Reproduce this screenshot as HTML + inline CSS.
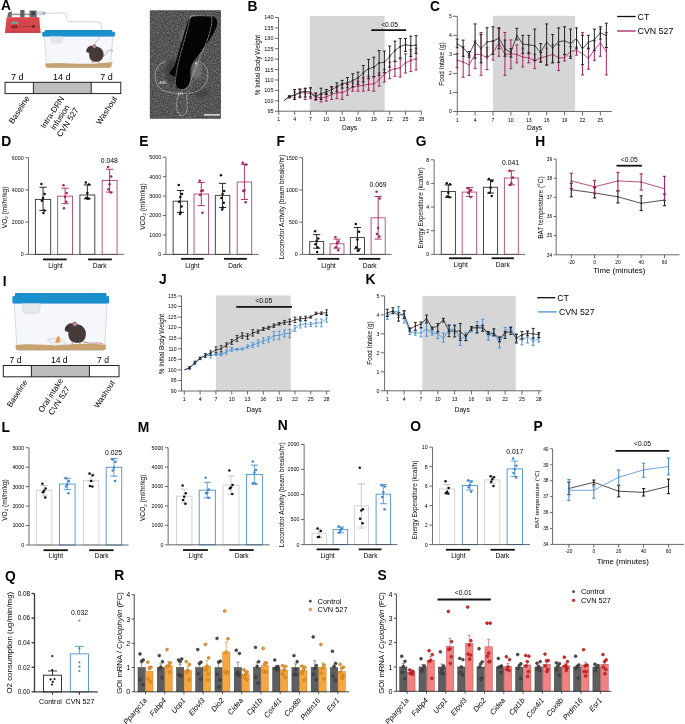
<!DOCTYPE html>
<html><head><meta charset="utf-8"><style>html,body{margin:0;padding:0;background:#fff;width:685px;height:724px;overflow:hidden}svg{display:block;will-change:transform}text{font-family:"Liberation Sans",sans-serif}</style></head><body>
<svg width="685" height="724" viewBox="0 0 685 724" font-family='"Liberation Sans", sans-serif'>
<rect x="0" y="0" width="685" height="724" fill="#fff"/>
<path d="M7.2 17.3 L8 12.8 L11.8 11 L11.8 17.3 Z" fill="#6b6b6b"/>
<rect x="11.5" y="13.6" width="25" height="1.6" fill="#9a9a9a"/>
<rect x="20.2" y="10.0" width="4.4" height="7.4" rx="0.8" fill="#626262"/>
<rect x="29.5" y="10.4" width="7.2" height="7.0" rx="0.5" fill="#6a6a6a"/>
<rect x="31.5" y="11.8" width="3.4" height="3.2" fill="#3c3c3c"/>
<rect x="36.5" y="11.8" width="7.2" height="3.0" rx="0.4" fill="#d9dde2" stroke="#8f959c" stroke-width="0.35"/>
<rect x="42.6" y="12.0" width="2.6" height="2.6" rx="0.5" fill="#8ea3c6"/>
<path d="M6.6 17.2 L39.2 17.2 L40.6 32.8 L5.0 32.8 Z" fill="#d8464b"/>
<path d="M5 31.6 L40.6 31.6 L40.6 32.8 L5.0 32.8 Z" fill="#b93a3f"/>
<rect x="11.3" y="21.8" width="6.9" height="2.0" fill="#50b6a0"/>
<rect x="11.3" y="25.4" width="6.2" height="2.8" fill="#7e2a30"/>
<rect x="19.4" y="25.9" width="2.1" height="1.2" fill="#8a2e33"/>
<rect x="22.7" y="25.9" width="2.1" height="1.2" fill="#8a2e33"/>
<rect x="26" y="25.9" width="2.1" height="1.2" fill="#8a2e33"/>
<rect x="29.3" y="25.9" width="2.1" height="1.2" fill="#8a2e33"/>
<rect x="32.6" y="25.9" width="2.1" height="1.2" fill="#8a2e33"/>
<rect x="32.2" y="25.1" width="2.5" height="2.5" fill="#5a2226"/>
<rect x="21" y="21.5" width="0.6" height="2.2" fill="#b03a40"/><rect x="25" y="21.5" width="0.6" height="2.2" fill="#b03a40"/>
<path d="M45 13.2 C55 13.5 64 12 66 14 C68 17 64 21 70 21.5 C80 22.5 95 21 100 22.5 C102 24 101.5 30 100.5 36.5" fill="none" stroke="#c8cdd3" stroke-width="0.9"/>
<path d="M44.2 36.5 L46.6 64.7 Q46.6 67.7 48.2 67.7 L108.9 67.7 Q110.5 67.7 110.5 64.7 L112.9 36.5 Z" fill="#f6f7fb" stroke="#b9c6d6" stroke-width="0.6"/>
<path d="M45.4 63.5 Q57.2 62.4 72.2 63.4 T102.2 62.9 T111.7 63.4 L111.7 65.2 Q111.7 67.7 108.9 67.7 L48.2 67.7 Q45.4 67.7 45.4 65.2 Z" fill="#c9a36f"/>
<rect x="44.8" y="30" width="67.5" height="2.82" rx="0.8" fill="#1a8dcb"/>
<rect x="42.2" y="31.82" width="72.7" height="4.68" rx="1.2" fill="#1b90ce"/>
<path d="M50.1 36.5 L51.3 41.5 Q51.6 43 53.6 43 L59.4 43 Q61.4 43 61.7 41.5 L62.9 36.5 Z" fill="#e4e8ed" stroke="#c3cad3" stroke-width="0.4"/>
<line x1="100.5" y1="36.5" x2="92.8" y2="46" stroke="#8b8f94" stroke-width="0.5"/>
<g transform="translate(95 53.8) scale(0.92)"><path d="M7 3 Q11 3 12 0 Q13 -3 16 -4 Q18 -5 19 -3" fill="none" stroke="#c98a8a" stroke-width="0.8"/><path d="M18 -5 L19.5 -3 L17.5 -2.5" fill="none" stroke="#c98a8a" stroke-width="0.6"/><path d="M-5 -5 C-3 -9 5 -9 8 -4 C10.5 0 9.5 6 5 8 C1 9.5 -4 8.5 -5.5 5 C-7 2 -6.5 -2 -5 -5 Z" fill="#463939"/><path d="M-9.6 -3.4 C-9 -7 -6 -9.2 -3 -8.8 C-0.5 -8.4 0.5 -6 -0.5 -3.5 C-1.5 -1.2 -5 -0.4 -7.5 -1.2 C-8.8 -1.6 -9.8 -2.4 -9.6 -3.4 Z" fill="#463939"/><ellipse cx="-0.6" cy="-8.2" rx="2.0" ry="2.3" fill="#8f6565"/><ellipse cx="-0.6" cy="-8.0" rx="1.2" ry="1.5" fill="#c79797"/><circle cx="-6.2" cy="-5" r="0.5" fill="#111"/><path d="M-3.2 7.5 L-3.8 10 L-1.6 10 Z M3.5 7.8 L3.2 10.3 L5.3 10.3 Z" fill="#c98a8a"/></g>
<rect x="33.4" y="82.3" width="57.8" height="11.3" fill="#bdbdbd"/>
<rect x="5.1" y="82.3" width="115.7" height="11.3" fill="none" stroke="#222" stroke-width="1"/>
<line x1="33.4" y1="82.3" x2="33.4" y2="93.6" stroke="#222" stroke-width="1"/>
<line x1="91.2" y1="82.3" x2="91.2" y2="93.6" stroke="#222" stroke-width="1"/>
<text x="17.3" y="79.6" font-size="9" text-anchor="middle">7 d</text>
<text x="61.7" y="79.6" font-size="9" text-anchor="middle">14 d</text>
<text x="106.4" y="79.6" font-size="9" text-anchor="middle">7 d</text>
<text transform="translate(30 98.2) rotate(-57)" font-size="8.1" text-anchor="end">Baseline</text>
<text transform="translate(54.6 113.8) rotate(-57)" font-size="8.1" text-anchor="middle">Intra-DRN</text>
<text transform="translate(62.32 118.81) rotate(-57)" font-size="8.1" text-anchor="middle">infusion</text>
<text transform="translate(70.03 123.82) rotate(-57)" font-size="8.1" text-anchor="middle">CVN 527</text>
<text transform="translate(117.6 98.6) rotate(-57)" font-size="8.1" text-anchor="end">Washout</text>
<defs><filter id="nz" color-interpolation-filters="sRGB" x="0" y="0" width="100%" height="100%"><feTurbulence type="fractalNoise" baseFrequency="0.65" numOctaves="2" seed="7"/><feColorMatrix type="matrix" values="0.4 0 0 0 0.135  0.4 0 0 0 0.135  0.4 0 0 0 0.135  0 0 0 0 1"/><feGaussianBlur stdDeviation="0.35"/></filter><filter id="bl"><feGaussianBlur stdDeviation="1.2"/></filter><clipPath id="mc"><rect x="149.9" y="10.4" width="70.9" height="108.2"/></clipPath></defs>
<rect x="149.9" y="10.4" width="70.9" height="108.2" fill="#5a5a5a"/>
<g clip-path="url(#mc)">
<rect x="149.9" y="10.4" width="70.9" height="108.2" filter="url(#nz)"/>
<g filter="url(#bl)"><ellipse cx="172" cy="72" rx="7" ry="12" fill="#303030" opacity="0.6"/><ellipse cx="197" cy="70" rx="5" ry="9" fill="#8a8a8a" opacity="0.5"/><ellipse cx="183" cy="36" rx="3" ry="6" fill="#8a8a8a" opacity="0.45"/><ellipse cx="201" cy="93" rx="8" ry="5" fill="#3a3a3a" opacity="0.5"/></g>
<path d="M189 19 C192 15 205 15 212 16 C218 17 218 24 216 28 C213 35 209 41 205 46 C200 53 196 58 192 64 C190 68 190 74 190.5 79 C190 85 187 89 182 90 C177 90 175 88 175 84 L175 76 C173 76 170 75 169.5 72.5 C171 70 173 68 174.5 66 C177 58 179 50 182 41 C184 33 186 26 189 19 Z" fill="#050505"/>
<circle cx="196" cy="63.5" r="1.1" fill="#e8e8e8" opacity="0.8"/>
</g>
<path d="M190.5 16.2 C197 15.5 205 15.6 211.6 16.2 C213 25 208 40 203 50 C198 62 193 74 190.5 82 C188 88 185 89.5 181.5 89.5 C177.5 89.5 175.5 87 175.3 83 C176 70 180 55 183 45 C186 35 188.5 25 190.5 16.2 Z" fill="none" stroke="#e2e2e2" stroke-width="0.75" stroke-dasharray="0.05 1.35" stroke-linecap="round"/>
<path d="M165.5 61.6 C160 63 155.5 68 155.3 74 C155 81 157 86 161 89 C165 92 172 93.3 180 93.5 C187 93.6 194 93 199 90.5 C205 87 207.8 81 207.7 74 C207.5 68 205 64.5 200.5 62.4" fill="none" stroke="#e2e2e2" stroke-width="0.75" stroke-dasharray="0.05 1.35" stroke-linecap="round"/>
<path d="M178.3 94.3 C177 99 176.4 104 176.6 108 C177 112 179 115.6 181.9 115.6 C185 115.6 187.2 112 187.2 107.5 C187.2 102 186.7 98 186.5 95" fill="none" stroke="#e2e2e2" stroke-width="0.75" stroke-dasharray="0.05 1.35" stroke-linecap="round"/>
<text x="158.2" y="83.9" font-size="3" fill="#e4e4e4">vlPAG</text>
<text x="178" y="95.3" font-size="3.3" fill="#e4e4e4">DR</text>
<line x1="204" y1="114.9" x2="219.9" y2="114.9" stroke="#f4f4f4" stroke-width="1.3"/>
<rect x="309.9" y="16" width="74.8" height="95.2" fill="#d6d6d6"/>
<path d="M284.08 100.76 C284.96 100.12 287.6 97.94 289.36 96.95 C291.12 95.96 292.88 95.49 294.64 94.8 C296.4 94.11 298.16 93.14 299.92 92.81 C301.68 92.48 303.44 92.67 305.2 92.81 C306.96 92.95 308.72 92.95 310.48 93.64 C312.24 94.33 314 96.26 315.76 96.95 C317.52 97.64 319.28 97.78 321.04 97.78 C322.8 97.78 324.56 97.5 326.32 96.95 C328.08 96.4 329.84 95.16 331.6 94.47 C333.36 93.77 335.12 93.14 336.88 92.81 C338.64 92.48 340.4 92.89 342.16 92.48 C343.92 92.06 345.68 91.24 347.44 90.32 C349.2 89.41 350.96 87.7 352.72 87.01 C354.48 86.32 356.24 86.46 358 86.18 C359.76 85.91 361.52 85.69 363.28 85.36 C365.04 85.02 366.8 84.47 368.56 84.2 C370.32 83.92 372.08 84.47 373.84 83.7 C375.6 82.93 377.36 81.08 379.12 79.56 C380.88 78.04 382.64 76.11 384.4 74.59 C386.16 73.07 387.92 71.42 389.68 70.45 C391.44 69.48 393.2 69.26 394.96 68.79 C396.72 68.33 398.48 68.6 400.24 67.63 C402 66.67 403.76 64.18 405.52 63 C407.28 61.81 409.04 61.2 410.8 60.51 C412.56 59.82 415.2 59.13 416.08 58.86" fill="none" stroke="#a3225f" stroke-width="0.8"/>
<line x1="289.36" y1="96.12" x2="289.36" y2="97.78" stroke="#a3225f" stroke-width="1"/>
<line x1="287.86" y1="96.12" x2="290.86" y2="96.12" stroke="#a3225f" stroke-width="1"/>
<line x1="287.86" y1="97.78" x2="290.86" y2="97.78" stroke="#a3225f" stroke-width="1"/>
<circle cx="289.36" cy="96.95" r="0.9" fill="#a3225f"/>
<line x1="294.64" y1="91.98" x2="294.64" y2="97.78" stroke="#a3225f" stroke-width="1"/>
<line x1="293.14" y1="91.98" x2="296.14" y2="91.98" stroke="#a3225f" stroke-width="1"/>
<line x1="293.14" y1="97.78" x2="296.14" y2="97.78" stroke="#a3225f" stroke-width="1"/>
<circle cx="294.64" cy="94.8" r="0.9" fill="#a3225f"/>
<line x1="299.92" y1="89.17" x2="299.92" y2="97.78" stroke="#a3225f" stroke-width="1"/>
<line x1="298.42" y1="89.17" x2="301.42" y2="89.17" stroke="#a3225f" stroke-width="1"/>
<line x1="298.42" y1="97.78" x2="301.42" y2="97.78" stroke="#a3225f" stroke-width="1"/>
<circle cx="299.92" cy="92.81" r="0.9" fill="#a3225f"/>
<line x1="305.2" y1="88.67" x2="305.2" y2="99.43" stroke="#a3225f" stroke-width="1"/>
<line x1="303.7" y1="88.67" x2="306.7" y2="88.67" stroke="#a3225f" stroke-width="1"/>
<line x1="303.7" y1="99.43" x2="306.7" y2="99.43" stroke="#a3225f" stroke-width="1"/>
<circle cx="305.2" cy="92.81" r="0.9" fill="#a3225f"/>
<line x1="310.48" y1="87.84" x2="310.48" y2="98.61" stroke="#a3225f" stroke-width="1"/>
<line x1="308.98" y1="87.84" x2="311.98" y2="87.84" stroke="#a3225f" stroke-width="1"/>
<line x1="308.98" y1="98.61" x2="311.98" y2="98.61" stroke="#a3225f" stroke-width="1"/>
<circle cx="310.48" cy="93.64" r="0.9" fill="#a3225f"/>
<line x1="315.76" y1="92.81" x2="315.76" y2="100.26" stroke="#a3225f" stroke-width="1"/>
<line x1="314.26" y1="92.81" x2="317.26" y2="92.81" stroke="#a3225f" stroke-width="1"/>
<line x1="314.26" y1="100.26" x2="317.26" y2="100.26" stroke="#a3225f" stroke-width="1"/>
<circle cx="315.76" cy="96.95" r="0.9" fill="#a3225f"/>
<line x1="321.04" y1="94.47" x2="321.04" y2="101.92" stroke="#a3225f" stroke-width="1"/>
<line x1="319.54" y1="94.47" x2="322.54" y2="94.47" stroke="#a3225f" stroke-width="1"/>
<line x1="319.54" y1="101.92" x2="322.54" y2="101.92" stroke="#a3225f" stroke-width="1"/>
<circle cx="321.04" cy="97.78" r="0.9" fill="#a3225f"/>
<line x1="326.32" y1="93.64" x2="326.32" y2="101.09" stroke="#a3225f" stroke-width="1"/>
<line x1="324.82" y1="93.64" x2="327.82" y2="93.64" stroke="#a3225f" stroke-width="1"/>
<line x1="324.82" y1="101.09" x2="327.82" y2="101.09" stroke="#a3225f" stroke-width="1"/>
<circle cx="326.32" cy="96.95" r="0.9" fill="#a3225f"/>
<line x1="331.6" y1="87.01" x2="331.6" y2="99.43" stroke="#a3225f" stroke-width="1"/>
<line x1="330.1" y1="87.01" x2="333.1" y2="87.01" stroke="#a3225f" stroke-width="1"/>
<line x1="330.1" y1="99.43" x2="333.1" y2="99.43" stroke="#a3225f" stroke-width="1"/>
<circle cx="331.6" cy="94.47" r="0.9" fill="#a3225f"/>
<line x1="336.88" y1="86.18" x2="336.88" y2="98.61" stroke="#a3225f" stroke-width="1"/>
<line x1="335.38" y1="86.18" x2="338.38" y2="86.18" stroke="#a3225f" stroke-width="1"/>
<line x1="335.38" y1="98.61" x2="338.38" y2="98.61" stroke="#a3225f" stroke-width="1"/>
<circle cx="336.88" cy="92.81" r="0.9" fill="#a3225f"/>
<line x1="342.16" y1="84.53" x2="342.16" y2="99.43" stroke="#a3225f" stroke-width="1"/>
<line x1="340.66" y1="84.53" x2="343.66" y2="84.53" stroke="#a3225f" stroke-width="1"/>
<line x1="340.66" y1="99.43" x2="343.66" y2="99.43" stroke="#a3225f" stroke-width="1"/>
<circle cx="342.16" cy="92.48" r="0.9" fill="#a3225f"/>
<line x1="347.44" y1="84.53" x2="347.44" y2="95.29" stroke="#a3225f" stroke-width="1"/>
<line x1="345.94" y1="84.53" x2="348.94" y2="84.53" stroke="#a3225f" stroke-width="1"/>
<line x1="345.94" y1="95.29" x2="348.94" y2="95.29" stroke="#a3225f" stroke-width="1"/>
<circle cx="347.44" cy="90.32" r="0.9" fill="#a3225f"/>
<line x1="352.72" y1="82.87" x2="352.72" y2="91.15" stroke="#a3225f" stroke-width="1"/>
<line x1="351.22" y1="82.87" x2="354.22" y2="82.87" stroke="#a3225f" stroke-width="1"/>
<line x1="351.22" y1="91.15" x2="354.22" y2="91.15" stroke="#a3225f" stroke-width="1"/>
<circle cx="352.72" cy="87.01" r="0.9" fill="#a3225f"/>
<line x1="358" y1="81.22" x2="358" y2="91.15" stroke="#a3225f" stroke-width="1"/>
<line x1="356.5" y1="81.22" x2="359.5" y2="81.22" stroke="#a3225f" stroke-width="1"/>
<line x1="356.5" y1="91.15" x2="359.5" y2="91.15" stroke="#a3225f" stroke-width="1"/>
<circle cx="358" cy="86.18" r="0.9" fill="#a3225f"/>
<line x1="363.28" y1="77.9" x2="363.28" y2="91.15" stroke="#a3225f" stroke-width="1"/>
<line x1="361.78" y1="77.9" x2="364.78" y2="77.9" stroke="#a3225f" stroke-width="1"/>
<line x1="361.78" y1="91.15" x2="364.78" y2="91.15" stroke="#a3225f" stroke-width="1"/>
<circle cx="363.28" cy="85.36" r="0.9" fill="#a3225f"/>
<line x1="368.56" y1="76.25" x2="368.56" y2="90.32" stroke="#a3225f" stroke-width="1"/>
<line x1="367.06" y1="76.25" x2="370.06" y2="76.25" stroke="#a3225f" stroke-width="1"/>
<line x1="367.06" y1="90.32" x2="370.06" y2="90.32" stroke="#a3225f" stroke-width="1"/>
<circle cx="368.56" cy="84.2" r="0.9" fill="#a3225f"/>
<line x1="373.84" y1="77.08" x2="373.84" y2="91.15" stroke="#a3225f" stroke-width="1"/>
<line x1="372.34" y1="77.08" x2="375.34" y2="77.08" stroke="#a3225f" stroke-width="1"/>
<line x1="372.34" y1="91.15" x2="375.34" y2="91.15" stroke="#a3225f" stroke-width="1"/>
<circle cx="373.84" cy="83.7" r="0.9" fill="#a3225f"/>
<line x1="379.12" y1="72.93" x2="379.12" y2="86.18" stroke="#a3225f" stroke-width="1"/>
<line x1="377.62" y1="72.93" x2="380.62" y2="72.93" stroke="#a3225f" stroke-width="1"/>
<line x1="377.62" y1="86.18" x2="380.62" y2="86.18" stroke="#a3225f" stroke-width="1"/>
<circle cx="379.12" cy="79.56" r="0.9" fill="#a3225f"/>
<line x1="384.4" y1="69.62" x2="384.4" y2="82.04" stroke="#a3225f" stroke-width="1"/>
<line x1="382.9" y1="69.62" x2="385.9" y2="69.62" stroke="#a3225f" stroke-width="1"/>
<line x1="382.9" y1="82.04" x2="385.9" y2="82.04" stroke="#a3225f" stroke-width="1"/>
<circle cx="384.4" cy="74.59" r="0.9" fill="#a3225f"/>
<line x1="389.68" y1="62.17" x2="389.68" y2="78.73" stroke="#a3225f" stroke-width="1"/>
<line x1="388.18" y1="62.17" x2="391.18" y2="62.17" stroke="#a3225f" stroke-width="1"/>
<line x1="388.18" y1="78.73" x2="391.18" y2="78.73" stroke="#a3225f" stroke-width="1"/>
<circle cx="389.68" cy="70.45" r="0.9" fill="#a3225f"/>
<line x1="394.96" y1="61.34" x2="394.96" y2="76.25" stroke="#a3225f" stroke-width="1"/>
<line x1="393.46" y1="61.34" x2="396.46" y2="61.34" stroke="#a3225f" stroke-width="1"/>
<line x1="393.46" y1="76.25" x2="396.46" y2="76.25" stroke="#a3225f" stroke-width="1"/>
<circle cx="394.96" cy="68.79" r="0.9" fill="#a3225f"/>
<line x1="400.24" y1="58.86" x2="400.24" y2="77.08" stroke="#a3225f" stroke-width="1"/>
<line x1="398.74" y1="58.86" x2="401.74" y2="58.86" stroke="#a3225f" stroke-width="1"/>
<line x1="398.74" y1="77.08" x2="401.74" y2="77.08" stroke="#a3225f" stroke-width="1"/>
<circle cx="400.24" cy="67.63" r="0.9" fill="#a3225f"/>
<line x1="405.52" y1="53.89" x2="405.52" y2="72.93" stroke="#a3225f" stroke-width="1"/>
<line x1="404.02" y1="53.89" x2="407.02" y2="53.89" stroke="#a3225f" stroke-width="1"/>
<line x1="404.02" y1="72.93" x2="407.02" y2="72.93" stroke="#a3225f" stroke-width="1"/>
<circle cx="405.52" cy="63" r="0.9" fill="#a3225f"/>
<line x1="410.8" y1="49.75" x2="410.8" y2="71.61" stroke="#a3225f" stroke-width="1"/>
<line x1="409.3" y1="49.75" x2="412.3" y2="49.75" stroke="#a3225f" stroke-width="1"/>
<line x1="409.3" y1="71.61" x2="412.3" y2="71.61" stroke="#a3225f" stroke-width="1"/>
<circle cx="410.8" cy="60.51" r="0.9" fill="#a3225f"/>
<line x1="416.08" y1="48.09" x2="416.08" y2="69.95" stroke="#a3225f" stroke-width="1"/>
<line x1="414.58" y1="48.09" x2="417.58" y2="48.09" stroke="#a3225f" stroke-width="1"/>
<line x1="414.58" y1="69.95" x2="417.58" y2="69.95" stroke="#a3225f" stroke-width="1"/>
<circle cx="416.08" cy="58.86" r="0.9" fill="#a3225f"/>
<path d="M284.08 100.76 C284.96 100.07 287.6 97.53 289.36 96.62 C291.12 95.71 292.88 96.01 294.64 95.29 C296.4 94.58 298.16 92.95 299.92 92.31 C301.68 91.68 303.44 91.48 305.2 91.48 C306.96 91.48 308.72 91.54 310.48 92.31 C312.24 93.08 314 95.9 315.76 96.12 C317.52 96.34 319.28 94.33 321.04 93.64 C322.8 92.95 324.56 92.67 326.32 91.98 C328.08 91.29 329.84 90.32 331.6 89.5 C333.36 88.67 335.12 87.98 336.88 87.01 C338.64 86.05 340.4 84.39 342.16 83.7 C343.92 83.01 345.68 83.42 347.44 82.87 C349.2 82.32 350.96 81.22 352.72 80.39 C354.48 79.56 356.24 79.15 358 77.9 C359.76 76.66 361.52 74.45 363.28 72.93 C365.04 71.42 366.8 69.76 368.56 68.79 C370.32 67.83 372.08 68.1 373.84 67.14 C375.6 66.17 377.36 63.83 379.12 63 C380.88 62.17 382.64 63.27 384.4 62.17 C386.16 61.07 387.92 58.31 389.68 56.37 C391.44 54.44 393.2 52.18 394.96 50.58 C396.72 48.98 398.48 47.73 400.24 46.77 C402 45.8 403.76 44.97 405.52 44.78 C407.28 44.59 409.04 45.55 410.8 45.61 C412.56 45.66 415.2 45.19 416.08 45.11" fill="none" stroke="#222" stroke-width="0.8"/>
<line x1="289.36" y1="95.79" x2="289.36" y2="97.78" stroke="#222" stroke-width="1"/>
<line x1="287.86" y1="95.79" x2="290.86" y2="95.79" stroke="#222" stroke-width="1"/>
<line x1="287.86" y1="97.78" x2="290.86" y2="97.78" stroke="#222" stroke-width="1"/>
<circle cx="289.36" cy="96.62" r="0.9" fill="#222"/>
<line x1="294.64" y1="89.5" x2="294.64" y2="99.43" stroke="#222" stroke-width="1"/>
<line x1="293.14" y1="89.5" x2="296.14" y2="89.5" stroke="#222" stroke-width="1"/>
<line x1="293.14" y1="99.43" x2="296.14" y2="99.43" stroke="#222" stroke-width="1"/>
<circle cx="294.64" cy="95.29" r="0.9" fill="#222"/>
<line x1="299.92" y1="89.17" x2="299.92" y2="96.95" stroke="#222" stroke-width="1"/>
<line x1="298.42" y1="89.17" x2="301.42" y2="89.17" stroke="#222" stroke-width="1"/>
<line x1="298.42" y1="96.95" x2="301.42" y2="96.95" stroke="#222" stroke-width="1"/>
<circle cx="299.92" cy="92.31" r="0.9" fill="#222"/>
<line x1="305.2" y1="88.17" x2="305.2" y2="96.95" stroke="#222" stroke-width="1"/>
<line x1="303.7" y1="88.17" x2="306.7" y2="88.17" stroke="#222" stroke-width="1"/>
<line x1="303.7" y1="96.95" x2="306.7" y2="96.95" stroke="#222" stroke-width="1"/>
<circle cx="305.2" cy="91.48" r="0.9" fill="#222"/>
<line x1="310.48" y1="87.84" x2="310.48" y2="96.95" stroke="#222" stroke-width="1"/>
<line x1="308.98" y1="87.84" x2="311.98" y2="87.84" stroke="#222" stroke-width="1"/>
<line x1="308.98" y1="96.95" x2="311.98" y2="96.95" stroke="#222" stroke-width="1"/>
<circle cx="310.48" cy="92.31" r="0.9" fill="#222"/>
<line x1="315.76" y1="93.64" x2="315.76" y2="99.43" stroke="#222" stroke-width="1"/>
<line x1="314.26" y1="93.64" x2="317.26" y2="93.64" stroke="#222" stroke-width="1"/>
<line x1="314.26" y1="99.43" x2="317.26" y2="99.43" stroke="#222" stroke-width="1"/>
<circle cx="315.76" cy="96.12" r="0.9" fill="#222"/>
<line x1="321.04" y1="88.17" x2="321.04" y2="99.43" stroke="#222" stroke-width="1"/>
<line x1="319.54" y1="88.17" x2="322.54" y2="88.17" stroke="#222" stroke-width="1"/>
<line x1="319.54" y1="99.43" x2="322.54" y2="99.43" stroke="#222" stroke-width="1"/>
<circle cx="321.04" cy="93.64" r="0.9" fill="#222"/>
<line x1="326.32" y1="89.5" x2="326.32" y2="94.47" stroke="#222" stroke-width="1"/>
<line x1="324.82" y1="89.5" x2="327.82" y2="89.5" stroke="#222" stroke-width="1"/>
<line x1="324.82" y1="94.47" x2="327.82" y2="94.47" stroke="#222" stroke-width="1"/>
<circle cx="326.32" cy="91.98" r="0.9" fill="#222"/>
<line x1="331.6" y1="86.52" x2="331.6" y2="92.81" stroke="#222" stroke-width="1"/>
<line x1="330.1" y1="86.52" x2="333.1" y2="86.52" stroke="#222" stroke-width="1"/>
<line x1="330.1" y1="92.81" x2="333.1" y2="92.81" stroke="#222" stroke-width="1"/>
<circle cx="331.6" cy="89.5" r="0.9" fill="#222"/>
<line x1="336.88" y1="82.87" x2="336.88" y2="91.15" stroke="#222" stroke-width="1"/>
<line x1="335.38" y1="82.87" x2="338.38" y2="82.87" stroke="#222" stroke-width="1"/>
<line x1="335.38" y1="91.15" x2="338.38" y2="91.15" stroke="#222" stroke-width="1"/>
<circle cx="336.88" cy="87.01" r="0.9" fill="#222"/>
<line x1="342.16" y1="80.39" x2="342.16" y2="88.17" stroke="#222" stroke-width="1"/>
<line x1="340.66" y1="80.39" x2="343.66" y2="80.39" stroke="#222" stroke-width="1"/>
<line x1="340.66" y1="88.17" x2="343.66" y2="88.17" stroke="#222" stroke-width="1"/>
<circle cx="342.16" cy="83.7" r="0.9" fill="#222"/>
<line x1="347.44" y1="77.57" x2="347.44" y2="87.84" stroke="#222" stroke-width="1"/>
<line x1="345.94" y1="77.57" x2="348.94" y2="77.57" stroke="#222" stroke-width="1"/>
<line x1="345.94" y1="87.84" x2="348.94" y2="87.84" stroke="#222" stroke-width="1"/>
<circle cx="347.44" cy="82.87" r="0.9" fill="#222"/>
<line x1="352.72" y1="73.76" x2="352.72" y2="87.01" stroke="#222" stroke-width="1"/>
<line x1="351.22" y1="73.76" x2="354.22" y2="73.76" stroke="#222" stroke-width="1"/>
<line x1="351.22" y1="87.01" x2="354.22" y2="87.01" stroke="#222" stroke-width="1"/>
<circle cx="352.72" cy="80.39" r="0.9" fill="#222"/>
<line x1="358" y1="72.11" x2="358" y2="84.2" stroke="#222" stroke-width="1"/>
<line x1="356.5" y1="72.11" x2="359.5" y2="72.11" stroke="#222" stroke-width="1"/>
<line x1="356.5" y1="84.2" x2="359.5" y2="84.2" stroke="#222" stroke-width="1"/>
<circle cx="358" cy="77.9" r="0.9" fill="#222"/>
<line x1="363.28" y1="65.48" x2="363.28" y2="82.04" stroke="#222" stroke-width="1"/>
<line x1="361.78" y1="65.48" x2="364.78" y2="65.48" stroke="#222" stroke-width="1"/>
<line x1="361.78" y1="82.04" x2="364.78" y2="82.04" stroke="#222" stroke-width="1"/>
<circle cx="363.28" cy="72.93" r="0.9" fill="#222"/>
<line x1="368.56" y1="59.35" x2="368.56" y2="78.73" stroke="#222" stroke-width="1"/>
<line x1="367.06" y1="59.35" x2="370.06" y2="59.35" stroke="#222" stroke-width="1"/>
<line x1="367.06" y1="78.73" x2="370.06" y2="78.73" stroke="#222" stroke-width="1"/>
<circle cx="368.56" cy="68.79" r="0.9" fill="#222"/>
<line x1="373.84" y1="57.2" x2="373.84" y2="76.58" stroke="#222" stroke-width="1"/>
<line x1="372.34" y1="57.2" x2="375.34" y2="57.2" stroke="#222" stroke-width="1"/>
<line x1="372.34" y1="76.58" x2="375.34" y2="76.58" stroke="#222" stroke-width="1"/>
<circle cx="373.84" cy="67.14" r="0.9" fill="#222"/>
<line x1="379.12" y1="50.58" x2="379.12" y2="75.42" stroke="#222" stroke-width="1"/>
<line x1="377.62" y1="50.58" x2="380.62" y2="50.58" stroke="#222" stroke-width="1"/>
<line x1="377.62" y1="75.42" x2="380.62" y2="75.42" stroke="#222" stroke-width="1"/>
<circle cx="379.12" cy="63" r="0.9" fill="#222"/>
<line x1="384.4" y1="51.07" x2="384.4" y2="72.6" stroke="#222" stroke-width="1"/>
<line x1="382.9" y1="51.07" x2="385.9" y2="51.07" stroke="#222" stroke-width="1"/>
<line x1="382.9" y1="72.6" x2="385.9" y2="72.6" stroke="#222" stroke-width="1"/>
<circle cx="384.4" cy="62.17" r="0.9" fill="#222"/>
<line x1="389.68" y1="46.1" x2="389.68" y2="67.14" stroke="#222" stroke-width="1"/>
<line x1="388.18" y1="46.1" x2="391.18" y2="46.1" stroke="#222" stroke-width="1"/>
<line x1="388.18" y1="67.14" x2="391.18" y2="67.14" stroke="#222" stroke-width="1"/>
<circle cx="389.68" cy="56.37" r="0.9" fill="#222"/>
<line x1="394.96" y1="41.14" x2="394.96" y2="61.34" stroke="#222" stroke-width="1"/>
<line x1="393.46" y1="41.14" x2="396.46" y2="41.14" stroke="#222" stroke-width="1"/>
<line x1="393.46" y1="61.34" x2="396.46" y2="61.34" stroke="#222" stroke-width="1"/>
<circle cx="394.96" cy="50.58" r="0.9" fill="#222"/>
<line x1="400.24" y1="38.49" x2="400.24" y2="58.03" stroke="#222" stroke-width="1"/>
<line x1="398.74" y1="38.49" x2="401.74" y2="38.49" stroke="#222" stroke-width="1"/>
<line x1="398.74" y1="58.03" x2="401.74" y2="58.03" stroke="#222" stroke-width="1"/>
<circle cx="400.24" cy="46.77" r="0.9" fill="#222"/>
<line x1="405.52" y1="38.49" x2="405.52" y2="51.4" stroke="#222" stroke-width="1"/>
<line x1="404.02" y1="38.49" x2="407.02" y2="38.49" stroke="#222" stroke-width="1"/>
<line x1="404.02" y1="51.4" x2="407.02" y2="51.4" stroke="#222" stroke-width="1"/>
<circle cx="405.52" cy="44.78" r="0.9" fill="#222"/>
<line x1="410.8" y1="36.17" x2="410.8" y2="56.37" stroke="#222" stroke-width="1"/>
<line x1="409.3" y1="36.17" x2="412.3" y2="36.17" stroke="#222" stroke-width="1"/>
<line x1="409.3" y1="56.37" x2="412.3" y2="56.37" stroke="#222" stroke-width="1"/>
<circle cx="410.8" cy="45.61" r="0.9" fill="#222"/>
<line x1="416.08" y1="35.67" x2="416.08" y2="53.39" stroke="#222" stroke-width="1"/>
<line x1="414.58" y1="35.67" x2="417.58" y2="35.67" stroke="#222" stroke-width="1"/>
<line x1="414.58" y1="53.39" x2="417.58" y2="53.39" stroke="#222" stroke-width="1"/>
<circle cx="416.08" cy="45.11" r="0.9" fill="#222"/>
<line x1="278.5" y1="17.5" x2="278.5" y2="111.2" stroke="#444" stroke-width="0.8"/>
<line x1="275" y1="111.2" x2="278.5" y2="111.2" stroke="#444" stroke-width="0.8"/>
<text x="273.5" y="113.18" font-size="5.5" text-anchor="end">95</text>
<line x1="275" y1="100.79" x2="278.5" y2="100.79" stroke="#444" stroke-width="0.8"/>
<text x="273.5" y="102.77" font-size="5.5" text-anchor="end">100</text>
<line x1="275" y1="90.38" x2="278.5" y2="90.38" stroke="#444" stroke-width="0.8"/>
<text x="273.5" y="92.36" font-size="5.5" text-anchor="end">105</text>
<line x1="275" y1="79.97" x2="278.5" y2="79.97" stroke="#444" stroke-width="0.8"/>
<text x="273.5" y="81.95" font-size="5.5" text-anchor="end">110</text>
<line x1="275" y1="69.56" x2="278.5" y2="69.56" stroke="#444" stroke-width="0.8"/>
<text x="273.5" y="71.54" font-size="5.5" text-anchor="end">115</text>
<line x1="275" y1="59.15" x2="278.5" y2="59.15" stroke="#444" stroke-width="0.8"/>
<text x="273.5" y="61.13" font-size="5.5" text-anchor="end">120</text>
<line x1="275" y1="48.73" x2="278.5" y2="48.73" stroke="#444" stroke-width="0.8"/>
<text x="273.5" y="50.71" font-size="5.5" text-anchor="end">125</text>
<line x1="275" y1="38.32" x2="278.5" y2="38.32" stroke="#444" stroke-width="0.8"/>
<text x="273.5" y="40.3" font-size="5.5" text-anchor="end">130</text>
<line x1="275" y1="27.91" x2="278.5" y2="27.91" stroke="#444" stroke-width="0.8"/>
<text x="273.5" y="29.89" font-size="5.5" text-anchor="end">135</text>
<line x1="275" y1="17.5" x2="278.5" y2="17.5" stroke="#444" stroke-width="0.8"/>
<text x="273.5" y="19.48" font-size="5.5" text-anchor="end">140</text>
<line x1="278.5" y1="111.2" x2="421.5" y2="111.2" stroke="#444" stroke-width="0.8"/>
<line x1="278.8" y1="111.2" x2="278.8" y2="114.8" stroke="#444" stroke-width="0.8"/>
<text x="278.8" y="121.12" font-size="5.3" text-anchor="middle">1</text>
<line x1="294.64" y1="111.2" x2="294.64" y2="114.8" stroke="#444" stroke-width="0.8"/>
<text x="294.64" y="121.12" font-size="5.3" text-anchor="middle">4</text>
<line x1="310.48" y1="111.2" x2="310.48" y2="114.8" stroke="#444" stroke-width="0.8"/>
<text x="310.48" y="121.12" font-size="5.3" text-anchor="middle">7</text>
<line x1="326.32" y1="111.2" x2="326.32" y2="114.8" stroke="#444" stroke-width="0.8"/>
<text x="326.32" y="121.12" font-size="5.3" text-anchor="middle">10</text>
<line x1="342.16" y1="111.2" x2="342.16" y2="114.8" stroke="#444" stroke-width="0.8"/>
<text x="342.16" y="121.12" font-size="5.3" text-anchor="middle">13</text>
<line x1="358" y1="111.2" x2="358" y2="114.8" stroke="#444" stroke-width="0.8"/>
<text x="358" y="121.12" font-size="5.3" text-anchor="middle">16</text>
<line x1="373.84" y1="111.2" x2="373.84" y2="114.8" stroke="#444" stroke-width="0.8"/>
<text x="373.84" y="121.12" font-size="5.3" text-anchor="middle">19</text>
<line x1="389.68" y1="111.2" x2="389.68" y2="114.8" stroke="#444" stroke-width="0.8"/>
<text x="389.68" y="121.12" font-size="5.3" text-anchor="middle">22</text>
<line x1="405.52" y1="111.2" x2="405.52" y2="114.8" stroke="#444" stroke-width="0.8"/>
<text x="405.52" y="121.12" font-size="5.3" text-anchor="middle">25</text>
<line x1="421.36" y1="111.2" x2="421.36" y2="114.8" stroke="#444" stroke-width="0.8"/>
<text x="421.36" y="121.12" font-size="5.3" text-anchor="middle">28</text>
<text x="349.5" y="129.6" font-size="6.6" text-anchor="middle">Days</text>
<text transform="translate(259.8 65) rotate(-90)" font-size="6.4" text-anchor="middle">% Initial Body Weight</text>
<line x1="371.3" y1="30.2" x2="406.1" y2="30.2" stroke="#111" stroke-width="1.8"/>
<text x="389.6" y="26.6" font-size="6.7" text-anchor="middle">&lt;0.05</text>
<rect x="492.9" y="15.8" width="82.2" height="95.7" fill="#d6d6d6"/>
<polyline points="457.2,60.09 463.16,62 469.13,64.85 475.09,54.38 481.06,54.38 487.02,58.19 492.99,52.48 498.95,42.96 504.92,54.38 510.88,53.81 516.85,54.38 522.81,57.05 528.78,57.81 534.75,60.66 540.71,57.81 546.67,56.28 552.64,54.38 558.61,57.81 564.57,57.81 570.53,51.33 576.5,50.76 582.47,53.43 588.43,58.38 594.39,49.81 600.36,42.96 606.33,51.33" fill="none" stroke="#a3225f" stroke-width="0.8"/>
<line x1="457.2" y1="53.43" x2="457.2" y2="67.71" stroke="#a3225f" stroke-width="1"/>
<line x1="455.7" y1="53.43" x2="458.7" y2="53.43" stroke="#a3225f" stroke-width="1"/>
<line x1="455.7" y1="67.71" x2="458.7" y2="67.71" stroke="#a3225f" stroke-width="1"/>
<circle cx="457.2" cy="60.09" r="0.7" fill="#a3225f"/>
<line x1="463.16" y1="46.76" x2="463.16" y2="77.23" stroke="#a3225f" stroke-width="1"/>
<line x1="461.66" y1="46.76" x2="464.66" y2="46.76" stroke="#a3225f" stroke-width="1"/>
<line x1="461.66" y1="77.23" x2="464.66" y2="77.23" stroke="#a3225f" stroke-width="1"/>
<circle cx="463.16" cy="62" r="0.7" fill="#a3225f"/>
<line x1="469.13" y1="55.33" x2="469.13" y2="75.32" stroke="#a3225f" stroke-width="1"/>
<line x1="467.63" y1="55.33" x2="470.63" y2="55.33" stroke="#a3225f" stroke-width="1"/>
<line x1="467.63" y1="75.32" x2="470.63" y2="75.32" stroke="#a3225f" stroke-width="1"/>
<circle cx="469.13" cy="64.85" r="0.7" fill="#a3225f"/>
<line x1="475.09" y1="41.05" x2="475.09" y2="68.66" stroke="#a3225f" stroke-width="1"/>
<line x1="473.59" y1="41.05" x2="476.59" y2="41.05" stroke="#a3225f" stroke-width="1"/>
<line x1="473.59" y1="68.66" x2="476.59" y2="68.66" stroke="#a3225f" stroke-width="1"/>
<circle cx="475.09" cy="54.38" r="0.7" fill="#a3225f"/>
<line x1="481.06" y1="32.48" x2="481.06" y2="75.32" stroke="#a3225f" stroke-width="1"/>
<line x1="479.56" y1="32.48" x2="482.56" y2="32.48" stroke="#a3225f" stroke-width="1"/>
<line x1="479.56" y1="75.32" x2="482.56" y2="75.32" stroke="#a3225f" stroke-width="1"/>
<circle cx="481.06" cy="54.38" r="0.7" fill="#a3225f"/>
<line x1="487.02" y1="47.72" x2="487.02" y2="69.61" stroke="#a3225f" stroke-width="1"/>
<line x1="485.52" y1="47.72" x2="488.52" y2="47.72" stroke="#a3225f" stroke-width="1"/>
<line x1="485.52" y1="69.61" x2="488.52" y2="69.61" stroke="#a3225f" stroke-width="1"/>
<circle cx="487.02" cy="58.19" r="0.7" fill="#a3225f"/>
<line x1="492.99" y1="41.05" x2="492.99" y2="60.09" stroke="#a3225f" stroke-width="1"/>
<line x1="491.49" y1="41.05" x2="494.49" y2="41.05" stroke="#a3225f" stroke-width="1"/>
<line x1="491.49" y1="60.09" x2="494.49" y2="60.09" stroke="#a3225f" stroke-width="1"/>
<circle cx="492.99" cy="52.48" r="0.7" fill="#a3225f"/>
<line x1="498.95" y1="28.68" x2="498.95" y2="56.28" stroke="#a3225f" stroke-width="1"/>
<line x1="497.45" y1="28.68" x2="500.45" y2="28.68" stroke="#a3225f" stroke-width="1"/>
<line x1="497.45" y1="56.28" x2="500.45" y2="56.28" stroke="#a3225f" stroke-width="1"/>
<circle cx="498.95" cy="42.96" r="0.7" fill="#a3225f"/>
<line x1="504.92" y1="32.48" x2="504.92" y2="75.32" stroke="#a3225f" stroke-width="1"/>
<line x1="503.42" y1="32.48" x2="506.42" y2="32.48" stroke="#a3225f" stroke-width="1"/>
<line x1="503.42" y1="75.32" x2="506.42" y2="75.32" stroke="#a3225f" stroke-width="1"/>
<circle cx="504.92" cy="54.38" r="0.7" fill="#a3225f"/>
<line x1="510.88" y1="39.91" x2="510.88" y2="68.66" stroke="#a3225f" stroke-width="1"/>
<line x1="509.38" y1="39.91" x2="512.38" y2="39.91" stroke="#a3225f" stroke-width="1"/>
<line x1="509.38" y1="68.66" x2="512.38" y2="68.66" stroke="#a3225f" stroke-width="1"/>
<circle cx="510.88" cy="53.81" r="0.7" fill="#a3225f"/>
<line x1="516.85" y1="44.86" x2="516.85" y2="62.76" stroke="#a3225f" stroke-width="1"/>
<line x1="515.35" y1="44.86" x2="518.35" y2="44.86" stroke="#a3225f" stroke-width="1"/>
<line x1="515.35" y1="62.76" x2="518.35" y2="62.76" stroke="#a3225f" stroke-width="1"/>
<circle cx="516.85" cy="54.38" r="0.7" fill="#a3225f"/>
<line x1="522.81" y1="48.1" x2="522.81" y2="66.95" stroke="#a3225f" stroke-width="1"/>
<line x1="521.31" y1="48.1" x2="524.31" y2="48.1" stroke="#a3225f" stroke-width="1"/>
<line x1="521.31" y1="66.95" x2="524.31" y2="66.95" stroke="#a3225f" stroke-width="1"/>
<circle cx="522.81" cy="57.05" r="0.7" fill="#a3225f"/>
<line x1="528.78" y1="52.48" x2="528.78" y2="62.76" stroke="#a3225f" stroke-width="1"/>
<line x1="527.28" y1="52.48" x2="530.28" y2="52.48" stroke="#a3225f" stroke-width="1"/>
<line x1="527.28" y1="62.76" x2="530.28" y2="62.76" stroke="#a3225f" stroke-width="1"/>
<circle cx="528.78" cy="57.81" r="0.7" fill="#a3225f"/>
<line x1="534.75" y1="54.38" x2="534.75" y2="68.66" stroke="#a3225f" stroke-width="1"/>
<line x1="533.25" y1="54.38" x2="536.25" y2="54.38" stroke="#a3225f" stroke-width="1"/>
<line x1="533.25" y1="68.66" x2="536.25" y2="68.66" stroke="#a3225f" stroke-width="1"/>
<circle cx="534.75" cy="60.66" r="0.7" fill="#a3225f"/>
<line x1="540.71" y1="52.48" x2="540.71" y2="62" stroke="#a3225f" stroke-width="1"/>
<line x1="539.21" y1="52.48" x2="542.21" y2="52.48" stroke="#a3225f" stroke-width="1"/>
<line x1="539.21" y1="62" x2="542.21" y2="62" stroke="#a3225f" stroke-width="1"/>
<circle cx="540.71" cy="57.81" r="0.7" fill="#a3225f"/>
<line x1="546.67" y1="48.1" x2="546.67" y2="65.04" stroke="#a3225f" stroke-width="1"/>
<line x1="545.17" y1="48.1" x2="548.17" y2="48.1" stroke="#a3225f" stroke-width="1"/>
<line x1="545.17" y1="65.04" x2="548.17" y2="65.04" stroke="#a3225f" stroke-width="1"/>
<circle cx="546.67" cy="56.28" r="0.7" fill="#a3225f"/>
<line x1="552.64" y1="44.86" x2="552.64" y2="62.76" stroke="#a3225f" stroke-width="1"/>
<line x1="551.14" y1="44.86" x2="554.14" y2="44.86" stroke="#a3225f" stroke-width="1"/>
<line x1="551.14" y1="62.76" x2="554.14" y2="62.76" stroke="#a3225f" stroke-width="1"/>
<circle cx="552.64" cy="54.38" r="0.7" fill="#a3225f"/>
<line x1="558.61" y1="44.86" x2="558.61" y2="70.56" stroke="#a3225f" stroke-width="1"/>
<line x1="557.11" y1="44.86" x2="560.11" y2="44.86" stroke="#a3225f" stroke-width="1"/>
<line x1="557.11" y1="70.56" x2="560.11" y2="70.56" stroke="#a3225f" stroke-width="1"/>
<circle cx="558.61" cy="57.81" r="0.7" fill="#a3225f"/>
<line x1="564.57" y1="54.38" x2="564.57" y2="61.04" stroke="#a3225f" stroke-width="1"/>
<line x1="563.07" y1="54.38" x2="566.07" y2="54.38" stroke="#a3225f" stroke-width="1"/>
<line x1="563.07" y1="61.04" x2="566.07" y2="61.04" stroke="#a3225f" stroke-width="1"/>
<circle cx="564.57" cy="57.81" r="0.7" fill="#a3225f"/>
<line x1="570.53" y1="46.76" x2="570.53" y2="56.28" stroke="#a3225f" stroke-width="1"/>
<line x1="569.03" y1="46.76" x2="572.03" y2="46.76" stroke="#a3225f" stroke-width="1"/>
<line x1="569.03" y1="56.28" x2="572.03" y2="56.28" stroke="#a3225f" stroke-width="1"/>
<circle cx="570.53" cy="51.33" r="0.7" fill="#a3225f"/>
<line x1="576.5" y1="47.14" x2="576.5" y2="55.14" stroke="#a3225f" stroke-width="1"/>
<line x1="575" y1="47.14" x2="578" y2="47.14" stroke="#a3225f" stroke-width="1"/>
<line x1="575" y1="55.14" x2="578" y2="55.14" stroke="#a3225f" stroke-width="1"/>
<circle cx="576.5" cy="50.76" r="0.7" fill="#a3225f"/>
<line x1="582.47" y1="32.67" x2="582.47" y2="74.94" stroke="#a3225f" stroke-width="1"/>
<line x1="580.97" y1="32.67" x2="583.97" y2="32.67" stroke="#a3225f" stroke-width="1"/>
<line x1="580.97" y1="74.94" x2="583.97" y2="74.94" stroke="#a3225f" stroke-width="1"/>
<circle cx="582.47" cy="53.43" r="0.7" fill="#a3225f"/>
<line x1="588.43" y1="48.1" x2="588.43" y2="69.23" stroke="#a3225f" stroke-width="1"/>
<line x1="586.93" y1="48.1" x2="589.93" y2="48.1" stroke="#a3225f" stroke-width="1"/>
<line x1="586.93" y1="69.23" x2="589.93" y2="69.23" stroke="#a3225f" stroke-width="1"/>
<circle cx="588.43" cy="58.38" r="0.7" fill="#a3225f"/>
<line x1="594.39" y1="40.86" x2="594.39" y2="60.28" stroke="#a3225f" stroke-width="1"/>
<line x1="592.89" y1="40.86" x2="595.89" y2="40.86" stroke="#a3225f" stroke-width="1"/>
<line x1="592.89" y1="60.28" x2="595.89" y2="60.28" stroke="#a3225f" stroke-width="1"/>
<circle cx="594.39" cy="49.81" r="0.7" fill="#a3225f"/>
<line x1="600.36" y1="29.06" x2="600.36" y2="56.28" stroke="#a3225f" stroke-width="1"/>
<line x1="598.86" y1="29.06" x2="601.86" y2="29.06" stroke="#a3225f" stroke-width="1"/>
<line x1="598.86" y1="56.28" x2="601.86" y2="56.28" stroke="#a3225f" stroke-width="1"/>
<circle cx="600.36" cy="42.96" r="0.7" fill="#a3225f"/>
<line x1="606.33" y1="32.67" x2="606.33" y2="74.94" stroke="#a3225f" stroke-width="1"/>
<line x1="604.83" y1="32.67" x2="607.83" y2="32.67" stroke="#a3225f" stroke-width="1"/>
<line x1="604.83" y1="74.94" x2="607.83" y2="74.94" stroke="#a3225f" stroke-width="1"/>
<circle cx="606.33" cy="51.33" r="0.7" fill="#a3225f"/>
<polyline points="457.2,43.91 463.16,47.72 469.13,54.38 475.09,42 481.06,48.67 487.02,42 492.99,41.05 498.95,38.2 504.92,48.67 510.88,52.48 516.85,35.34 522.81,44.1 528.78,44.86 534.75,45.81 540.71,52.48 546.67,42.19 552.64,48.1 558.61,41.62 564.57,40.86 570.53,43.53 576.5,38.58 582.47,48.86 588.43,42.19 594.39,39.91 600.36,32.67 606.33,35.72" fill="none" stroke="#222" stroke-width="0.8"/>
<line x1="457.2" y1="39.15" x2="457.2" y2="47.72" stroke="#222" stroke-width="1"/>
<line x1="455.7" y1="39.15" x2="458.7" y2="39.15" stroke="#222" stroke-width="1"/>
<line x1="455.7" y1="47.72" x2="458.7" y2="47.72" stroke="#222" stroke-width="1"/>
<circle cx="457.2" cy="43.91" r="0.7" fill="#222"/>
<line x1="463.16" y1="40.1" x2="463.16" y2="56.28" stroke="#222" stroke-width="1"/>
<line x1="461.66" y1="40.1" x2="464.66" y2="40.1" stroke="#222" stroke-width="1"/>
<line x1="461.66" y1="56.28" x2="464.66" y2="56.28" stroke="#222" stroke-width="1"/>
<circle cx="463.16" cy="47.72" r="0.7" fill="#222"/>
<line x1="469.13" y1="51.52" x2="469.13" y2="57.24" stroke="#222" stroke-width="1"/>
<line x1="467.63" y1="51.52" x2="470.63" y2="51.52" stroke="#222" stroke-width="1"/>
<line x1="467.63" y1="57.24" x2="470.63" y2="57.24" stroke="#222" stroke-width="1"/>
<circle cx="469.13" cy="54.38" r="0.7" fill="#222"/>
<line x1="475.09" y1="23.92" x2="475.09" y2="58.19" stroke="#222" stroke-width="1"/>
<line x1="473.59" y1="23.92" x2="476.59" y2="23.92" stroke="#222" stroke-width="1"/>
<line x1="473.59" y1="58.19" x2="476.59" y2="58.19" stroke="#222" stroke-width="1"/>
<circle cx="475.09" cy="42" r="0.7" fill="#222"/>
<line x1="481.06" y1="34.39" x2="481.06" y2="62.95" stroke="#222" stroke-width="1"/>
<line x1="479.56" y1="34.39" x2="482.56" y2="34.39" stroke="#222" stroke-width="1"/>
<line x1="479.56" y1="62.95" x2="482.56" y2="62.95" stroke="#222" stroke-width="1"/>
<circle cx="481.06" cy="48.67" r="0.7" fill="#222"/>
<line x1="487.02" y1="27.72" x2="487.02" y2="56.28" stroke="#222" stroke-width="1"/>
<line x1="485.52" y1="27.72" x2="488.52" y2="27.72" stroke="#222" stroke-width="1"/>
<line x1="485.52" y1="56.28" x2="488.52" y2="56.28" stroke="#222" stroke-width="1"/>
<circle cx="487.02" cy="42" r="0.7" fill="#222"/>
<line x1="492.99" y1="26.77" x2="492.99" y2="54.38" stroke="#222" stroke-width="1"/>
<line x1="491.49" y1="26.77" x2="494.49" y2="26.77" stroke="#222" stroke-width="1"/>
<line x1="491.49" y1="54.38" x2="494.49" y2="54.38" stroke="#222" stroke-width="1"/>
<circle cx="492.99" cy="41.05" r="0.7" fill="#222"/>
<line x1="498.95" y1="27.72" x2="498.95" y2="48.67" stroke="#222" stroke-width="1"/>
<line x1="497.45" y1="27.72" x2="500.45" y2="27.72" stroke="#222" stroke-width="1"/>
<line x1="497.45" y1="48.67" x2="500.45" y2="48.67" stroke="#222" stroke-width="1"/>
<circle cx="498.95" cy="38.2" r="0.7" fill="#222"/>
<line x1="504.92" y1="40.1" x2="504.92" y2="56.28" stroke="#222" stroke-width="1"/>
<line x1="503.42" y1="40.1" x2="506.42" y2="40.1" stroke="#222" stroke-width="1"/>
<line x1="503.42" y1="56.28" x2="506.42" y2="56.28" stroke="#222" stroke-width="1"/>
<circle cx="504.92" cy="48.67" r="0.7" fill="#222"/>
<line x1="510.88" y1="48.67" x2="510.88" y2="57.05" stroke="#222" stroke-width="1"/>
<line x1="509.38" y1="48.67" x2="512.38" y2="48.67" stroke="#222" stroke-width="1"/>
<line x1="509.38" y1="57.05" x2="512.38" y2="57.05" stroke="#222" stroke-width="1"/>
<circle cx="510.88" cy="52.48" r="0.7" fill="#222"/>
<line x1="516.85" y1="28.3" x2="516.85" y2="39.91" stroke="#222" stroke-width="1"/>
<line x1="515.35" y1="28.3" x2="518.35" y2="28.3" stroke="#222" stroke-width="1"/>
<line x1="515.35" y1="39.91" x2="518.35" y2="39.91" stroke="#222" stroke-width="1"/>
<circle cx="516.85" cy="35.34" r="0.7" fill="#222"/>
<line x1="522.81" y1="35.34" x2="522.81" y2="53.43" stroke="#222" stroke-width="1"/>
<line x1="521.31" y1="35.34" x2="524.31" y2="35.34" stroke="#222" stroke-width="1"/>
<line x1="521.31" y1="53.43" x2="524.31" y2="53.43" stroke="#222" stroke-width="1"/>
<circle cx="522.81" cy="44.1" r="0.7" fill="#222"/>
<line x1="528.78" y1="35.34" x2="528.78" y2="53.81" stroke="#222" stroke-width="1"/>
<line x1="527.28" y1="35.34" x2="530.28" y2="35.34" stroke="#222" stroke-width="1"/>
<line x1="527.28" y1="53.81" x2="530.28" y2="53.81" stroke="#222" stroke-width="1"/>
<circle cx="528.78" cy="44.86" r="0.7" fill="#222"/>
<line x1="534.75" y1="29.06" x2="534.75" y2="60.66" stroke="#222" stroke-width="1"/>
<line x1="533.25" y1="29.06" x2="536.25" y2="29.06" stroke="#222" stroke-width="1"/>
<line x1="533.25" y1="60.66" x2="536.25" y2="60.66" stroke="#222" stroke-width="1"/>
<circle cx="534.75" cy="45.81" r="0.7" fill="#222"/>
<line x1="540.71" y1="43.53" x2="540.71" y2="62" stroke="#222" stroke-width="1"/>
<line x1="539.21" y1="43.53" x2="542.21" y2="43.53" stroke="#222" stroke-width="1"/>
<line x1="539.21" y1="62" x2="542.21" y2="62" stroke="#222" stroke-width="1"/>
<circle cx="540.71" cy="52.48" r="0.7" fill="#222"/>
<line x1="546.67" y1="23.92" x2="546.67" y2="65.04" stroke="#222" stroke-width="1"/>
<line x1="545.17" y1="23.92" x2="548.17" y2="23.92" stroke="#222" stroke-width="1"/>
<line x1="545.17" y1="65.04" x2="548.17" y2="65.04" stroke="#222" stroke-width="1"/>
<circle cx="546.67" cy="42.19" r="0.7" fill="#222"/>
<line x1="552.64" y1="34.58" x2="552.64" y2="62.76" stroke="#222" stroke-width="1"/>
<line x1="551.14" y1="34.58" x2="554.14" y2="34.58" stroke="#222" stroke-width="1"/>
<line x1="551.14" y1="62.76" x2="554.14" y2="62.76" stroke="#222" stroke-width="1"/>
<circle cx="552.64" cy="48.1" r="0.7" fill="#222"/>
<line x1="558.61" y1="27.91" x2="558.61" y2="62.38" stroke="#222" stroke-width="1"/>
<line x1="557.11" y1="27.91" x2="560.11" y2="27.91" stroke="#222" stroke-width="1"/>
<line x1="557.11" y1="62.38" x2="560.11" y2="62.38" stroke="#222" stroke-width="1"/>
<circle cx="558.61" cy="41.62" r="0.7" fill="#222"/>
<line x1="564.57" y1="26.77" x2="564.57" y2="54.76" stroke="#222" stroke-width="1"/>
<line x1="563.07" y1="26.77" x2="566.07" y2="26.77" stroke="#222" stroke-width="1"/>
<line x1="563.07" y1="54.76" x2="566.07" y2="54.76" stroke="#222" stroke-width="1"/>
<circle cx="564.57" cy="40.86" r="0.7" fill="#222"/>
<line x1="570.53" y1="29.06" x2="570.53" y2="58.38" stroke="#222" stroke-width="1"/>
<line x1="569.03" y1="29.06" x2="572.03" y2="29.06" stroke="#222" stroke-width="1"/>
<line x1="569.03" y1="58.38" x2="572.03" y2="58.38" stroke="#222" stroke-width="1"/>
<circle cx="570.53" cy="43.53" r="0.7" fill="#222"/>
<line x1="576.5" y1="27.91" x2="576.5" y2="48.86" stroke="#222" stroke-width="1"/>
<line x1="575" y1="27.91" x2="578" y2="27.91" stroke="#222" stroke-width="1"/>
<line x1="575" y1="48.86" x2="578" y2="48.86" stroke="#222" stroke-width="1"/>
<circle cx="576.5" cy="38.58" r="0.7" fill="#222"/>
<line x1="582.47" y1="35.34" x2="582.47" y2="64.66" stroke="#222" stroke-width="1"/>
<line x1="580.97" y1="35.34" x2="583.97" y2="35.34" stroke="#222" stroke-width="1"/>
<line x1="580.97" y1="64.66" x2="583.97" y2="64.66" stroke="#222" stroke-width="1"/>
<circle cx="582.47" cy="48.86" r="0.7" fill="#222"/>
<line x1="588.43" y1="35.34" x2="588.43" y2="48.86" stroke="#222" stroke-width="1"/>
<line x1="586.93" y1="35.34" x2="589.93" y2="35.34" stroke="#222" stroke-width="1"/>
<line x1="586.93" y1="48.86" x2="589.93" y2="48.86" stroke="#222" stroke-width="1"/>
<circle cx="588.43" cy="42.19" r="0.7" fill="#222"/>
<line x1="594.39" y1="29.06" x2="594.39" y2="50.57" stroke="#222" stroke-width="1"/>
<line x1="592.89" y1="29.06" x2="595.89" y2="29.06" stroke="#222" stroke-width="1"/>
<line x1="592.89" y1="50.57" x2="595.89" y2="50.57" stroke="#222" stroke-width="1"/>
<circle cx="594.39" cy="39.91" r="0.7" fill="#222"/>
<line x1="600.36" y1="26.77" x2="600.36" y2="39.15" stroke="#222" stroke-width="1"/>
<line x1="598.86" y1="26.77" x2="601.86" y2="26.77" stroke="#222" stroke-width="1"/>
<line x1="598.86" y1="39.15" x2="601.86" y2="39.15" stroke="#222" stroke-width="1"/>
<circle cx="600.36" cy="32.67" r="0.7" fill="#222"/>
<line x1="606.33" y1="23.15" x2="606.33" y2="47.53" stroke="#222" stroke-width="1"/>
<line x1="604.83" y1="23.15" x2="607.83" y2="23.15" stroke="#222" stroke-width="1"/>
<line x1="604.83" y1="47.53" x2="607.83" y2="47.53" stroke="#222" stroke-width="1"/>
<circle cx="606.33" cy="35.72" r="0.7" fill="#222"/>
<line x1="457.3" y1="16.3" x2="457.3" y2="111.5" stroke="#444" stroke-width="0.8"/>
<line x1="453.1" y1="16.3" x2="457.3" y2="16.3" stroke="#444" stroke-width="0.8"/>
<text x="451.8" y="18.14" font-size="5.1" text-anchor="end">5</text>
<line x1="453.1" y1="35.34" x2="457.3" y2="35.34" stroke="#444" stroke-width="0.8"/>
<text x="451.8" y="37.18" font-size="5.1" text-anchor="end">4</text>
<line x1="453.1" y1="54.38" x2="457.3" y2="54.38" stroke="#444" stroke-width="0.8"/>
<text x="451.8" y="56.22" font-size="5.1" text-anchor="end">3</text>
<line x1="453.1" y1="73.42" x2="457.3" y2="73.42" stroke="#444" stroke-width="0.8"/>
<text x="451.8" y="75.26" font-size="5.1" text-anchor="end">2</text>
<line x1="453.1" y1="92.46" x2="457.3" y2="92.46" stroke="#444" stroke-width="0.8"/>
<text x="451.8" y="94.3" font-size="5.1" text-anchor="end">1</text>
<line x1="453.1" y1="111.5" x2="457.3" y2="111.5" stroke="#444" stroke-width="0.8"/>
<text x="451.8" y="113.34" font-size="5.1" text-anchor="end">0</text>
<line x1="457.3" y1="111.5" x2="611.8" y2="111.5" stroke="#444" stroke-width="0.8"/>
<line x1="457.2" y1="111.5" x2="457.2" y2="115.5" stroke="#444" stroke-width="0.8"/>
<text x="457.2" y="121.67" font-size="5.1" text-anchor="middle">1</text>
<line x1="475.09" y1="111.5" x2="475.09" y2="115.5" stroke="#444" stroke-width="0.8"/>
<text x="475.09" y="121.67" font-size="5.1" text-anchor="middle">4</text>
<line x1="492.99" y1="111.5" x2="492.99" y2="115.5" stroke="#444" stroke-width="0.8"/>
<text x="492.99" y="121.67" font-size="5.1" text-anchor="middle">7</text>
<line x1="510.88" y1="111.5" x2="510.88" y2="115.5" stroke="#444" stroke-width="0.8"/>
<text x="510.88" y="121.67" font-size="5.1" text-anchor="middle">10</text>
<line x1="528.78" y1="111.5" x2="528.78" y2="115.5" stroke="#444" stroke-width="0.8"/>
<text x="528.78" y="121.67" font-size="5.1" text-anchor="middle">13</text>
<line x1="546.67" y1="111.5" x2="546.67" y2="115.5" stroke="#444" stroke-width="0.8"/>
<text x="546.67" y="121.67" font-size="5.1" text-anchor="middle">16</text>
<line x1="564.57" y1="111.5" x2="564.57" y2="115.5" stroke="#444" stroke-width="0.8"/>
<text x="564.57" y="121.67" font-size="5.1" text-anchor="middle">19</text>
<line x1="582.47" y1="111.5" x2="582.47" y2="115.5" stroke="#444" stroke-width="0.8"/>
<text x="582.47" y="121.67" font-size="5.1" text-anchor="middle">22</text>
<line x1="600.36" y1="111.5" x2="600.36" y2="115.5" stroke="#444" stroke-width="0.8"/>
<text x="600.36" y="121.67" font-size="5.1" text-anchor="middle">25</text>
<text x="534.6" y="130" font-size="6.6" text-anchor="middle">Days</text>
<text transform="translate(444.3 64) rotate(-90)" font-size="6.4" text-anchor="middle">Food Intake (g)</text>
<line x1="617.1" y1="16.5" x2="635.7" y2="16.5" stroke="#111" stroke-width="1.3"/>
<text x="637.6" y="19.8" font-size="8.8">CT</text>
<line x1="617.1" y1="31" x2="635.7" y2="31" stroke="#a3225f" stroke-width="1.3"/>
<text x="637.6" y="33.7" font-size="8.8">CVN 527</text>
<rect x="35.41" y="199.43" width="15.29" height="54.95" fill="#fff" stroke="#333" stroke-width="0.9"/>
<rect x="57.66" y="196.15" width="14.9" height="58.24" fill="#fff" stroke="#b0457a" stroke-width="0.9"/>
<rect x="79.91" y="194.98" width="14.9" height="59.4" fill="#fff" stroke="#333" stroke-width="0.9"/>
<rect x="102.17" y="180.47" width="14.9" height="73.92" fill="#fff" stroke="#b0457a" stroke-width="0.9"/>
<line x1="43.05" y1="187.24" x2="43.05" y2="210.46" stroke="#111" stroke-width="0.9"/>
<line x1="39.45" y1="187.24" x2="46.65" y2="187.24" stroke="#111" stroke-width="0.9"/>
<line x1="39.45" y1="210.46" x2="46.65" y2="210.46" stroke="#111" stroke-width="0.9"/>
<circle cx="41.45" cy="183.96" r="1.25" fill="#111"/>
<circle cx="44.65" cy="194.02" r="1.25" fill="#111"/>
<circle cx="43.05" cy="197.89" r="1.25" fill="#111"/>
<circle cx="41.85" cy="200.79" r="1.25" fill="#111"/>
<circle cx="44.25" cy="210.46" r="1.25" fill="#111"/>
<circle cx="43.45" cy="212.98" r="1.25" fill="#111"/>
<line x1="65.11" y1="188.21" x2="65.11" y2="203.69" stroke="#a3225f" stroke-width="0.9"/>
<line x1="61.51" y1="188.21" x2="68.71" y2="188.21" stroke="#a3225f" stroke-width="0.9"/>
<line x1="61.51" y1="203.69" x2="68.71" y2="203.69" stroke="#a3225f" stroke-width="0.9"/>
<circle cx="63.51" cy="185.31" r="1.25" fill="#a3225f"/>
<circle cx="66.71" cy="193.05" r="1.25" fill="#a3225f"/>
<circle cx="65.11" cy="196.92" r="1.25" fill="#a3225f"/>
<circle cx="63.91" cy="208.14" r="1.25" fill="#a3225f"/>
<circle cx="66.31" cy="201.76" r="1.25" fill="#a3225f"/>
<line x1="87.36" y1="184.92" x2="87.36" y2="198.85" stroke="#111" stroke-width="0.9"/>
<line x1="83.76" y1="184.92" x2="90.96" y2="184.92" stroke="#111" stroke-width="0.9"/>
<line x1="83.76" y1="198.85" x2="90.96" y2="198.85" stroke="#111" stroke-width="0.9"/>
<circle cx="85.76" cy="182.6" r="1.25" fill="#111"/>
<circle cx="88.96" cy="184.54" r="1.25" fill="#111"/>
<circle cx="87.36" cy="193.05" r="1.25" fill="#111"/>
<circle cx="86.16" cy="197.89" r="1.25" fill="#111"/>
<circle cx="88.56" cy="198.47" r="1.25" fill="#111"/>
<circle cx="87.76" cy="198.85" r="1.25" fill="#111"/>
<line x1="109.62" y1="169.25" x2="109.62" y2="192.08" stroke="#a3225f" stroke-width="0.9"/>
<line x1="106.02" y1="169.25" x2="113.22" y2="169.25" stroke="#a3225f" stroke-width="0.9"/>
<line x1="106.02" y1="192.08" x2="113.22" y2="192.08" stroke="#a3225f" stroke-width="0.9"/>
<circle cx="108.02" cy="166.93" r="1.25" fill="#a3225f"/>
<circle cx="111.22" cy="176.6" r="1.25" fill="#a3225f"/>
<circle cx="109.62" cy="184.34" r="1.25" fill="#a3225f"/>
<circle cx="108.42" cy="189.18" r="1.25" fill="#a3225f"/>
<circle cx="110.82" cy="192.47" r="1.25" fill="#a3225f"/>
<line x1="28.44" y1="157.64" x2="28.44" y2="254.39" stroke="#444" stroke-width="0.8"/>
<line x1="25.24" y1="157.64" x2="28.44" y2="157.64" stroke="#444" stroke-width="0.8"/>
<text x="23.64" y="159.55" font-size="5.3" text-anchor="end">6000</text>
<line x1="25.24" y1="189.89" x2="28.44" y2="189.89" stroke="#444" stroke-width="0.8"/>
<text x="23.64" y="191.8" font-size="5.3" text-anchor="end">4000</text>
<line x1="25.24" y1="222.14" x2="28.44" y2="222.14" stroke="#444" stroke-width="0.8"/>
<text x="23.64" y="224.05" font-size="5.3" text-anchor="end">2000</text>
<line x1="25.24" y1="254.39" x2="28.44" y2="254.39" stroke="#444" stroke-width="0.8"/>
<text x="23.64" y="256.3" font-size="5.3" text-anchor="end">0</text>
<line x1="28.44" y1="254.39" x2="123.84" y2="254.39" stroke="#444" stroke-width="0.8"/>
<line x1="42.96" y1="259.42" x2="66.76" y2="259.42" stroke="#111" stroke-width="1.8"/>
<line x1="88.04" y1="259.42" x2="111.84" y2="259.42" stroke="#111" stroke-width="1.8"/>
<text x="55.53" y="267.74" font-size="6.6" text-anchor="middle">Light</text>
<text x="99.65" y="267.74" font-size="6.6" text-anchor="middle">Dark</text>
<text x="109.33" y="163.06" font-size="6.8" text-anchor="middle">0.048</text>
<text transform="translate(6.63 207.37) rotate(-90)" font-size="6.6" text-anchor="middle">VO<tspan font-size="4.4" dy="1.4">2</tspan><tspan dy="-1.4"> (ml/hr/kg)</tspan></text>
<rect x="173.12" y="201.18" width="14.51" height="53.21" fill="#fff" stroke="#333" stroke-width="0.9"/>
<rect x="194.02" y="194.02" width="14.51" height="60.37" fill="#fff" stroke="#b0457a" stroke-width="0.9"/>
<rect x="215.3" y="195.37" width="14.51" height="59.02" fill="#fff" stroke="#333" stroke-width="0.9"/>
<rect x="237.17" y="182.02" width="14.51" height="72.37" fill="#fff" stroke="#b0457a" stroke-width="0.9"/>
<line x1="180.38" y1="190.53" x2="180.38" y2="212.4" stroke="#111" stroke-width="0.9"/>
<line x1="176.78" y1="190.53" x2="183.98" y2="190.53" stroke="#111" stroke-width="0.9"/>
<line x1="176.78" y1="212.4" x2="183.98" y2="212.4" stroke="#111" stroke-width="0.9"/>
<circle cx="178.78" cy="184.92" r="1.25" fill="#111"/>
<circle cx="181.98" cy="194.02" r="1.25" fill="#111"/>
<circle cx="180.38" cy="196.92" r="1.25" fill="#111"/>
<circle cx="179.18" cy="201.76" r="1.25" fill="#111"/>
<circle cx="181.58" cy="206.59" r="1.25" fill="#111"/>
<circle cx="180.78" cy="212.4" r="1.25" fill="#111"/>
<circle cx="179.98" cy="213.95" r="1.25" fill="#111"/>
<line x1="201.27" y1="182.41" x2="201.27" y2="205.63" stroke="#a3225f" stroke-width="0.9"/>
<line x1="197.67" y1="182.41" x2="204.87" y2="182.41" stroke="#a3225f" stroke-width="0.9"/>
<line x1="197.67" y1="205.63" x2="204.87" y2="205.63" stroke="#a3225f" stroke-width="0.9"/>
<circle cx="199.67" cy="180.86" r="1.25" fill="#a3225f"/>
<circle cx="202.87" cy="190.53" r="1.25" fill="#a3225f"/>
<circle cx="201.27" cy="191.11" r="1.25" fill="#a3225f"/>
<circle cx="200.07" cy="194.98" r="1.25" fill="#a3225f"/>
<circle cx="202.47" cy="212.79" r="1.25" fill="#a3225f"/>
<line x1="222.56" y1="183.37" x2="222.56" y2="207.56" stroke="#111" stroke-width="0.9"/>
<line x1="218.96" y1="183.37" x2="226.16" y2="183.37" stroke="#111" stroke-width="0.9"/>
<line x1="218.96" y1="207.56" x2="226.16" y2="207.56" stroke="#111" stroke-width="0.9"/>
<circle cx="220.96" cy="175.25" r="1.25" fill="#111"/>
<circle cx="224.16" cy="191.11" r="1.25" fill="#111"/>
<circle cx="222.56" cy="194.02" r="1.25" fill="#111"/>
<circle cx="221.36" cy="197.89" r="1.25" fill="#111"/>
<circle cx="223.76" cy="202.72" r="1.25" fill="#111"/>
<circle cx="222.96" cy="207.56" r="1.25" fill="#111"/>
<circle cx="222.16" cy="209.5" r="1.25" fill="#111"/>
<line x1="244.42" y1="164.41" x2="244.42" y2="199.43" stroke="#a3225f" stroke-width="0.9"/>
<line x1="240.82" y1="164.41" x2="248.02" y2="164.41" stroke="#a3225f" stroke-width="0.9"/>
<line x1="240.82" y1="199.43" x2="248.02" y2="199.43" stroke="#a3225f" stroke-width="0.9"/>
<circle cx="242.82" cy="162.67" r="1.25" fill="#a3225f"/>
<circle cx="246.02" cy="164.61" r="1.25" fill="#a3225f"/>
<circle cx="244.42" cy="190.15" r="1.25" fill="#a3225f"/>
<circle cx="243.22" cy="191.11" r="1.25" fill="#a3225f"/>
<circle cx="245.62" cy="202.14" r="1.25" fill="#a3225f"/>
<line x1="165.96" y1="157.25" x2="165.96" y2="254.39" stroke="#444" stroke-width="0.8"/>
<line x1="162.76" y1="157.25" x2="165.96" y2="157.25" stroke="#444" stroke-width="0.8"/>
<text x="161.16" y="159.16" font-size="5.3" text-anchor="end">5000</text>
<line x1="162.76" y1="176.68" x2="165.96" y2="176.68" stroke="#444" stroke-width="0.8"/>
<text x="161.16" y="178.59" font-size="5.3" text-anchor="end">4000</text>
<line x1="162.76" y1="196.11" x2="165.96" y2="196.11" stroke="#444" stroke-width="0.8"/>
<text x="161.16" y="198.01" font-size="5.3" text-anchor="end">3000</text>
<line x1="162.76" y1="215.53" x2="165.96" y2="215.53" stroke="#444" stroke-width="0.8"/>
<text x="161.16" y="217.44" font-size="5.3" text-anchor="end">2000</text>
<line x1="162.76" y1="234.96" x2="165.96" y2="234.96" stroke="#444" stroke-width="0.8"/>
<text x="161.16" y="236.87" font-size="5.3" text-anchor="end">1000</text>
<line x1="162.76" y1="254.39" x2="165.96" y2="254.39" stroke="#444" stroke-width="0.8"/>
<text x="161.16" y="256.3" font-size="5.3" text-anchor="end">0</text>
<line x1="165.96" y1="254.39" x2="258.84" y2="254.39" stroke="#444" stroke-width="0.8"/>
<line x1="181.05" y1="258.84" x2="203.69" y2="258.84" stroke="#111" stroke-width="1.8"/>
<line x1="224.01" y1="258.84" x2="246.84" y2="258.84" stroke="#111" stroke-width="1.8"/>
<text x="192.47" y="267.74" font-size="6.6" text-anchor="middle">Light</text>
<text x="235.23" y="267.74" font-size="6.6" text-anchor="middle">Dark</text>
<text transform="translate(144.73 206.59) rotate(-90)" font-size="6.6" text-anchor="middle">VCO<tspan font-size="4.4" dy="1.4">2</tspan><tspan dy="-1.4"> (ml/hr/kg)</tspan></text>
<rect x="309.73" y="241.42" width="13.93" height="12.96" fill="#fff" stroke="#333" stroke-width="0.9"/>
<rect x="330.05" y="243.75" width="13.93" height="10.64" fill="#fff" stroke="#b0457a" stroke-width="0.9"/>
<rect x="350.37" y="237.55" width="14.13" height="16.83" fill="#fff" stroke="#333" stroke-width="0.9"/>
<rect x="371.07" y="217.82" width="14.13" height="36.57" fill="#fff" stroke="#b0457a" stroke-width="0.9"/>
<line x1="316.7" y1="234.65" x2="316.7" y2="248.2" stroke="#111" stroke-width="0.9"/>
<line x1="313.1" y1="234.65" x2="320.3" y2="234.65" stroke="#111" stroke-width="0.9"/>
<line x1="313.1" y1="248.2" x2="320.3" y2="248.2" stroke="#111" stroke-width="0.9"/>
<circle cx="315.1" cy="231.36" r="1.25" fill="#111"/>
<circle cx="318.3" cy="238.52" r="1.25" fill="#111"/>
<circle cx="316.7" cy="241.04" r="1.25" fill="#111"/>
<circle cx="315.5" cy="244.33" r="1.25" fill="#111"/>
<circle cx="317.9" cy="247.62" r="1.25" fill="#111"/>
<circle cx="317.1" cy="252.07" r="1.25" fill="#111"/>
<line x1="337.02" y1="239.1" x2="337.02" y2="248.2" stroke="#a3225f" stroke-width="0.9"/>
<line x1="333.42" y1="239.1" x2="340.62" y2="239.1" stroke="#a3225f" stroke-width="0.9"/>
<line x1="333.42" y1="248.2" x2="340.62" y2="248.2" stroke="#a3225f" stroke-width="0.9"/>
<circle cx="335.42" cy="236.97" r="1.25" fill="#a3225f"/>
<circle cx="338.62" cy="241.42" r="1.25" fill="#a3225f"/>
<circle cx="337.02" cy="243.36" r="1.25" fill="#a3225f"/>
<circle cx="335.82" cy="247.23" r="1.25" fill="#a3225f"/>
<circle cx="338.22" cy="250.13" r="1.25" fill="#a3225f"/>
<line x1="357.43" y1="227.49" x2="357.43" y2="248.78" stroke="#111" stroke-width="0.9"/>
<line x1="353.83" y1="227.49" x2="361.03" y2="227.49" stroke="#111" stroke-width="0.9"/>
<line x1="353.83" y1="248.78" x2="361.03" y2="248.78" stroke="#111" stroke-width="0.9"/>
<circle cx="355.83" cy="224.01" r="1.25" fill="#111"/>
<circle cx="359.03" cy="231.75" r="1.25" fill="#111"/>
<circle cx="357.43" cy="239.49" r="1.25" fill="#111"/>
<circle cx="356.23" cy="247.23" r="1.25" fill="#111"/>
<circle cx="358.63" cy="250.13" r="1.25" fill="#111"/>
<circle cx="357.83" cy="250.71" r="1.25" fill="#111"/>
<line x1="378.13" y1="196.53" x2="378.13" y2="239.1" stroke="#a3225f" stroke-width="0.9"/>
<line x1="374.53" y1="196.53" x2="381.73" y2="196.53" stroke="#a3225f" stroke-width="0.9"/>
<line x1="374.53" y1="239.1" x2="381.73" y2="239.1" stroke="#a3225f" stroke-width="0.9"/>
<circle cx="376.53" cy="191.7" r="1.25" fill="#a3225f"/>
<circle cx="379.73" cy="198.47" r="1.25" fill="#a3225f"/>
<circle cx="378.13" cy="227.88" r="1.25" fill="#a3225f"/>
<circle cx="376.93" cy="234.07" r="1.25" fill="#a3225f"/>
<circle cx="379.33" cy="236.59" r="1.25" fill="#a3225f"/>
<line x1="302.57" y1="157.64" x2="302.57" y2="254.39" stroke="#444" stroke-width="0.8"/>
<line x1="299.37" y1="157.64" x2="302.57" y2="157.64" stroke="#444" stroke-width="0.8"/>
<text x="297.77" y="159.55" font-size="5.3" text-anchor="end">1500</text>
<line x1="299.37" y1="189.89" x2="302.57" y2="189.89" stroke="#444" stroke-width="0.8"/>
<text x="297.77" y="191.8" font-size="5.3" text-anchor="end">1000</text>
<line x1="299.37" y1="222.14" x2="302.57" y2="222.14" stroke="#444" stroke-width="0.8"/>
<text x="297.77" y="224.05" font-size="5.3" text-anchor="end">500</text>
<line x1="299.37" y1="254.39" x2="302.57" y2="254.39" stroke="#444" stroke-width="0.8"/>
<text x="297.77" y="256.3" font-size="5.3" text-anchor="end">0</text>
<line x1="302.57" y1="254.39" x2="391.58" y2="254.39" stroke="#444" stroke-width="0.8"/>
<line x1="317.47" y1="258.84" x2="339.34" y2="258.84" stroke="#111" stroke-width="1.8"/>
<line x1="358.69" y1="258.84" x2="380.36" y2="258.84" stroke="#111" stroke-width="1.8"/>
<text x="328.5" y="267.74" font-size="6.6" text-anchor="middle">Light</text>
<text x="369.72" y="267.74" font-size="6.6" text-anchor="middle">Dark</text>
<text x="378.04" y="186.86" font-size="6.8" text-anchor="middle">0.069</text>
<text transform="translate(283.65 206.98) rotate(-90)" font-size="6.55" text-anchor="middle">Locomotor Activity (beam breaks/hr)</text>
<rect x="441.28" y="191.5" width="14.13" height="62.89" fill="#fff" stroke="#333" stroke-width="0.9"/>
<rect x="462.18" y="192.08" width="14.51" height="62.31" fill="#fff" stroke="#b0457a" stroke-width="0.9"/>
<rect x="483.46" y="187.24" width="14.13" height="67.14" fill="#fff" stroke="#333" stroke-width="0.9"/>
<rect x="504.36" y="177.96" width="13.93" height="76.43" fill="#fff" stroke="#b0457a" stroke-width="0.9"/>
<line x1="448.34" y1="184.92" x2="448.34" y2="197.31" stroke="#111" stroke-width="0.9"/>
<line x1="444.74" y1="184.92" x2="451.94" y2="184.92" stroke="#111" stroke-width="0.9"/>
<line x1="444.74" y1="197.31" x2="451.94" y2="197.31" stroke="#111" stroke-width="0.9"/>
<circle cx="446.74" cy="183.37" r="1.25" fill="#111"/>
<circle cx="449.94" cy="184.34" r="1.25" fill="#111"/>
<circle cx="448.34" cy="192.66" r="1.25" fill="#111"/>
<circle cx="447.14" cy="196.53" r="1.25" fill="#111"/>
<circle cx="449.54" cy="197.31" r="1.25" fill="#111"/>
<line x1="469.44" y1="187.63" x2="469.44" y2="196.53" stroke="#a3225f" stroke-width="0.9"/>
<line x1="465.84" y1="187.63" x2="473.04" y2="187.63" stroke="#a3225f" stroke-width="0.9"/>
<line x1="465.84" y1="196.53" x2="473.04" y2="196.53" stroke="#a3225f" stroke-width="0.9"/>
<circle cx="467.84" cy="188.21" r="1.25" fill="#a3225f"/>
<circle cx="471.04" cy="190.15" r="1.25" fill="#a3225f"/>
<circle cx="469.44" cy="191.11" r="1.25" fill="#a3225f"/>
<circle cx="468.24" cy="193.05" r="1.25" fill="#a3225f"/>
<circle cx="470.64" cy="196.92" r="1.25" fill="#a3225f"/>
<line x1="490.53" y1="179.89" x2="490.53" y2="193.05" stroke="#111" stroke-width="0.9"/>
<line x1="486.93" y1="179.89" x2="494.13" y2="179.89" stroke="#111" stroke-width="0.9"/>
<line x1="486.93" y1="193.05" x2="494.13" y2="193.05" stroke="#111" stroke-width="0.9"/>
<circle cx="488.93" cy="179.12" r="1.25" fill="#111"/>
<circle cx="492.13" cy="181.05" r="1.25" fill="#111"/>
<circle cx="490.53" cy="187.63" r="1.25" fill="#111"/>
<circle cx="489.33" cy="192.66" r="1.25" fill="#111"/>
<circle cx="491.73" cy="195.95" r="1.25" fill="#111"/>
<line x1="511.33" y1="170.8" x2="511.33" y2="184.92" stroke="#a3225f" stroke-width="0.9"/>
<line x1="507.73" y1="170.8" x2="514.93" y2="170.8" stroke="#a3225f" stroke-width="0.9"/>
<line x1="507.73" y1="184.92" x2="514.93" y2="184.92" stroke="#a3225f" stroke-width="0.9"/>
<circle cx="509.73" cy="170.8" r="1.25" fill="#a3225f"/>
<circle cx="512.93" cy="177.57" r="1.25" fill="#a3225f"/>
<circle cx="511.33" cy="183.37" r="1.25" fill="#a3225f"/>
<circle cx="510.13" cy="184.92" r="1.25" fill="#a3225f"/>
<line x1="434.12" y1="159.77" x2="434.12" y2="254.39" stroke="#444" stroke-width="0.8"/>
<line x1="430.92" y1="159.77" x2="434.12" y2="159.77" stroke="#444" stroke-width="0.8"/>
<text x="429.32" y="161.68" font-size="5.3" text-anchor="end">8</text>
<line x1="430.92" y1="183.42" x2="434.12" y2="183.42" stroke="#444" stroke-width="0.8"/>
<text x="429.32" y="185.33" font-size="5.3" text-anchor="end">6</text>
<line x1="430.92" y1="207.08" x2="434.12" y2="207.08" stroke="#444" stroke-width="0.8"/>
<text x="429.32" y="208.99" font-size="5.3" text-anchor="end">4</text>
<line x1="430.92" y1="230.73" x2="434.12" y2="230.73" stroke="#444" stroke-width="0.8"/>
<text x="429.32" y="232.64" font-size="5.3" text-anchor="end">2</text>
<line x1="430.92" y1="254.39" x2="434.12" y2="254.39" stroke="#444" stroke-width="0.8"/>
<text x="429.32" y="256.3" font-size="5.3" text-anchor="end">0</text>
<line x1="434.12" y1="254.39" x2="525.07" y2="254.39" stroke="#444" stroke-width="0.8"/>
<line x1="449.02" y1="258.26" x2="471.47" y2="258.26" stroke="#111" stroke-width="1.8"/>
<line x1="491.59" y1="258.26" x2="513.84" y2="258.26" stroke="#111" stroke-width="1.8"/>
<text x="460.63" y="266.97" font-size="6.6" text-anchor="middle">Light</text>
<text x="502.81" y="266.97" font-size="6.6" text-anchor="middle">Dark</text>
<text x="510.55" y="165.38" font-size="6.8" text-anchor="middle">0.041</text>
<text transform="translate(423.46 207.95) rotate(-90)" font-size="6.4" text-anchor="middle">Energy Expenditure (kcal/hr)</text>
<polyline points="571.3,189.72 594.6,192.98 617.9,196.81 641.2,203.31 664.5,200.06" fill="none" stroke="#222" stroke-width="0.8"/>
<line x1="571.3" y1="183.22" x2="571.3" y2="196.81" stroke="#222" stroke-width="1.1"/>
<line x1="569.7" y1="183.22" x2="572.9" y2="183.22" stroke="#222" stroke-width="1.1"/>
<line x1="569.7" y1="196.81" x2="572.9" y2="196.81" stroke="#222" stroke-width="1.1"/>
<circle cx="571.3" cy="189.72" r="0.8" fill="#222"/>
<line x1="594.6" y1="187.62" x2="594.6" y2="197.95" stroke="#222" stroke-width="1.1"/>
<line x1="593" y1="187.62" x2="596.2" y2="187.62" stroke="#222" stroke-width="1.1"/>
<line x1="593" y1="197.95" x2="596.2" y2="197.95" stroke="#222" stroke-width="1.1"/>
<circle cx="594.6" cy="192.98" r="0.8" fill="#222"/>
<line x1="617.9" y1="190.87" x2="617.9" y2="202.93" stroke="#222" stroke-width="1.1"/>
<line x1="616.3" y1="190.87" x2="619.5" y2="190.87" stroke="#222" stroke-width="1.1"/>
<line x1="616.3" y1="202.93" x2="619.5" y2="202.93" stroke="#222" stroke-width="1.1"/>
<circle cx="617.9" cy="196.81" r="0.8" fill="#222"/>
<line x1="641.2" y1="195.85" x2="641.2" y2="210.59" stroke="#222" stroke-width="1.1"/>
<line x1="639.6" y1="195.85" x2="642.8" y2="195.85" stroke="#222" stroke-width="1.1"/>
<line x1="639.6" y1="210.59" x2="642.8" y2="210.59" stroke="#222" stroke-width="1.1"/>
<circle cx="641.2" cy="203.31" r="0.8" fill="#222"/>
<line x1="664.5" y1="194.13" x2="664.5" y2="205.8" stroke="#222" stroke-width="1.1"/>
<line x1="662.9" y1="194.13" x2="666.1" y2="194.13" stroke="#222" stroke-width="1.1"/>
<line x1="662.9" y1="205.8" x2="666.1" y2="205.8" stroke="#222" stroke-width="1.1"/>
<circle cx="664.5" cy="200.06" r="0.8" fill="#222"/>
<polyline points="571.3,180.92 594.6,186.85 617.9,180.92 641.2,182.07 664.5,188.77" fill="none" stroke="#a3225f" stroke-width="0.8"/>
<line x1="571.3" y1="173.26" x2="571.3" y2="188.58" stroke="#a3225f" stroke-width="1.1"/>
<line x1="569.7" y1="173.26" x2="572.9" y2="173.26" stroke="#a3225f" stroke-width="1.1"/>
<line x1="569.7" y1="188.58" x2="572.9" y2="188.58" stroke="#a3225f" stroke-width="1.1"/>
<circle cx="571.3" cy="180.92" r="0.8" fill="#a3225f"/>
<line x1="594.6" y1="180.35" x2="594.6" y2="193.74" stroke="#a3225f" stroke-width="1.1"/>
<line x1="593" y1="180.35" x2="596.2" y2="180.35" stroke="#a3225f" stroke-width="1.1"/>
<line x1="593" y1="193.74" x2="596.2" y2="193.74" stroke="#a3225f" stroke-width="1.1"/>
<circle cx="594.6" cy="186.85" r="0.8" fill="#a3225f"/>
<line x1="617.9" y1="172.31" x2="617.9" y2="190.87" stroke="#a3225f" stroke-width="1.1"/>
<line x1="616.3" y1="172.31" x2="619.5" y2="172.31" stroke="#a3225f" stroke-width="1.1"/>
<line x1="616.3" y1="190.87" x2="619.5" y2="190.87" stroke="#a3225f" stroke-width="1.1"/>
<circle cx="617.9" cy="180.92" r="0.8" fill="#a3225f"/>
<line x1="641.2" y1="173.84" x2="641.2" y2="190.11" stroke="#a3225f" stroke-width="1.1"/>
<line x1="639.6" y1="173.84" x2="642.8" y2="173.84" stroke="#a3225f" stroke-width="1.1"/>
<line x1="639.6" y1="190.11" x2="642.8" y2="190.11" stroke="#a3225f" stroke-width="1.1"/>
<circle cx="641.2" cy="182.07" r="0.8" fill="#a3225f"/>
<line x1="664.5" y1="176.33" x2="664.5" y2="200.63" stroke="#a3225f" stroke-width="1.1"/>
<line x1="662.9" y1="176.33" x2="666.1" y2="176.33" stroke="#a3225f" stroke-width="1.1"/>
<line x1="662.9" y1="200.63" x2="666.1" y2="200.63" stroke="#a3225f" stroke-width="1.1"/>
<circle cx="664.5" cy="188.77" r="0.8" fill="#a3225f"/>
<line x1="556.2" y1="159.1" x2="556.2" y2="254.8" stroke="#444" stroke-width="0.8"/>
<line x1="553.7" y1="159.1" x2="556.2" y2="159.1" stroke="#444" stroke-width="0.8"/>
<text x="552.1" y="160.83" font-size="4.8" text-anchor="end">39</text>
<line x1="553.7" y1="178.24" x2="556.2" y2="178.24" stroke="#444" stroke-width="0.8"/>
<text x="552.1" y="179.97" font-size="4.8" text-anchor="end">38</text>
<line x1="553.7" y1="197.38" x2="556.2" y2="197.38" stroke="#444" stroke-width="0.8"/>
<text x="552.1" y="199.11" font-size="4.8" text-anchor="end">37</text>
<line x1="553.7" y1="216.52" x2="556.2" y2="216.52" stroke="#444" stroke-width="0.8"/>
<text x="552.1" y="218.25" font-size="4.8" text-anchor="end">36</text>
<line x1="553.7" y1="235.66" x2="556.2" y2="235.66" stroke="#444" stroke-width="0.8"/>
<text x="552.1" y="237.39" font-size="4.8" text-anchor="end">35</text>
<line x1="553.7" y1="254.8" x2="556.2" y2="254.8" stroke="#444" stroke-width="0.8"/>
<text x="552.1" y="256.53" font-size="4.8" text-anchor="end">34</text>
<line x1="556.2" y1="254.8" x2="679.5" y2="254.8" stroke="#444" stroke-width="0.8"/>
<line x1="571.3" y1="254.8" x2="571.3" y2="258.1" stroke="#444" stroke-width="0.8"/>
<text x="571.3" y="263.76" font-size="4.8" text-anchor="middle">-20</text>
<line x1="594.6" y1="254.8" x2="594.6" y2="258.1" stroke="#444" stroke-width="0.8"/>
<text x="594.6" y="263.76" font-size="4.8" text-anchor="middle">0</text>
<line x1="617.9" y1="254.8" x2="617.9" y2="258.1" stroke="#444" stroke-width="0.8"/>
<text x="617.9" y="263.76" font-size="4.8" text-anchor="middle">20</text>
<line x1="641.2" y1="254.8" x2="641.2" y2="258.1" stroke="#444" stroke-width="0.8"/>
<text x="641.2" y="263.76" font-size="4.8" text-anchor="middle">40</text>
<line x1="664.5" y1="254.8" x2="664.5" y2="258.1" stroke="#444" stroke-width="0.8"/>
<text x="664.5" y="263.76" font-size="4.8" text-anchor="middle">60</text>
<line x1="616.5" y1="165.7" x2="641.9" y2="165.7" stroke="#111" stroke-width="1.8"/>
<text x="629.2" y="161.7" font-size="6.7" text-anchor="middle">&lt;0.05</text>
<text x="619.3" y="272.8" font-size="7.9" text-anchor="middle">Time (minutes)</text>
<text transform="translate(543.44 207.6) rotate(-90)" font-size="6.5" text-anchor="middle">BAT temperature (°C)</text>
<path d="M14.4 303.4 L16.8 347.3 Q16.8 350.3 18.4 350.3 L103.1 350.3 Q104.7 350.3 104.7 347.3 L107.1 303.4 Z" fill="#f6f7fb" stroke="#b9c6d6" stroke-width="0.6"/>
<path d="M15.6 344.9 Q27.4 343.8 42.4 344.8 T72.4 344.3 T105.9 344.8 L105.9 347.8 Q105.9 350.3 103.1 350.3 L18.4 350.3 Q15.6 350.3 15.6 347.8 Z" fill="#c9a36f"/>
<rect x="15" y="293.1" width="91.5" height="3.88" rx="0.8" fill="#1a8dcb"/>
<rect x="12.4" y="295.98" width="96.7" height="7.42" rx="1.2" fill="#1b90ce"/>
<path d="M22.3 303.4 L23.5 311.9 Q23.8 313.4 25.8 313.4 L37 313.4 Q39 313.4 39.3 311.9 L40.5 303.4 Z" fill="#e4e8ed" stroke="#c3cad3" stroke-width="0.4"/>
<path d="M47.4 339.2 L60.5 338.0 L66.8 344.2 L53.5 345.8 Z" fill="#eef0f2" stroke="#b7bcc2" stroke-width="0.5"/>
<path d="M55.5 342.5 Q57.2 335.5 58.8 336.2 Q60.5 338 59.8 342.3 Z" fill="#f39a42" stroke="#d77a22" stroke-width="0.3"/>
<g transform="translate(75.5 333.2) scale(1.12)"><path d="M6 7.5 Q12 9.5 18 8.8 Q22 8.5 24.5 9.6" fill="none" stroke="#b88080" stroke-width="0.8"/><path d="M-5 -5 C-3 -9 5 -9 8 -4 C10.5 0 9.5 6 5 8 C1 9.5 -4 8.5 -5.5 5 C-7 2 -6.5 -2 -5 -5 Z" fill="#463939"/><path d="M-9.6 -3.4 C-9 -7 -6 -9.2 -3 -8.8 C-0.5 -8.4 0.5 -6 -0.5 -3.5 C-1.5 -1.2 -5 -0.4 -7.5 -1.2 C-8.8 -1.6 -9.8 -2.4 -9.6 -3.4 Z" fill="#463939"/><ellipse cx="-0.6" cy="-8.2" rx="2.0" ry="2.3" fill="#8f6565"/><ellipse cx="-0.6" cy="-8.0" rx="1.2" ry="1.5" fill="#c79797"/><circle cx="-6.2" cy="-5" r="0.5" fill="#111"/><path d="M-3.2 7.5 L-3.8 10 L-1.6 10 Z M3.5 7.8 L3.2 10.3 L5.3 10.3 Z" fill="#c98a8a"/></g>
<rect x="31.4" y="365.5" width="58" height="11.3" fill="#bdbdbd"/>
<rect x="3.3" y="365.5" width="115.7" height="11.3" fill="none" stroke="#222" stroke-width="1"/>
<line x1="31.4" y1="365.5" x2="31.4" y2="376.8" stroke="#222" stroke-width="1"/>
<line x1="89.4" y1="365.5" x2="89.4" y2="376.8" stroke="#222" stroke-width="1"/>
<text x="15.5" y="362.5" font-size="8.6" text-anchor="middle">7 d</text>
<text x="59.3" y="362.5" font-size="8.6" text-anchor="middle">14 d</text>
<text x="103.1" y="362.5" font-size="8.6" text-anchor="middle">7 d</text>
<text transform="translate(27.8 382) rotate(-57)" font-size="8" text-anchor="end">Baseline</text>
<text transform="translate(53 396.8) rotate(-57)" font-size="8" text-anchor="middle">Oral intake</text>
<text transform="translate(61.39 402.25) rotate(-57)" font-size="8" text-anchor="middle">CVN 527</text>
<text transform="translate(115.2 382.6) rotate(-57)" font-size="8" text-anchor="end">Washout</text>
<rect x="215.92" y="295.5" width="74.78" height="95.5" fill="#d6d6d6"/>
<polyline points="184.3,369.87 189.57,368.39 194.84,363.53 200.11,358.67 205.38,355.5 210.65,355.5 215.92,354.23 221.19,354.45 226.46,351.91 231.73,349.37 237,349.37 242.27,348.95 247.54,346.63 252.81,345.15 258.08,343.03 263.35,340.71 268.62,339.44 273.89,335.64 279.16,335.43 284.43,333.53 289.7,333.53 294.97,328.46 300.24,324.65 305.51,323.81 310.78,324.44 316.05,322.96 321.32,322.96 326.59,318.31" fill="none" stroke="#4a90d4" stroke-width="0.8"/>
<line x1="189.57" y1="367.33" x2="189.57" y2="369.45" stroke="#4a90d4" stroke-width="0.9"/>
<line x1="188.17" y1="367.33" x2="190.97" y2="367.33" stroke="#4a90d4" stroke-width="0.9"/>
<line x1="188.17" y1="369.45" x2="190.97" y2="369.45" stroke="#4a90d4" stroke-width="0.9"/>
<circle cx="189.57" cy="368.39" r="0.8" fill="#4a90d4"/>
<line x1="194.84" y1="362.26" x2="194.84" y2="364.8" stroke="#4a90d4" stroke-width="0.9"/>
<line x1="193.44" y1="362.26" x2="196.24" y2="362.26" stroke="#4a90d4" stroke-width="0.9"/>
<line x1="193.44" y1="364.8" x2="196.24" y2="364.8" stroke="#4a90d4" stroke-width="0.9"/>
<circle cx="194.84" cy="363.53" r="0.8" fill="#4a90d4"/>
<line x1="200.11" y1="357.61" x2="200.11" y2="359.73" stroke="#4a90d4" stroke-width="0.9"/>
<line x1="198.71" y1="357.61" x2="201.51" y2="357.61" stroke="#4a90d4" stroke-width="0.9"/>
<line x1="198.71" y1="359.73" x2="201.51" y2="359.73" stroke="#4a90d4" stroke-width="0.9"/>
<circle cx="200.11" cy="358.67" r="0.8" fill="#4a90d4"/>
<line x1="205.38" y1="353.6" x2="205.38" y2="357.4" stroke="#4a90d4" stroke-width="0.9"/>
<line x1="203.98" y1="353.6" x2="206.78" y2="353.6" stroke="#4a90d4" stroke-width="0.9"/>
<line x1="203.98" y1="357.4" x2="206.78" y2="357.4" stroke="#4a90d4" stroke-width="0.9"/>
<circle cx="205.38" cy="355.5" r="0.8" fill="#4a90d4"/>
<line x1="210.65" y1="353.18" x2="210.65" y2="357.83" stroke="#4a90d4" stroke-width="0.9"/>
<line x1="209.25" y1="353.18" x2="212.05" y2="353.18" stroke="#4a90d4" stroke-width="0.9"/>
<line x1="209.25" y1="357.83" x2="212.05" y2="357.83" stroke="#4a90d4" stroke-width="0.9"/>
<circle cx="210.65" cy="355.5" r="0.8" fill="#4a90d4"/>
<line x1="215.92" y1="352.97" x2="215.92" y2="355.5" stroke="#4a90d4" stroke-width="0.9"/>
<line x1="214.52" y1="352.97" x2="217.32" y2="352.97" stroke="#4a90d4" stroke-width="0.9"/>
<line x1="214.52" y1="355.5" x2="217.32" y2="355.5" stroke="#4a90d4" stroke-width="0.9"/>
<circle cx="215.92" cy="354.23" r="0.8" fill="#4a90d4"/>
<line x1="221.19" y1="353.39" x2="221.19" y2="355.5" stroke="#4a90d4" stroke-width="0.9"/>
<line x1="219.79" y1="353.39" x2="222.59" y2="353.39" stroke="#4a90d4" stroke-width="0.9"/>
<line x1="219.79" y1="355.5" x2="222.59" y2="355.5" stroke="#4a90d4" stroke-width="0.9"/>
<circle cx="221.19" cy="354.45" r="0.8" fill="#4a90d4"/>
<line x1="226.46" y1="349.8" x2="226.46" y2="354.02" stroke="#4a90d4" stroke-width="0.9"/>
<line x1="225.06" y1="349.8" x2="227.86" y2="349.8" stroke="#4a90d4" stroke-width="0.9"/>
<line x1="225.06" y1="354.02" x2="227.86" y2="354.02" stroke="#4a90d4" stroke-width="0.9"/>
<circle cx="226.46" cy="351.91" r="0.8" fill="#4a90d4"/>
<line x1="231.73" y1="347.47" x2="231.73" y2="351.28" stroke="#4a90d4" stroke-width="0.9"/>
<line x1="230.33" y1="347.47" x2="233.13" y2="347.47" stroke="#4a90d4" stroke-width="0.9"/>
<line x1="230.33" y1="351.28" x2="233.13" y2="351.28" stroke="#4a90d4" stroke-width="0.9"/>
<circle cx="231.73" cy="349.37" r="0.8" fill="#4a90d4"/>
<line x1="237" y1="348.53" x2="237" y2="350.22" stroke="#4a90d4" stroke-width="0.9"/>
<line x1="235.6" y1="348.53" x2="238.4" y2="348.53" stroke="#4a90d4" stroke-width="0.9"/>
<line x1="235.6" y1="350.22" x2="238.4" y2="350.22" stroke="#4a90d4" stroke-width="0.9"/>
<circle cx="237" cy="349.37" r="0.8" fill="#4a90d4"/>
<line x1="242.27" y1="348.11" x2="242.27" y2="349.8" stroke="#4a90d4" stroke-width="0.9"/>
<line x1="240.87" y1="348.11" x2="243.67" y2="348.11" stroke="#4a90d4" stroke-width="0.9"/>
<line x1="240.87" y1="349.8" x2="243.67" y2="349.8" stroke="#4a90d4" stroke-width="0.9"/>
<circle cx="242.27" cy="348.95" r="0.8" fill="#4a90d4"/>
<line x1="247.54" y1="345.15" x2="247.54" y2="348.11" stroke="#4a90d4" stroke-width="0.9"/>
<line x1="246.14" y1="345.15" x2="248.94" y2="345.15" stroke="#4a90d4" stroke-width="0.9"/>
<line x1="246.14" y1="348.11" x2="248.94" y2="348.11" stroke="#4a90d4" stroke-width="0.9"/>
<circle cx="247.54" cy="346.63" r="0.8" fill="#4a90d4"/>
<line x1="252.81" y1="342.61" x2="252.81" y2="347.68" stroke="#4a90d4" stroke-width="0.9"/>
<line x1="251.41" y1="342.61" x2="254.21" y2="342.61" stroke="#4a90d4" stroke-width="0.9"/>
<line x1="251.41" y1="347.68" x2="254.21" y2="347.68" stroke="#4a90d4" stroke-width="0.9"/>
<circle cx="252.81" cy="345.15" r="0.8" fill="#4a90d4"/>
<line x1="258.08" y1="339.87" x2="258.08" y2="346.2" stroke="#4a90d4" stroke-width="0.9"/>
<line x1="256.68" y1="339.87" x2="259.48" y2="339.87" stroke="#4a90d4" stroke-width="0.9"/>
<line x1="256.68" y1="346.2" x2="259.48" y2="346.2" stroke="#4a90d4" stroke-width="0.9"/>
<circle cx="258.08" cy="343.03" r="0.8" fill="#4a90d4"/>
<line x1="263.35" y1="337.75" x2="263.35" y2="343.67" stroke="#4a90d4" stroke-width="0.9"/>
<line x1="261.95" y1="337.75" x2="264.75" y2="337.75" stroke="#4a90d4" stroke-width="0.9"/>
<line x1="261.95" y1="343.67" x2="264.75" y2="343.67" stroke="#4a90d4" stroke-width="0.9"/>
<circle cx="263.35" cy="340.71" r="0.8" fill="#4a90d4"/>
<line x1="268.62" y1="336.7" x2="268.62" y2="342.19" stroke="#4a90d4" stroke-width="0.9"/>
<line x1="267.22" y1="336.7" x2="270.02" y2="336.7" stroke="#4a90d4" stroke-width="0.9"/>
<line x1="267.22" y1="342.19" x2="270.02" y2="342.19" stroke="#4a90d4" stroke-width="0.9"/>
<circle cx="268.62" cy="339.44" r="0.8" fill="#4a90d4"/>
<line x1="273.89" y1="331.41" x2="273.89" y2="339.87" stroke="#4a90d4" stroke-width="0.9"/>
<line x1="272.49" y1="331.41" x2="275.29" y2="331.41" stroke="#4a90d4" stroke-width="0.9"/>
<line x1="272.49" y1="339.87" x2="275.29" y2="339.87" stroke="#4a90d4" stroke-width="0.9"/>
<circle cx="273.89" cy="335.64" r="0.8" fill="#4a90d4"/>
<line x1="279.16" y1="331.2" x2="279.16" y2="339.65" stroke="#4a90d4" stroke-width="0.9"/>
<line x1="277.76" y1="331.2" x2="280.56" y2="331.2" stroke="#4a90d4" stroke-width="0.9"/>
<line x1="277.76" y1="339.65" x2="280.56" y2="339.65" stroke="#4a90d4" stroke-width="0.9"/>
<circle cx="279.16" cy="335.43" r="0.8" fill="#4a90d4"/>
<line x1="284.43" y1="330.15" x2="284.43" y2="336.91" stroke="#4a90d4" stroke-width="0.9"/>
<line x1="283.03" y1="330.15" x2="285.83" y2="330.15" stroke="#4a90d4" stroke-width="0.9"/>
<line x1="283.03" y1="336.91" x2="285.83" y2="336.91" stroke="#4a90d4" stroke-width="0.9"/>
<circle cx="284.43" cy="333.53" r="0.8" fill="#4a90d4"/>
<line x1="289.7" y1="329.3" x2="289.7" y2="337.75" stroke="#4a90d4" stroke-width="0.9"/>
<line x1="288.3" y1="329.3" x2="291.1" y2="329.3" stroke="#4a90d4" stroke-width="0.9"/>
<line x1="288.3" y1="337.75" x2="291.1" y2="337.75" stroke="#4a90d4" stroke-width="0.9"/>
<circle cx="289.7" cy="333.53" r="0.8" fill="#4a90d4"/>
<line x1="294.97" y1="325.5" x2="294.97" y2="331.41" stroke="#4a90d4" stroke-width="0.9"/>
<line x1="293.57" y1="325.5" x2="296.37" y2="325.5" stroke="#4a90d4" stroke-width="0.9"/>
<line x1="293.57" y1="331.41" x2="296.37" y2="331.41" stroke="#4a90d4" stroke-width="0.9"/>
<circle cx="294.97" cy="328.46" r="0.8" fill="#4a90d4"/>
<line x1="300.24" y1="321.27" x2="300.24" y2="328.03" stroke="#4a90d4" stroke-width="0.9"/>
<line x1="298.84" y1="321.27" x2="301.64" y2="321.27" stroke="#4a90d4" stroke-width="0.9"/>
<line x1="298.84" y1="328.03" x2="301.64" y2="328.03" stroke="#4a90d4" stroke-width="0.9"/>
<circle cx="300.24" cy="324.65" r="0.8" fill="#4a90d4"/>
<line x1="305.51" y1="320.64" x2="305.51" y2="326.98" stroke="#4a90d4" stroke-width="0.9"/>
<line x1="304.11" y1="320.64" x2="306.91" y2="320.64" stroke="#4a90d4" stroke-width="0.9"/>
<line x1="304.11" y1="326.98" x2="306.91" y2="326.98" stroke="#4a90d4" stroke-width="0.9"/>
<circle cx="305.51" cy="323.81" r="0.8" fill="#4a90d4"/>
<line x1="310.78" y1="322.33" x2="310.78" y2="326.55" stroke="#4a90d4" stroke-width="0.9"/>
<line x1="309.38" y1="322.33" x2="312.18" y2="322.33" stroke="#4a90d4" stroke-width="0.9"/>
<line x1="309.38" y1="326.55" x2="312.18" y2="326.55" stroke="#4a90d4" stroke-width="0.9"/>
<circle cx="310.78" cy="324.44" r="0.8" fill="#4a90d4"/>
<line x1="316.05" y1="319.16" x2="316.05" y2="326.76" stroke="#4a90d4" stroke-width="0.9"/>
<line x1="314.65" y1="319.16" x2="317.45" y2="319.16" stroke="#4a90d4" stroke-width="0.9"/>
<line x1="314.65" y1="326.76" x2="317.45" y2="326.76" stroke="#4a90d4" stroke-width="0.9"/>
<circle cx="316.05" cy="322.96" r="0.8" fill="#4a90d4"/>
<line x1="321.32" y1="319.16" x2="321.32" y2="326.76" stroke="#4a90d4" stroke-width="0.9"/>
<line x1="319.92" y1="319.16" x2="322.72" y2="319.16" stroke="#4a90d4" stroke-width="0.9"/>
<line x1="319.92" y1="326.76" x2="322.72" y2="326.76" stroke="#4a90d4" stroke-width="0.9"/>
<circle cx="321.32" cy="322.96" r="0.8" fill="#4a90d4"/>
<line x1="326.59" y1="314.51" x2="326.59" y2="322.12" stroke="#4a90d4" stroke-width="0.9"/>
<line x1="325.19" y1="314.51" x2="327.99" y2="314.51" stroke="#4a90d4" stroke-width="0.9"/>
<line x1="325.19" y1="322.12" x2="327.99" y2="322.12" stroke="#4a90d4" stroke-width="0.9"/>
<circle cx="326.59" cy="318.31" r="0.8" fill="#4a90d4"/>
<polyline points="184.3,369.87 189.57,367.76 194.84,362.47 200.11,358.25 205.38,355.5 210.65,352.97 215.92,349.8 221.19,348.74 226.46,344.94 231.73,341.98 237,338.39 242.27,335.64 247.54,336.48 252.81,332.89 258.08,331.62 263.35,328.88 268.62,327.82 273.89,325.71 279.16,323.81 284.43,322.33 289.7,321.9 294.97,319.79 300.24,318.74 305.51,318.31 310.78,317.05 316.05,313.45 321.32,313.24 326.59,312.61" fill="none" stroke="#222" stroke-width="0.8"/>
<line x1="189.57" y1="366.7" x2="189.57" y2="368.81" stroke="#222" stroke-width="0.9"/>
<line x1="188.17" y1="366.7" x2="190.97" y2="366.7" stroke="#222" stroke-width="0.9"/>
<line x1="188.17" y1="368.81" x2="190.97" y2="368.81" stroke="#222" stroke-width="0.9"/>
<circle cx="189.57" cy="367.76" r="0.8" fill="#222"/>
<line x1="194.84" y1="361.21" x2="194.84" y2="363.74" stroke="#222" stroke-width="0.9"/>
<line x1="193.44" y1="361.21" x2="196.24" y2="361.21" stroke="#222" stroke-width="0.9"/>
<line x1="193.44" y1="363.74" x2="196.24" y2="363.74" stroke="#222" stroke-width="0.9"/>
<circle cx="194.84" cy="362.47" r="0.8" fill="#222"/>
<line x1="200.11" y1="357.19" x2="200.11" y2="359.31" stroke="#222" stroke-width="0.9"/>
<line x1="198.71" y1="357.19" x2="201.51" y2="357.19" stroke="#222" stroke-width="0.9"/>
<line x1="198.71" y1="359.31" x2="201.51" y2="359.31" stroke="#222" stroke-width="0.9"/>
<circle cx="200.11" cy="358.25" r="0.8" fill="#222"/>
<line x1="205.38" y1="353.81" x2="205.38" y2="357.19" stroke="#222" stroke-width="0.9"/>
<line x1="203.98" y1="353.81" x2="206.78" y2="353.81" stroke="#222" stroke-width="0.9"/>
<line x1="203.98" y1="357.19" x2="206.78" y2="357.19" stroke="#222" stroke-width="0.9"/>
<circle cx="205.38" cy="355.5" r="0.8" fill="#222"/>
<line x1="210.65" y1="350.85" x2="210.65" y2="355.08" stroke="#222" stroke-width="0.9"/>
<line x1="209.25" y1="350.85" x2="212.05" y2="350.85" stroke="#222" stroke-width="0.9"/>
<line x1="209.25" y1="355.08" x2="212.05" y2="355.08" stroke="#222" stroke-width="0.9"/>
<circle cx="210.65" cy="352.97" r="0.8" fill="#222"/>
<line x1="215.92" y1="346.84" x2="215.92" y2="352.75" stroke="#222" stroke-width="0.9"/>
<line x1="214.52" y1="346.84" x2="217.32" y2="346.84" stroke="#222" stroke-width="0.9"/>
<line x1="214.52" y1="352.75" x2="217.32" y2="352.75" stroke="#222" stroke-width="0.9"/>
<circle cx="215.92" cy="349.8" r="0.8" fill="#222"/>
<line x1="221.19" y1="345.57" x2="221.19" y2="351.91" stroke="#222" stroke-width="0.9"/>
<line x1="219.79" y1="345.57" x2="222.59" y2="345.57" stroke="#222" stroke-width="0.9"/>
<line x1="219.79" y1="351.91" x2="222.59" y2="351.91" stroke="#222" stroke-width="0.9"/>
<circle cx="221.19" cy="348.74" r="0.8" fill="#222"/>
<line x1="226.46" y1="342.82" x2="226.46" y2="347.05" stroke="#222" stroke-width="0.9"/>
<line x1="225.06" y1="342.82" x2="227.86" y2="342.82" stroke="#222" stroke-width="0.9"/>
<line x1="225.06" y1="347.05" x2="227.86" y2="347.05" stroke="#222" stroke-width="0.9"/>
<circle cx="226.46" cy="344.94" r="0.8" fill="#222"/>
<line x1="231.73" y1="339.65" x2="231.73" y2="344.3" stroke="#222" stroke-width="0.9"/>
<line x1="230.33" y1="339.65" x2="233.13" y2="339.65" stroke="#222" stroke-width="0.9"/>
<line x1="230.33" y1="344.3" x2="233.13" y2="344.3" stroke="#222" stroke-width="0.9"/>
<circle cx="231.73" cy="341.98" r="0.8" fill="#222"/>
<line x1="237" y1="335.43" x2="237" y2="341.34" stroke="#222" stroke-width="0.9"/>
<line x1="235.6" y1="335.43" x2="238.4" y2="335.43" stroke="#222" stroke-width="0.9"/>
<line x1="235.6" y1="341.34" x2="238.4" y2="341.34" stroke="#222" stroke-width="0.9"/>
<circle cx="237" cy="338.39" r="0.8" fill="#222"/>
<line x1="242.27" y1="332.89" x2="242.27" y2="338.39" stroke="#222" stroke-width="0.9"/>
<line x1="240.87" y1="332.89" x2="243.67" y2="332.89" stroke="#222" stroke-width="0.9"/>
<line x1="240.87" y1="338.39" x2="243.67" y2="338.39" stroke="#222" stroke-width="0.9"/>
<circle cx="242.27" cy="335.64" r="0.8" fill="#222"/>
<line x1="247.54" y1="333.74" x2="247.54" y2="339.23" stroke="#222" stroke-width="0.9"/>
<line x1="246.14" y1="333.74" x2="248.94" y2="333.74" stroke="#222" stroke-width="0.9"/>
<line x1="246.14" y1="339.23" x2="248.94" y2="339.23" stroke="#222" stroke-width="0.9"/>
<circle cx="247.54" cy="336.48" r="0.8" fill="#222"/>
<line x1="252.81" y1="329.72" x2="252.81" y2="336.06" stroke="#222" stroke-width="0.9"/>
<line x1="251.41" y1="329.72" x2="254.21" y2="329.72" stroke="#222" stroke-width="0.9"/>
<line x1="251.41" y1="336.06" x2="254.21" y2="336.06" stroke="#222" stroke-width="0.9"/>
<circle cx="252.81" cy="332.89" r="0.8" fill="#222"/>
<line x1="258.08" y1="329.93" x2="258.08" y2="333.32" stroke="#222" stroke-width="0.9"/>
<line x1="256.68" y1="329.93" x2="259.48" y2="329.93" stroke="#222" stroke-width="0.9"/>
<line x1="256.68" y1="333.32" x2="259.48" y2="333.32" stroke="#222" stroke-width="0.9"/>
<circle cx="258.08" cy="331.62" r="0.8" fill="#222"/>
<line x1="263.35" y1="327.4" x2="263.35" y2="330.36" stroke="#222" stroke-width="0.9"/>
<line x1="261.95" y1="327.4" x2="264.75" y2="327.4" stroke="#222" stroke-width="0.9"/>
<line x1="261.95" y1="330.36" x2="264.75" y2="330.36" stroke="#222" stroke-width="0.9"/>
<circle cx="263.35" cy="328.88" r="0.8" fill="#222"/>
<line x1="268.62" y1="326.34" x2="268.62" y2="329.3" stroke="#222" stroke-width="0.9"/>
<line x1="267.22" y1="326.34" x2="270.02" y2="326.34" stroke="#222" stroke-width="0.9"/>
<line x1="267.22" y1="329.3" x2="270.02" y2="329.3" stroke="#222" stroke-width="0.9"/>
<circle cx="268.62" cy="327.82" r="0.8" fill="#222"/>
<line x1="273.89" y1="324.02" x2="273.89" y2="327.4" stroke="#222" stroke-width="0.9"/>
<line x1="272.49" y1="324.02" x2="275.29" y2="324.02" stroke="#222" stroke-width="0.9"/>
<line x1="272.49" y1="327.4" x2="275.29" y2="327.4" stroke="#222" stroke-width="0.9"/>
<circle cx="273.89" cy="325.71" r="0.8" fill="#222"/>
<line x1="279.16" y1="322.54" x2="279.16" y2="325.07" stroke="#222" stroke-width="0.9"/>
<line x1="277.76" y1="322.54" x2="280.56" y2="322.54" stroke="#222" stroke-width="0.9"/>
<line x1="277.76" y1="325.07" x2="280.56" y2="325.07" stroke="#222" stroke-width="0.9"/>
<circle cx="279.16" cy="323.81" r="0.8" fill="#222"/>
<line x1="284.43" y1="320.43" x2="284.43" y2="324.23" stroke="#222" stroke-width="0.9"/>
<line x1="283.03" y1="320.43" x2="285.83" y2="320.43" stroke="#222" stroke-width="0.9"/>
<line x1="283.03" y1="324.23" x2="285.83" y2="324.23" stroke="#222" stroke-width="0.9"/>
<circle cx="284.43" cy="322.33" r="0.8" fill="#222"/>
<line x1="289.7" y1="319.16" x2="289.7" y2="324.65" stroke="#222" stroke-width="0.9"/>
<line x1="288.3" y1="319.16" x2="291.1" y2="319.16" stroke="#222" stroke-width="0.9"/>
<line x1="288.3" y1="324.65" x2="291.1" y2="324.65" stroke="#222" stroke-width="0.9"/>
<circle cx="289.7" cy="321.9" r="0.8" fill="#222"/>
<line x1="294.97" y1="317.05" x2="294.97" y2="322.54" stroke="#222" stroke-width="0.9"/>
<line x1="293.57" y1="317.05" x2="296.37" y2="317.05" stroke="#222" stroke-width="0.9"/>
<line x1="293.57" y1="322.54" x2="296.37" y2="322.54" stroke="#222" stroke-width="0.9"/>
<circle cx="294.97" cy="319.79" r="0.8" fill="#222"/>
<line x1="300.24" y1="316.83" x2="300.24" y2="320.64" stroke="#222" stroke-width="0.9"/>
<line x1="298.84" y1="316.83" x2="301.64" y2="316.83" stroke="#222" stroke-width="0.9"/>
<line x1="298.84" y1="320.64" x2="301.64" y2="320.64" stroke="#222" stroke-width="0.9"/>
<circle cx="300.24" cy="318.74" r="0.8" fill="#222"/>
<line x1="305.51" y1="316.2" x2="305.51" y2="320.43" stroke="#222" stroke-width="0.9"/>
<line x1="304.11" y1="316.2" x2="306.91" y2="316.2" stroke="#222" stroke-width="0.9"/>
<line x1="304.11" y1="320.43" x2="306.91" y2="320.43" stroke="#222" stroke-width="0.9"/>
<circle cx="305.51" cy="318.31" r="0.8" fill="#222"/>
<line x1="310.78" y1="315.99" x2="310.78" y2="318.1" stroke="#222" stroke-width="0.9"/>
<line x1="309.38" y1="315.99" x2="312.18" y2="315.99" stroke="#222" stroke-width="0.9"/>
<line x1="309.38" y1="318.1" x2="312.18" y2="318.1" stroke="#222" stroke-width="0.9"/>
<circle cx="310.78" cy="317.05" r="0.8" fill="#222"/>
<line x1="316.05" y1="312.19" x2="316.05" y2="314.72" stroke="#222" stroke-width="0.9"/>
<line x1="314.65" y1="312.19" x2="317.45" y2="312.19" stroke="#222" stroke-width="0.9"/>
<line x1="314.65" y1="314.72" x2="317.45" y2="314.72" stroke="#222" stroke-width="0.9"/>
<circle cx="316.05" cy="313.45" r="0.8" fill="#222"/>
<line x1="321.32" y1="311.97" x2="321.32" y2="314.51" stroke="#222" stroke-width="0.9"/>
<line x1="319.92" y1="311.97" x2="322.72" y2="311.97" stroke="#222" stroke-width="0.9"/>
<line x1="319.92" y1="314.51" x2="322.72" y2="314.51" stroke="#222" stroke-width="0.9"/>
<circle cx="321.32" cy="313.24" r="0.8" fill="#222"/>
<line x1="326.59" y1="309.86" x2="326.59" y2="315.35" stroke="#222" stroke-width="0.9"/>
<line x1="325.19" y1="309.86" x2="327.99" y2="309.86" stroke="#222" stroke-width="0.9"/>
<line x1="325.19" y1="315.35" x2="327.99" y2="315.35" stroke="#222" stroke-width="0.9"/>
<circle cx="326.59" cy="312.61" r="0.8" fill="#222"/>
<line x1="181.5" y1="295.92" x2="181.5" y2="391" stroke="#444" stroke-width="0.8"/>
<line x1="178" y1="295.92" x2="181.5" y2="295.92" stroke="#444" stroke-width="0.8"/>
<text x="176.5" y="297.75" font-size="5.1" text-anchor="end">135</text>
<line x1="178" y1="306.48" x2="181.5" y2="306.48" stroke="#444" stroke-width="0.8"/>
<text x="176.5" y="308.32" font-size="5.1" text-anchor="end">130</text>
<line x1="178" y1="317.05" x2="181.5" y2="317.05" stroke="#444" stroke-width="0.8"/>
<text x="176.5" y="318.88" font-size="5.1" text-anchor="end">125</text>
<line x1="178" y1="327.61" x2="181.5" y2="327.61" stroke="#444" stroke-width="0.8"/>
<text x="176.5" y="329.45" font-size="5.1" text-anchor="end">120</text>
<line x1="178" y1="338.18" x2="181.5" y2="338.18" stroke="#444" stroke-width="0.8"/>
<text x="176.5" y="340.01" font-size="5.1" text-anchor="end">115</text>
<line x1="178" y1="348.74" x2="181.5" y2="348.74" stroke="#444" stroke-width="0.8"/>
<text x="176.5" y="350.58" font-size="5.1" text-anchor="end">110</text>
<line x1="178" y1="359.31" x2="181.5" y2="359.31" stroke="#444" stroke-width="0.8"/>
<text x="176.5" y="361.14" font-size="5.1" text-anchor="end">105</text>
<line x1="178" y1="369.87" x2="181.5" y2="369.87" stroke="#444" stroke-width="0.8"/>
<text x="176.5" y="371.71" font-size="5.1" text-anchor="end">100</text>
<line x1="178" y1="380.44" x2="181.5" y2="380.44" stroke="#444" stroke-width="0.8"/>
<text x="176.5" y="382.27" font-size="5.1" text-anchor="end">95</text>
<line x1="178" y1="391" x2="181.5" y2="391" stroke="#444" stroke-width="0.8"/>
<text x="176.5" y="392.84" font-size="5.1" text-anchor="end">90</text>
<line x1="181.5" y1="391" x2="330" y2="391" stroke="#444" stroke-width="0.8"/>
<line x1="184.3" y1="391" x2="184.3" y2="394.6" stroke="#444" stroke-width="0.8"/>
<text x="184.3" y="400.92" font-size="5.3" text-anchor="middle">1</text>
<line x1="200.11" y1="391" x2="200.11" y2="394.6" stroke="#444" stroke-width="0.8"/>
<text x="200.11" y="400.92" font-size="5.3" text-anchor="middle">4</text>
<line x1="215.92" y1="391" x2="215.92" y2="394.6" stroke="#444" stroke-width="0.8"/>
<text x="215.92" y="400.92" font-size="5.3" text-anchor="middle">7</text>
<line x1="231.73" y1="391" x2="231.73" y2="394.6" stroke="#444" stroke-width="0.8"/>
<text x="231.73" y="400.92" font-size="5.3" text-anchor="middle">10</text>
<line x1="247.54" y1="391" x2="247.54" y2="394.6" stroke="#444" stroke-width="0.8"/>
<text x="247.54" y="400.92" font-size="5.3" text-anchor="middle">13</text>
<line x1="263.35" y1="391" x2="263.35" y2="394.6" stroke="#444" stroke-width="0.8"/>
<text x="263.35" y="400.92" font-size="5.3" text-anchor="middle">16</text>
<line x1="279.16" y1="391" x2="279.16" y2="394.6" stroke="#444" stroke-width="0.8"/>
<text x="279.16" y="400.92" font-size="5.3" text-anchor="middle">19</text>
<line x1="294.97" y1="391" x2="294.97" y2="394.6" stroke="#444" stroke-width="0.8"/>
<text x="294.97" y="400.92" font-size="5.3" text-anchor="middle">22</text>
<line x1="310.78" y1="391" x2="310.78" y2="394.6" stroke="#444" stroke-width="0.8"/>
<text x="310.78" y="400.92" font-size="5.3" text-anchor="middle">25</text>
<line x1="326.59" y1="391" x2="326.59" y2="394.6" stroke="#444" stroke-width="0.8"/>
<text x="326.59" y="400.92" font-size="5.3" text-anchor="middle">28</text>
<text x="254" y="412.3" font-size="6.6" text-anchor="middle">Days</text>
<text transform="translate(164.3 344) rotate(-90)" font-size="6.4" text-anchor="middle">% Initial Body Weight</text>
<line x1="236.3" y1="306.8" x2="292" y2="306.8" stroke="#111" stroke-width="1.8"/>
<text x="263.8" y="303.4" font-size="6.7" text-anchor="middle">&lt;0.05</text>
<rect x="422.4" y="295.9" width="93.4" height="94.9" fill="#d6d6d6"/>
<polyline points="387.3,316.52 392.91,311.96 398.52,311.05 404.13,317.44 409.74,332.04 415.35,332.95 420.96,332.95 426.57,329.3 432.18,332.95 437.79,333.86 443.4,338.42 449.01,329.3 454.62,329.3 460.23,338.79 465.84,336.23 471.45,328.93 477.06,326.56 482.67,325.65 488.28,336.23 493.89,333.31 499.5,342.99 505.11,331.12 510.72,328.38 516.33,338.06 521.94,339.88 527.55,336.6 533.16,341.71 538.77,338.42" fill="none" stroke="#4a90d4" stroke-width="0.8"/>
<line x1="387.3" y1="313.79" x2="387.3" y2="319.26" stroke="#4a90d4" stroke-width="1"/>
<line x1="385.8" y1="313.79" x2="388.8" y2="313.79" stroke="#4a90d4" stroke-width="1"/>
<line x1="385.8" y1="319.26" x2="388.8" y2="319.26" stroke="#4a90d4" stroke-width="1"/>
<circle cx="387.3" cy="316.52" r="0.8" fill="#4a90d4"/>
<line x1="392.91" y1="311.05" x2="392.91" y2="313.24" stroke="#4a90d4" stroke-width="1"/>
<line x1="391.41" y1="311.05" x2="394.41" y2="311.05" stroke="#4a90d4" stroke-width="1"/>
<line x1="391.41" y1="313.24" x2="394.41" y2="313.24" stroke="#4a90d4" stroke-width="1"/>
<circle cx="392.91" cy="311.96" r="0.8" fill="#4a90d4"/>
<line x1="398.52" y1="306.49" x2="398.52" y2="317.44" stroke="#4a90d4" stroke-width="1"/>
<line x1="397.02" y1="306.49" x2="400.02" y2="306.49" stroke="#4a90d4" stroke-width="1"/>
<line x1="397.02" y1="317.44" x2="400.02" y2="317.44" stroke="#4a90d4" stroke-width="1"/>
<circle cx="398.52" cy="311.05" r="0.8" fill="#4a90d4"/>
<line x1="404.13" y1="311.05" x2="404.13" y2="322.91" stroke="#4a90d4" stroke-width="1"/>
<line x1="402.63" y1="311.05" x2="405.63" y2="311.05" stroke="#4a90d4" stroke-width="1"/>
<line x1="402.63" y1="322.91" x2="405.63" y2="322.91" stroke="#4a90d4" stroke-width="1"/>
<circle cx="404.13" cy="317.44" r="0.8" fill="#4a90d4"/>
<line x1="409.74" y1="328.38" x2="409.74" y2="334.41" stroke="#4a90d4" stroke-width="1"/>
<line x1="408.24" y1="328.38" x2="411.24" y2="328.38" stroke="#4a90d4" stroke-width="1"/>
<line x1="408.24" y1="334.41" x2="411.24" y2="334.41" stroke="#4a90d4" stroke-width="1"/>
<circle cx="409.74" cy="332.04" r="0.8" fill="#4a90d4"/>
<line x1="415.35" y1="331.12" x2="415.35" y2="335.14" stroke="#4a90d4" stroke-width="1"/>
<line x1="413.85" y1="331.12" x2="416.85" y2="331.12" stroke="#4a90d4" stroke-width="1"/>
<line x1="413.85" y1="335.14" x2="416.85" y2="335.14" stroke="#4a90d4" stroke-width="1"/>
<circle cx="415.35" cy="332.95" r="0.8" fill="#4a90d4"/>
<line x1="420.96" y1="327.84" x2="420.96" y2="336.96" stroke="#4a90d4" stroke-width="1"/>
<line x1="419.46" y1="327.84" x2="422.46" y2="327.84" stroke="#4a90d4" stroke-width="1"/>
<line x1="419.46" y1="336.96" x2="422.46" y2="336.96" stroke="#4a90d4" stroke-width="1"/>
<circle cx="420.96" cy="332.95" r="0.8" fill="#4a90d4"/>
<line x1="426.57" y1="321.09" x2="426.57" y2="336.23" stroke="#4a90d4" stroke-width="1"/>
<line x1="425.07" y1="321.09" x2="428.07" y2="321.09" stroke="#4a90d4" stroke-width="1"/>
<line x1="425.07" y1="336.23" x2="428.07" y2="336.23" stroke="#4a90d4" stroke-width="1"/>
<circle cx="426.57" cy="329.3" r="0.8" fill="#4a90d4"/>
<line x1="432.18" y1="331.12" x2="432.18" y2="335.14" stroke="#4a90d4" stroke-width="1"/>
<line x1="430.68" y1="331.12" x2="433.68" y2="331.12" stroke="#4a90d4" stroke-width="1"/>
<line x1="430.68" y1="335.14" x2="433.68" y2="335.14" stroke="#4a90d4" stroke-width="1"/>
<circle cx="432.18" cy="332.95" r="0.8" fill="#4a90d4"/>
<line x1="437.79" y1="331.12" x2="437.79" y2="338.42" stroke="#4a90d4" stroke-width="1"/>
<line x1="436.29" y1="331.12" x2="439.29" y2="331.12" stroke="#4a90d4" stroke-width="1"/>
<line x1="436.29" y1="338.42" x2="439.29" y2="338.42" stroke="#4a90d4" stroke-width="1"/>
<circle cx="437.79" cy="333.86" r="0.8" fill="#4a90d4"/>
<line x1="443.4" y1="332.95" x2="443.4" y2="342.07" stroke="#4a90d4" stroke-width="1"/>
<line x1="441.9" y1="332.95" x2="444.9" y2="332.95" stroke="#4a90d4" stroke-width="1"/>
<line x1="441.9" y1="342.07" x2="444.9" y2="342.07" stroke="#4a90d4" stroke-width="1"/>
<circle cx="443.4" cy="338.42" r="0.8" fill="#4a90d4"/>
<line x1="449.01" y1="324.74" x2="449.01" y2="333.31" stroke="#4a90d4" stroke-width="1"/>
<line x1="447.51" y1="324.74" x2="450.51" y2="324.74" stroke="#4a90d4" stroke-width="1"/>
<line x1="447.51" y1="333.31" x2="450.51" y2="333.31" stroke="#4a90d4" stroke-width="1"/>
<circle cx="449.01" cy="329.3" r="0.8" fill="#4a90d4"/>
<line x1="454.62" y1="324.74" x2="454.62" y2="333.31" stroke="#4a90d4" stroke-width="1"/>
<line x1="453.12" y1="324.74" x2="456.12" y2="324.74" stroke="#4a90d4" stroke-width="1"/>
<line x1="453.12" y1="333.31" x2="456.12" y2="333.31" stroke="#4a90d4" stroke-width="1"/>
<circle cx="454.62" cy="329.3" r="0.8" fill="#4a90d4"/>
<line x1="460.23" y1="333.31" x2="460.23" y2="345.36" stroke="#4a90d4" stroke-width="1"/>
<line x1="458.73" y1="333.31" x2="461.73" y2="333.31" stroke="#4a90d4" stroke-width="1"/>
<line x1="458.73" y1="345.36" x2="461.73" y2="345.36" stroke="#4a90d4" stroke-width="1"/>
<circle cx="460.23" cy="338.79" r="0.8" fill="#4a90d4"/>
<line x1="465.84" y1="332.58" x2="465.84" y2="340.61" stroke="#4a90d4" stroke-width="1"/>
<line x1="464.34" y1="332.58" x2="467.34" y2="332.58" stroke="#4a90d4" stroke-width="1"/>
<line x1="464.34" y1="340.61" x2="467.34" y2="340.61" stroke="#4a90d4" stroke-width="1"/>
<circle cx="465.84" cy="336.23" r="0.8" fill="#4a90d4"/>
<line x1="471.45" y1="326.56" x2="471.45" y2="332.04" stroke="#4a90d4" stroke-width="1"/>
<line x1="469.95" y1="326.56" x2="472.95" y2="326.56" stroke="#4a90d4" stroke-width="1"/>
<line x1="469.95" y1="332.04" x2="472.95" y2="332.04" stroke="#4a90d4" stroke-width="1"/>
<circle cx="471.45" cy="328.93" r="0.8" fill="#4a90d4"/>
<line x1="477.06" y1="321.63" x2="477.06" y2="332.95" stroke="#4a90d4" stroke-width="1"/>
<line x1="475.56" y1="321.63" x2="478.56" y2="321.63" stroke="#4a90d4" stroke-width="1"/>
<line x1="475.56" y1="332.95" x2="478.56" y2="332.95" stroke="#4a90d4" stroke-width="1"/>
<circle cx="477.06" cy="326.56" r="0.8" fill="#4a90d4"/>
<line x1="482.67" y1="319.26" x2="482.67" y2="331.49" stroke="#4a90d4" stroke-width="1"/>
<line x1="481.17" y1="319.26" x2="484.17" y2="319.26" stroke="#4a90d4" stroke-width="1"/>
<line x1="481.17" y1="331.49" x2="484.17" y2="331.49" stroke="#4a90d4" stroke-width="1"/>
<circle cx="482.67" cy="325.65" r="0.8" fill="#4a90d4"/>
<line x1="488.28" y1="332.95" x2="488.28" y2="340.25" stroke="#4a90d4" stroke-width="1"/>
<line x1="486.78" y1="332.95" x2="489.78" y2="332.95" stroke="#4a90d4" stroke-width="1"/>
<line x1="486.78" y1="340.25" x2="489.78" y2="340.25" stroke="#4a90d4" stroke-width="1"/>
<circle cx="488.28" cy="336.23" r="0.8" fill="#4a90d4"/>
<line x1="493.89" y1="328.93" x2="493.89" y2="336.23" stroke="#4a90d4" stroke-width="1"/>
<line x1="492.39" y1="328.93" x2="495.39" y2="328.93" stroke="#4a90d4" stroke-width="1"/>
<line x1="492.39" y1="336.23" x2="495.39" y2="336.23" stroke="#4a90d4" stroke-width="1"/>
<circle cx="493.89" cy="333.31" r="0.8" fill="#4a90d4"/>
<line x1="499.5" y1="339.34" x2="499.5" y2="347.91" stroke="#4a90d4" stroke-width="1"/>
<line x1="498" y1="339.34" x2="501" y2="339.34" stroke="#4a90d4" stroke-width="1"/>
<line x1="498" y1="347.91" x2="501" y2="347.91" stroke="#4a90d4" stroke-width="1"/>
<circle cx="499.5" cy="342.99" r="0.8" fill="#4a90d4"/>
<line x1="505.11" y1="327.47" x2="505.11" y2="335.69" stroke="#4a90d4" stroke-width="1"/>
<line x1="503.61" y1="327.47" x2="506.61" y2="327.47" stroke="#4a90d4" stroke-width="1"/>
<line x1="503.61" y1="335.69" x2="506.61" y2="335.69" stroke="#4a90d4" stroke-width="1"/>
<circle cx="505.11" cy="331.12" r="0.8" fill="#4a90d4"/>
<line x1="510.72" y1="326.56" x2="510.72" y2="332.04" stroke="#4a90d4" stroke-width="1"/>
<line x1="509.22" y1="326.56" x2="512.22" y2="326.56" stroke="#4a90d4" stroke-width="1"/>
<line x1="509.22" y1="332.04" x2="512.22" y2="332.04" stroke="#4a90d4" stroke-width="1"/>
<circle cx="510.72" cy="328.38" r="0.8" fill="#4a90d4"/>
<line x1="516.33" y1="333.86" x2="516.33" y2="341.16" stroke="#4a90d4" stroke-width="1"/>
<line x1="514.83" y1="333.86" x2="517.83" y2="333.86" stroke="#4a90d4" stroke-width="1"/>
<line x1="514.83" y1="341.16" x2="517.83" y2="341.16" stroke="#4a90d4" stroke-width="1"/>
<circle cx="516.33" cy="338.06" r="0.8" fill="#4a90d4"/>
<line x1="521.94" y1="335.69" x2="521.94" y2="344.81" stroke="#4a90d4" stroke-width="1"/>
<line x1="520.44" y1="335.69" x2="523.44" y2="335.69" stroke="#4a90d4" stroke-width="1"/>
<line x1="520.44" y1="344.81" x2="523.44" y2="344.81" stroke="#4a90d4" stroke-width="1"/>
<circle cx="521.94" cy="339.88" r="0.8" fill="#4a90d4"/>
<line x1="527.55" y1="331.12" x2="527.55" y2="342.99" stroke="#4a90d4" stroke-width="1"/>
<line x1="526.05" y1="331.12" x2="529.05" y2="331.12" stroke="#4a90d4" stroke-width="1"/>
<line x1="526.05" y1="342.99" x2="529.05" y2="342.99" stroke="#4a90d4" stroke-width="1"/>
<circle cx="527.55" cy="336.6" r="0.8" fill="#4a90d4"/>
<line x1="533.16" y1="337.51" x2="533.16" y2="345.36" stroke="#4a90d4" stroke-width="1"/>
<line x1="531.66" y1="337.51" x2="534.66" y2="337.51" stroke="#4a90d4" stroke-width="1"/>
<line x1="531.66" y1="345.36" x2="534.66" y2="345.36" stroke="#4a90d4" stroke-width="1"/>
<circle cx="533.16" cy="341.71" r="0.8" fill="#4a90d4"/>
<line x1="538.77" y1="333.86" x2="538.77" y2="342.07" stroke="#4a90d4" stroke-width="1"/>
<line x1="537.27" y1="333.86" x2="540.27" y2="333.86" stroke="#4a90d4" stroke-width="1"/>
<line x1="537.27" y1="342.07" x2="540.27" y2="342.07" stroke="#4a90d4" stroke-width="1"/>
<circle cx="538.77" cy="338.42" r="0.8" fill="#4a90d4"/>
<polyline points="387.3,312.87 392.91,311.05 398.52,315.61 404.13,313.79 409.74,329.3 415.35,326.01 420.96,324.19 426.57,318.35 432.18,328.38 437.79,325.65 443.4,319.81 449.01,331.12 454.62,331.12 460.23,331.12 465.84,336.6 471.45,327.84 477.06,327.84 482.67,327.84 488.28,332.95 493.89,333.31 499.5,338.79 505.11,332.95 510.72,331.49 516.33,338.06 521.94,334.77 527.55,333.31 533.16,333.86 538.77,334.77" fill="none" stroke="#222" stroke-width="0.8"/>
<line x1="387.3" y1="309.22" x2="387.3" y2="316.52" stroke="#222" stroke-width="1"/>
<line x1="385.8" y1="309.22" x2="388.8" y2="309.22" stroke="#222" stroke-width="1"/>
<line x1="385.8" y1="316.52" x2="388.8" y2="316.52" stroke="#222" stroke-width="1"/>
<circle cx="387.3" cy="312.87" r="0.8" fill="#222"/>
<line x1="392.91" y1="307.76" x2="392.91" y2="313.79" stroke="#222" stroke-width="1"/>
<line x1="391.41" y1="307.76" x2="394.41" y2="307.76" stroke="#222" stroke-width="1"/>
<line x1="391.41" y1="313.79" x2="394.41" y2="313.79" stroke="#222" stroke-width="1"/>
<circle cx="392.91" cy="311.05" r="0.8" fill="#222"/>
<line x1="398.52" y1="312.87" x2="398.52" y2="321.09" stroke="#222" stroke-width="1"/>
<line x1="397.02" y1="312.87" x2="400.02" y2="312.87" stroke="#222" stroke-width="1"/>
<line x1="397.02" y1="321.09" x2="400.02" y2="321.09" stroke="#222" stroke-width="1"/>
<circle cx="398.52" cy="315.61" r="0.8" fill="#222"/>
<line x1="404.13" y1="310.68" x2="404.13" y2="318.35" stroke="#222" stroke-width="1"/>
<line x1="402.63" y1="310.68" x2="405.63" y2="310.68" stroke="#222" stroke-width="1"/>
<line x1="402.63" y1="318.35" x2="405.63" y2="318.35" stroke="#222" stroke-width="1"/>
<circle cx="404.13" cy="313.79" r="0.8" fill="#222"/>
<line x1="409.74" y1="327.84" x2="409.74" y2="331.12" stroke="#222" stroke-width="1"/>
<line x1="408.24" y1="327.84" x2="411.24" y2="327.84" stroke="#222" stroke-width="1"/>
<line x1="408.24" y1="331.12" x2="411.24" y2="331.12" stroke="#222" stroke-width="1"/>
<circle cx="409.74" cy="329.3" r="0.8" fill="#222"/>
<line x1="415.35" y1="322.36" x2="415.35" y2="330.21" stroke="#222" stroke-width="1"/>
<line x1="413.85" y1="322.36" x2="416.85" y2="322.36" stroke="#222" stroke-width="1"/>
<line x1="413.85" y1="330.21" x2="416.85" y2="330.21" stroke="#222" stroke-width="1"/>
<circle cx="415.35" cy="326.01" r="0.8" fill="#222"/>
<line x1="420.96" y1="322" x2="420.96" y2="327.84" stroke="#222" stroke-width="1"/>
<line x1="419.46" y1="322" x2="422.46" y2="322" stroke="#222" stroke-width="1"/>
<line x1="419.46" y1="327.84" x2="422.46" y2="327.84" stroke="#222" stroke-width="1"/>
<circle cx="420.96" cy="324.19" r="0.8" fill="#222"/>
<line x1="426.57" y1="315.06" x2="426.57" y2="322.91" stroke="#222" stroke-width="1"/>
<line x1="425.07" y1="315.06" x2="428.07" y2="315.06" stroke="#222" stroke-width="1"/>
<line x1="425.07" y1="322.91" x2="428.07" y2="322.91" stroke="#222" stroke-width="1"/>
<circle cx="426.57" cy="318.35" r="0.8" fill="#222"/>
<line x1="432.18" y1="327.11" x2="432.18" y2="329.66" stroke="#222" stroke-width="1"/>
<line x1="430.68" y1="327.11" x2="433.68" y2="327.11" stroke="#222" stroke-width="1"/>
<line x1="430.68" y1="329.66" x2="433.68" y2="329.66" stroke="#222" stroke-width="1"/>
<circle cx="432.18" cy="328.38" r="0.8" fill="#222"/>
<line x1="437.79" y1="323.46" x2="437.79" y2="332.04" stroke="#222" stroke-width="1"/>
<line x1="436.29" y1="323.46" x2="439.29" y2="323.46" stroke="#222" stroke-width="1"/>
<line x1="436.29" y1="332.04" x2="439.29" y2="332.04" stroke="#222" stroke-width="1"/>
<circle cx="437.79" cy="325.65" r="0.8" fill="#222"/>
<line x1="443.4" y1="318.35" x2="443.4" y2="322" stroke="#222" stroke-width="1"/>
<line x1="441.9" y1="318.35" x2="444.9" y2="318.35" stroke="#222" stroke-width="1"/>
<line x1="441.9" y1="322" x2="444.9" y2="322" stroke="#222" stroke-width="1"/>
<circle cx="443.4" cy="319.81" r="0.8" fill="#222"/>
<line x1="449.01" y1="325.28" x2="449.01" y2="336.6" stroke="#222" stroke-width="1"/>
<line x1="447.51" y1="325.28" x2="450.51" y2="325.28" stroke="#222" stroke-width="1"/>
<line x1="447.51" y1="336.6" x2="450.51" y2="336.6" stroke="#222" stroke-width="1"/>
<circle cx="449.01" cy="331.12" r="0.8" fill="#222"/>
<line x1="454.62" y1="325.65" x2="454.62" y2="336.96" stroke="#222" stroke-width="1"/>
<line x1="453.12" y1="325.65" x2="456.12" y2="325.65" stroke="#222" stroke-width="1"/>
<line x1="453.12" y1="336.96" x2="456.12" y2="336.96" stroke="#222" stroke-width="1"/>
<circle cx="454.62" cy="331.12" r="0.8" fill="#222"/>
<line x1="460.23" y1="323.46" x2="460.23" y2="340.25" stroke="#222" stroke-width="1"/>
<line x1="458.73" y1="323.46" x2="461.73" y2="323.46" stroke="#222" stroke-width="1"/>
<line x1="458.73" y1="340.25" x2="461.73" y2="340.25" stroke="#222" stroke-width="1"/>
<circle cx="460.23" cy="331.12" r="0.8" fill="#222"/>
<line x1="465.84" y1="334.77" x2="465.84" y2="340.61" stroke="#222" stroke-width="1"/>
<line x1="464.34" y1="334.77" x2="467.34" y2="334.77" stroke="#222" stroke-width="1"/>
<line x1="464.34" y1="340.61" x2="467.34" y2="340.61" stroke="#222" stroke-width="1"/>
<circle cx="465.84" cy="336.6" r="0.8" fill="#222"/>
<line x1="471.45" y1="326.56" x2="471.45" y2="330.21" stroke="#222" stroke-width="1"/>
<line x1="469.95" y1="326.56" x2="472.95" y2="326.56" stroke="#222" stroke-width="1"/>
<line x1="469.95" y1="330.21" x2="472.95" y2="330.21" stroke="#222" stroke-width="1"/>
<circle cx="471.45" cy="327.84" r="0.8" fill="#222"/>
<line x1="477.06" y1="325.65" x2="477.06" y2="332.95" stroke="#222" stroke-width="1"/>
<line x1="475.56" y1="325.65" x2="478.56" y2="325.65" stroke="#222" stroke-width="1"/>
<line x1="475.56" y1="332.95" x2="478.56" y2="332.95" stroke="#222" stroke-width="1"/>
<circle cx="477.06" cy="327.84" r="0.8" fill="#222"/>
<line x1="482.67" y1="325.28" x2="482.67" y2="331.12" stroke="#222" stroke-width="1"/>
<line x1="481.17" y1="325.28" x2="484.17" y2="325.28" stroke="#222" stroke-width="1"/>
<line x1="481.17" y1="331.12" x2="484.17" y2="331.12" stroke="#222" stroke-width="1"/>
<circle cx="482.67" cy="327.84" r="0.8" fill="#222"/>
<line x1="488.28" y1="331.49" x2="488.28" y2="334.41" stroke="#222" stroke-width="1"/>
<line x1="486.78" y1="331.49" x2="489.78" y2="331.49" stroke="#222" stroke-width="1"/>
<line x1="486.78" y1="334.41" x2="489.78" y2="334.41" stroke="#222" stroke-width="1"/>
<circle cx="488.28" cy="332.95" r="0.8" fill="#222"/>
<line x1="493.89" y1="328.93" x2="493.89" y2="335.69" stroke="#222" stroke-width="1"/>
<line x1="492.39" y1="328.93" x2="495.39" y2="328.93" stroke="#222" stroke-width="1"/>
<line x1="492.39" y1="335.69" x2="495.39" y2="335.69" stroke="#222" stroke-width="1"/>
<circle cx="493.89" cy="333.31" r="0.8" fill="#222"/>
<line x1="499.5" y1="336.96" x2="499.5" y2="341.71" stroke="#222" stroke-width="1"/>
<line x1="498" y1="336.96" x2="501" y2="336.96" stroke="#222" stroke-width="1"/>
<line x1="498" y1="341.71" x2="501" y2="341.71" stroke="#222" stroke-width="1"/>
<circle cx="499.5" cy="338.79" r="0.8" fill="#222"/>
<line x1="505.11" y1="331.49" x2="505.11" y2="338.42" stroke="#222" stroke-width="1"/>
<line x1="503.61" y1="331.49" x2="506.61" y2="331.49" stroke="#222" stroke-width="1"/>
<line x1="503.61" y1="338.42" x2="506.61" y2="338.42" stroke="#222" stroke-width="1"/>
<circle cx="505.11" cy="332.95" r="0.8" fill="#222"/>
<line x1="510.72" y1="327.47" x2="510.72" y2="334.41" stroke="#222" stroke-width="1"/>
<line x1="509.22" y1="327.47" x2="512.22" y2="327.47" stroke="#222" stroke-width="1"/>
<line x1="509.22" y1="334.41" x2="512.22" y2="334.41" stroke="#222" stroke-width="1"/>
<circle cx="510.72" cy="331.49" r="0.8" fill="#222"/>
<line x1="516.33" y1="334.41" x2="516.33" y2="342.99" stroke="#222" stroke-width="1"/>
<line x1="514.83" y1="334.41" x2="517.83" y2="334.41" stroke="#222" stroke-width="1"/>
<line x1="514.83" y1="342.99" x2="517.83" y2="342.99" stroke="#222" stroke-width="1"/>
<circle cx="516.33" cy="338.06" r="0.8" fill="#222"/>
<line x1="521.94" y1="331.49" x2="521.94" y2="338.79" stroke="#222" stroke-width="1"/>
<line x1="520.44" y1="331.49" x2="523.44" y2="331.49" stroke="#222" stroke-width="1"/>
<line x1="520.44" y1="338.79" x2="523.44" y2="338.79" stroke="#222" stroke-width="1"/>
<circle cx="521.94" cy="334.77" r="0.8" fill="#222"/>
<line x1="527.55" y1="331.12" x2="527.55" y2="335.69" stroke="#222" stroke-width="1"/>
<line x1="526.05" y1="331.12" x2="529.05" y2="331.12" stroke="#222" stroke-width="1"/>
<line x1="526.05" y1="335.69" x2="529.05" y2="335.69" stroke="#222" stroke-width="1"/>
<circle cx="527.55" cy="333.31" r="0.8" fill="#222"/>
<line x1="533.16" y1="328.38" x2="533.16" y2="338.79" stroke="#222" stroke-width="1"/>
<line x1="531.66" y1="328.38" x2="534.66" y2="328.38" stroke="#222" stroke-width="1"/>
<line x1="531.66" y1="338.79" x2="534.66" y2="338.79" stroke="#222" stroke-width="1"/>
<circle cx="533.16" cy="333.86" r="0.8" fill="#222"/>
<line x1="538.77" y1="332.58" x2="538.77" y2="337.51" stroke="#222" stroke-width="1"/>
<line x1="537.27" y1="332.58" x2="540.27" y2="332.58" stroke="#222" stroke-width="1"/>
<line x1="537.27" y1="337.51" x2="540.27" y2="337.51" stroke="#222" stroke-width="1"/>
<circle cx="538.77" cy="334.77" r="0.8" fill="#222"/>
<line x1="384.6" y1="295.9" x2="384.6" y2="390.8" stroke="#444" stroke-width="0.8"/>
<line x1="380.6" y1="295.9" x2="384.6" y2="295.9" stroke="#444" stroke-width="0.8"/>
<text x="379.3" y="297.74" font-size="5.1" text-anchor="end">5</text>
<line x1="380.6" y1="314.88" x2="384.6" y2="314.88" stroke="#444" stroke-width="0.8"/>
<text x="379.3" y="316.72" font-size="5.1" text-anchor="end">4</text>
<line x1="380.6" y1="333.86" x2="384.6" y2="333.86" stroke="#444" stroke-width="0.8"/>
<text x="379.3" y="335.7" font-size="5.1" text-anchor="end">3</text>
<line x1="380.6" y1="352.84" x2="384.6" y2="352.84" stroke="#444" stroke-width="0.8"/>
<text x="379.3" y="354.68" font-size="5.1" text-anchor="end">2</text>
<line x1="380.6" y1="371.82" x2="384.6" y2="371.82" stroke="#444" stroke-width="0.8"/>
<text x="379.3" y="373.66" font-size="5.1" text-anchor="end">1</text>
<line x1="380.6" y1="390.8" x2="384.6" y2="390.8" stroke="#444" stroke-width="0.8"/>
<text x="379.3" y="392.64" font-size="5.1" text-anchor="end">0</text>
<line x1="384.6" y1="390.8" x2="542" y2="390.8" stroke="#444" stroke-width="0.8"/>
<line x1="387.3" y1="390.8" x2="387.3" y2="394.6" stroke="#444" stroke-width="0.8"/>
<text x="387.3" y="400.77" font-size="5.1" text-anchor="middle">1</text>
<line x1="404.13" y1="390.8" x2="404.13" y2="394.6" stroke="#444" stroke-width="0.8"/>
<text x="404.13" y="400.77" font-size="5.1" text-anchor="middle">4</text>
<line x1="420.96" y1="390.8" x2="420.96" y2="394.6" stroke="#444" stroke-width="0.8"/>
<text x="420.96" y="400.77" font-size="5.1" text-anchor="middle">7</text>
<line x1="437.79" y1="390.8" x2="437.79" y2="394.6" stroke="#444" stroke-width="0.8"/>
<text x="437.79" y="400.77" font-size="5.1" text-anchor="middle">10</text>
<line x1="454.62" y1="390.8" x2="454.62" y2="394.6" stroke="#444" stroke-width="0.8"/>
<text x="454.62" y="400.77" font-size="5.1" text-anchor="middle">13</text>
<line x1="471.45" y1="390.8" x2="471.45" y2="394.6" stroke="#444" stroke-width="0.8"/>
<text x="471.45" y="400.77" font-size="5.1" text-anchor="middle">16</text>
<line x1="488.28" y1="390.8" x2="488.28" y2="394.6" stroke="#444" stroke-width="0.8"/>
<text x="488.28" y="400.77" font-size="5.1" text-anchor="middle">19</text>
<line x1="505.11" y1="390.8" x2="505.11" y2="394.6" stroke="#444" stroke-width="0.8"/>
<text x="505.11" y="400.77" font-size="5.1" text-anchor="middle">22</text>
<line x1="521.94" y1="390.8" x2="521.94" y2="394.6" stroke="#444" stroke-width="0.8"/>
<text x="521.94" y="400.77" font-size="5.1" text-anchor="middle">25</text>
<line x1="538.77" y1="390.8" x2="538.77" y2="394.6" stroke="#444" stroke-width="0.8"/>
<text x="538.77" y="400.77" font-size="5.1" text-anchor="middle">28</text>
<text x="462.2" y="412.3" font-size="6.6" text-anchor="middle">Days</text>
<text transform="translate(371.8 343) rotate(-90)" font-size="6.4" text-anchor="middle">Food Intake (g)</text>
<line x1="537.2" y1="297.7" x2="555.4" y2="297.7" stroke="#111" stroke-width="1.3"/>
<text x="557.2" y="301" font-size="8.8">CT</text>
<line x1="537.9" y1="311.9" x2="556.7" y2="311.9" stroke="#4a90d4" stroke-width="1.3"/>
<text x="558.9" y="315" font-size="8.8">CVN 527</text>
<rect x="36.28" y="490.26" width="15.55" height="54.74" fill="#fff" stroke="#cdcdcd" stroke-width="0.9"/>
<rect x="59.51" y="484.04" width="15.55" height="60.96" fill="#fff" stroke="#4a90d4" stroke-width="0.9"/>
<rect x="83.35" y="480.31" width="15.55" height="64.69" fill="#fff" stroke="#cdcdcd" stroke-width="0.9"/>
<rect x="106.16" y="467.25" width="15.55" height="77.75" fill="#fff" stroke="#4a90d4" stroke-width="0.9"/>
<line x1="44.06" y1="485.5" x2="44.06" y2="495.86" stroke="#c2c2c2" stroke-width="0.9"/>
<line x1="40.46" y1="485.5" x2="47.66" y2="485.5" stroke="#c2c2c2" stroke-width="0.9"/>
<line x1="40.46" y1="495.86" x2="47.66" y2="495.86" stroke="#c2c2c2" stroke-width="0.9"/>
<circle cx="42.46" cy="483.84" r="1.25" fill="#111"/>
<circle cx="45.66" cy="488.61" r="1.25" fill="#111"/>
<circle cx="44.06" cy="490.68" r="1.25" fill="#111"/>
<circle cx="42.86" cy="492.13" r="1.25" fill="#111"/>
<circle cx="45.26" cy="497.52" r="1.25" fill="#111"/>
<line x1="67.28" y1="478.24" x2="67.28" y2="489.64" stroke="#4a90d4" stroke-width="0.9"/>
<line x1="63.68" y1="478.24" x2="70.88" y2="478.24" stroke="#4a90d4" stroke-width="0.9"/>
<line x1="63.68" y1="489.64" x2="70.88" y2="489.64" stroke="#4a90d4" stroke-width="0.9"/>
<circle cx="65.68" cy="478.24" r="1.25" fill="#3f87d0"/>
<circle cx="68.88" cy="481.35" r="1.25" fill="#3f87d0"/>
<circle cx="67.28" cy="484.46" r="1.25" fill="#3f87d0"/>
<circle cx="66.08" cy="486.53" r="1.25" fill="#3f87d0"/>
<circle cx="68.48" cy="493.37" r="1.25" fill="#3f87d0"/>
<line x1="91.13" y1="474.09" x2="91.13" y2="481.35" stroke="#c2c2c2" stroke-width="0.9"/>
<line x1="87.53" y1="474.09" x2="94.73" y2="474.09" stroke="#c2c2c2" stroke-width="0.9"/>
<line x1="87.53" y1="481.35" x2="94.73" y2="481.35" stroke="#c2c2c2" stroke-width="0.9"/>
<circle cx="89.53" cy="473.47" r="1.25" fill="#111"/>
<circle cx="92.73" cy="475.13" r="1.25" fill="#111"/>
<circle cx="91.13" cy="480.93" r="1.25" fill="#111"/>
<circle cx="89.93" cy="485.91" r="1.25" fill="#111"/>
<circle cx="92.33" cy="486.53" r="1.25" fill="#111"/>
<line x1="113.93" y1="458.54" x2="113.93" y2="476.17" stroke="#4a90d4" stroke-width="0.9"/>
<line x1="110.33" y1="458.54" x2="117.53" y2="458.54" stroke="#4a90d4" stroke-width="0.9"/>
<line x1="110.33" y1="476.17" x2="117.53" y2="476.17" stroke="#4a90d4" stroke-width="0.9"/>
<circle cx="112.33" cy="459.58" r="1.25" fill="#3f87d0"/>
<circle cx="115.53" cy="461.65" r="1.25" fill="#3f87d0"/>
<circle cx="113.93" cy="467.87" r="1.25" fill="#3f87d0"/>
<circle cx="112.73" cy="470.57" r="1.25" fill="#3f87d0"/>
<circle cx="115.13" cy="480.93" r="1.25" fill="#3f87d0"/>
<line x1="29.03" y1="447.76" x2="29.03" y2="545" stroke="#444" stroke-width="0.8"/>
<line x1="25.83" y1="447.76" x2="29.03" y2="447.76" stroke="#444" stroke-width="0.8"/>
<text x="24.23" y="449.67" font-size="5.3" text-anchor="end">5000</text>
<line x1="25.83" y1="467.21" x2="29.03" y2="467.21" stroke="#444" stroke-width="0.8"/>
<text x="24.23" y="469.12" font-size="5.3" text-anchor="end">4000</text>
<line x1="25.83" y1="486.66" x2="29.03" y2="486.66" stroke="#444" stroke-width="0.8"/>
<text x="24.23" y="488.56" font-size="5.3" text-anchor="end">3000</text>
<line x1="25.83" y1="506.11" x2="29.03" y2="506.11" stroke="#444" stroke-width="0.8"/>
<text x="24.23" y="508.01" font-size="5.3" text-anchor="end">2000</text>
<line x1="25.83" y1="525.55" x2="29.03" y2="525.55" stroke="#444" stroke-width="0.8"/>
<text x="24.23" y="527.46" font-size="5.3" text-anchor="end">1000</text>
<line x1="25.83" y1="545" x2="29.03" y2="545" stroke="#444" stroke-width="0.8"/>
<text x="24.23" y="546.91" font-size="5.3" text-anchor="end">0</text>
<line x1="29.03" y1="545" x2="128.55" y2="545" stroke="#444" stroke-width="0.8"/>
<line x1="43.54" y1="550.19" x2="67.8" y2="550.19" stroke="#111" stroke-width="1.8"/>
<line x1="89.16" y1="550.19" x2="113.62" y2="550.19" stroke="#111" stroke-width="1.8"/>
<text x="55.98" y="558.48" font-size="6.6" text-anchor="middle">Light</text>
<text x="101.6" y="558.48" font-size="6.6" text-anchor="middle">Dark</text>
<text x="113.62" y="455.02" font-size="6.8" text-anchor="middle">0.025</text>
<text transform="translate(6.52 500.01) rotate(-90)" font-size="6.6" text-anchor="middle">VO<tspan font-size="4.4" dy="1.4">2</tspan><tspan dy="-1.4"> (ml/hr/kg)</tspan></text>
<rect x="176.42" y="496.18" width="15.53" height="48.66" fill="#fff" stroke="#cdcdcd" stroke-width="0.9"/>
<rect x="199.2" y="490.17" width="16.15" height="54.67" fill="#fff" stroke="#4a90d4" stroke-width="0.9"/>
<rect x="223.01" y="484.99" width="15.95" height="59.85" fill="#fff" stroke="#cdcdcd" stroke-width="0.9"/>
<rect x="246.41" y="474.43" width="15.95" height="70.41" fill="#fff" stroke="#4a90d4" stroke-width="0.9"/>
<line x1="184.18" y1="489.14" x2="184.18" y2="503.01" stroke="#c2c2c2" stroke-width="0.9"/>
<line x1="180.58" y1="489.14" x2="187.78" y2="489.14" stroke="#c2c2c2" stroke-width="0.9"/>
<line x1="180.58" y1="503.01" x2="187.78" y2="503.01" stroke="#c2c2c2" stroke-width="0.9"/>
<circle cx="182.58" cy="485.41" r="1.25" fill="#111"/>
<circle cx="185.78" cy="493.28" r="1.25" fill="#111"/>
<circle cx="184.18" cy="496.8" r="1.25" fill="#111"/>
<circle cx="182.98" cy="499.9" r="1.25" fill="#111"/>
<circle cx="185.38" cy="503.63" r="1.25" fill="#111"/>
<line x1="207.27" y1="482.3" x2="207.27" y2="497.83" stroke="#4a90d4" stroke-width="0.9"/>
<line x1="203.67" y1="482.3" x2="210.87" y2="482.3" stroke="#4a90d4" stroke-width="0.9"/>
<line x1="203.67" y1="497.83" x2="210.87" y2="497.83" stroke="#4a90d4" stroke-width="0.9"/>
<circle cx="205.67" cy="477.75" r="1.25" fill="#3f87d0"/>
<circle cx="208.87" cy="489.55" r="1.25" fill="#3f87d0"/>
<circle cx="207.27" cy="492.66" r="1.25" fill="#3f87d0"/>
<circle cx="206.07" cy="493.28" r="1.25" fill="#3f87d0"/>
<circle cx="208.47" cy="497.83" r="1.25" fill="#3f87d0"/>
<line x1="230.98" y1="476.09" x2="230.98" y2="494.31" stroke="#c2c2c2" stroke-width="0.9"/>
<line x1="227.38" y1="476.09" x2="234.58" y2="476.09" stroke="#c2c2c2" stroke-width="0.9"/>
<line x1="227.38" y1="494.31" x2="234.58" y2="494.31" stroke="#c2c2c2" stroke-width="0.9"/>
<circle cx="229.38" cy="470.5" r="1.25" fill="#111"/>
<circle cx="232.58" cy="484.99" r="1.25" fill="#111"/>
<circle cx="230.98" cy="487.48" r="1.25" fill="#111"/>
<circle cx="229.78" cy="488.51" r="1.25" fill="#111"/>
<circle cx="232.18" cy="494.11" r="1.25" fill="#111"/>
<line x1="254.38" y1="465.11" x2="254.38" y2="483.96" stroke="#4a90d4" stroke-width="0.9"/>
<line x1="250.78" y1="465.11" x2="257.98" y2="465.11" stroke="#4a90d4" stroke-width="0.9"/>
<line x1="250.78" y1="483.96" x2="257.98" y2="483.96" stroke="#4a90d4" stroke-width="0.9"/>
<circle cx="252.78" cy="461.59" r="1.25" fill="#3f87d0"/>
<circle cx="255.98" cy="469.88" r="1.25" fill="#3f87d0"/>
<circle cx="254.38" cy="472.57" r="1.25" fill="#3f87d0"/>
<circle cx="253.18" cy="483.34" r="1.25" fill="#3f87d0"/>
<circle cx="255.58" cy="483.75" r="1.25" fill="#3f87d0"/>
<line x1="168.13" y1="447.72" x2="168.13" y2="544.84" stroke="#444" stroke-width="0.8"/>
<line x1="164.93" y1="447.72" x2="168.13" y2="447.72" stroke="#444" stroke-width="0.8"/>
<text x="163.33" y="449.63" font-size="5.3" text-anchor="end">5000</text>
<line x1="164.93" y1="467.14" x2="168.13" y2="467.14" stroke="#444" stroke-width="0.8"/>
<text x="163.33" y="469.05" font-size="5.3" text-anchor="end">4000</text>
<line x1="164.93" y1="486.57" x2="168.13" y2="486.57" stroke="#444" stroke-width="0.8"/>
<text x="163.33" y="488.48" font-size="5.3" text-anchor="end">3000</text>
<line x1="164.93" y1="505.99" x2="168.13" y2="505.99" stroke="#444" stroke-width="0.8"/>
<text x="163.33" y="507.9" font-size="5.3" text-anchor="end">2000</text>
<line x1="164.93" y1="525.42" x2="168.13" y2="525.42" stroke="#444" stroke-width="0.8"/>
<text x="163.33" y="527.32" font-size="5.3" text-anchor="end">1000</text>
<line x1="164.93" y1="544.84" x2="168.13" y2="544.84" stroke="#444" stroke-width="0.8"/>
<text x="163.33" y="546.75" font-size="5.3" text-anchor="end">0</text>
<line x1="168.13" y1="544.84" x2="269.6" y2="544.84" stroke="#444" stroke-width="0.8"/>
<line x1="183.04" y1="550.02" x2="207.89" y2="550.02" stroke="#111" stroke-width="1.8"/>
<line x1="229.22" y1="550.02" x2="253.66" y2="550.02" stroke="#111" stroke-width="1.8"/>
<text x="195.68" y="558.3" font-size="6.6" text-anchor="middle">Light</text>
<text x="241.65" y="558.3" font-size="6.6" text-anchor="middle">Dark</text>
<text transform="translate(145.25 497.83) rotate(-90)" font-size="6.6" text-anchor="middle">VCO<tspan font-size="4.4" dy="1.4">2</tspan><tspan dy="-1.4"> (ml/hr/kg)</tspan></text>
<rect x="312.02" y="533.18" width="14.31" height="11.4" fill="#fff" stroke="#cdcdcd" stroke-width="0.9"/>
<rect x="333.17" y="529.66" width="14.51" height="14.93" fill="#fff" stroke="#4a90d4" stroke-width="0.9"/>
<rect x="354.31" y="505.81" width="14.1" height="38.77" fill="#fff" stroke="#cdcdcd" stroke-width="0.9"/>
<rect x="376.08" y="494.2" width="14.51" height="50.38" fill="#fff" stroke="#4a90d4" stroke-width="0.9"/>
<line x1="319.17" y1="529.04" x2="319.17" y2="537.33" stroke="#c2c2c2" stroke-width="0.9"/>
<line x1="315.57" y1="529.04" x2="322.77" y2="529.04" stroke="#c2c2c2" stroke-width="0.9"/>
<line x1="315.57" y1="537.33" x2="322.77" y2="537.33" stroke="#c2c2c2" stroke-width="0.9"/>
<circle cx="317.57" cy="528.62" r="1.25" fill="#111"/>
<circle cx="320.77" cy="531.11" r="1.25" fill="#111"/>
<circle cx="319.17" cy="536.92" r="1.25" fill="#111"/>
<circle cx="317.97" cy="536.92" r="1.25" fill="#111"/>
<line x1="340.42" y1="526.96" x2="340.42" y2="532.77" stroke="#4a90d4" stroke-width="0.9"/>
<line x1="336.82" y1="526.96" x2="344.02" y2="526.96" stroke="#4a90d4" stroke-width="0.9"/>
<line x1="336.82" y1="532.77" x2="344.02" y2="532.77" stroke="#4a90d4" stroke-width="0.9"/>
<circle cx="338.82" cy="526.55" r="1.25" fill="#3f87d0"/>
<circle cx="342.02" cy="528.62" r="1.25" fill="#3f87d0"/>
<circle cx="340.42" cy="530.7" r="1.25" fill="#3f87d0"/>
<circle cx="339.22" cy="532.77" r="1.25" fill="#3f87d0"/>
<line x1="361.36" y1="483.84" x2="361.36" y2="528" stroke="#c2c2c2" stroke-width="0.9"/>
<line x1="357.76" y1="483.84" x2="364.96" y2="483.84" stroke="#c2c2c2" stroke-width="0.9"/>
<line x1="357.76" y1="528" x2="364.96" y2="528" stroke="#c2c2c2" stroke-width="0.9"/>
<circle cx="359.76" cy="467.87" r="1.25" fill="#111"/>
<circle cx="362.96" cy="509.34" r="1.25" fill="#111"/>
<circle cx="361.36" cy="510.38" r="1.25" fill="#111"/>
<circle cx="360.16" cy="518.67" r="1.25" fill="#111"/>
<circle cx="362.56" cy="523.23" r="1.25" fill="#111"/>
<line x1="383.34" y1="484.46" x2="383.34" y2="503.74" stroke="#4a90d4" stroke-width="0.9"/>
<line x1="379.74" y1="484.46" x2="386.94" y2="484.46" stroke="#4a90d4" stroke-width="0.9"/>
<line x1="379.74" y1="503.74" x2="386.94" y2="503.74" stroke="#4a90d4" stroke-width="0.9"/>
<circle cx="381.74" cy="485.5" r="1.25" fill="#3f87d0"/>
<circle cx="384.94" cy="486.53" r="1.25" fill="#3f87d0"/>
<circle cx="383.34" cy="492.13" r="1.25" fill="#3f87d0"/>
<circle cx="382.14" cy="496.9" r="1.25" fill="#3f87d0"/>
<circle cx="384.54" cy="509.34" r="1.25" fill="#3f87d0"/>
<line x1="304.14" y1="444.44" x2="304.14" y2="544.59" stroke="#444" stroke-width="0.8"/>
<line x1="300.94" y1="444.44" x2="304.14" y2="444.44" stroke="#444" stroke-width="0.8"/>
<text x="299.34" y="446.35" font-size="5.3" text-anchor="end">2000</text>
<line x1="300.94" y1="469.48" x2="304.14" y2="469.48" stroke="#444" stroke-width="0.8"/>
<text x="299.34" y="471.39" font-size="5.3" text-anchor="end">1500</text>
<line x1="300.94" y1="494.51" x2="304.14" y2="494.51" stroke="#444" stroke-width="0.8"/>
<text x="299.34" y="496.42" font-size="5.3" text-anchor="end">1000</text>
<line x1="300.94" y1="519.55" x2="304.14" y2="519.55" stroke="#444" stroke-width="0.8"/>
<text x="299.34" y="521.46" font-size="5.3" text-anchor="end">500</text>
<line x1="300.94" y1="544.59" x2="304.14" y2="544.59" stroke="#444" stroke-width="0.8"/>
<text x="299.34" y="546.5" font-size="5.3" text-anchor="end">0</text>
<line x1="304.14" y1="544.59" x2="397.44" y2="544.59" stroke="#444" stroke-width="0.8"/>
<line x1="316.58" y1="549.36" x2="339.39" y2="549.36" stroke="#111" stroke-width="1.8"/>
<line x1="358.67" y1="549.36" x2="381.48" y2="549.36" stroke="#111" stroke-width="1.8"/>
<text x="327.57" y="558.06" font-size="6.6" text-anchor="middle">Light</text>
<text x="370.49" y="558.06" font-size="6.6" text-anchor="middle">Dark</text>
<text transform="translate(283.69 494.83) rotate(-90)" font-size="6.55" text-anchor="middle">Locomotor Activity (beam breaks/hr)</text>
<rect x="439.52" y="489.02" width="15.14" height="55.57" fill="#fff" stroke="#cdcdcd" stroke-width="0.9"/>
<rect x="462.32" y="485.5" width="15.14" height="59.09" fill="#fff" stroke="#4a90d4" stroke-width="0.9"/>
<rect x="484.72" y="479.9" width="15.14" height="64.69" fill="#fff" stroke="#cdcdcd" stroke-width="0.9"/>
<rect x="507.11" y="468.91" width="15.34" height="75.68" fill="#fff" stroke="#4a90d4" stroke-width="0.9"/>
<line x1="447.08" y1="484.46" x2="447.08" y2="492.75" stroke="#c2c2c2" stroke-width="0.9"/>
<line x1="443.48" y1="484.46" x2="450.68" y2="484.46" stroke="#c2c2c2" stroke-width="0.9"/>
<line x1="443.48" y1="492.75" x2="450.68" y2="492.75" stroke="#c2c2c2" stroke-width="0.9"/>
<circle cx="445.48" cy="481.35" r="1.25" fill="#111"/>
<circle cx="448.68" cy="487.98" r="1.25" fill="#111"/>
<circle cx="447.08" cy="491.72" r="1.25" fill="#111"/>
<circle cx="445.88" cy="493.37" r="1.25" fill="#111"/>
<circle cx="448.28" cy="493.79" r="1.25" fill="#111"/>
<line x1="469.89" y1="480.93" x2="469.89" y2="490.06" stroke="#4a90d4" stroke-width="0.9"/>
<line x1="466.29" y1="480.93" x2="473.49" y2="480.93" stroke="#4a90d4" stroke-width="0.9"/>
<line x1="466.29" y1="490.06" x2="473.49" y2="490.06" stroke="#4a90d4" stroke-width="0.9"/>
<circle cx="468.29" cy="480.31" r="1.25" fill="#3f87d0"/>
<circle cx="471.49" cy="481.76" r="1.25" fill="#3f87d0"/>
<circle cx="469.89" cy="485.08" r="1.25" fill="#3f87d0"/>
<circle cx="468.69" cy="487.15" r="1.25" fill="#3f87d0"/>
<circle cx="471.09" cy="491.72" r="1.25" fill="#3f87d0"/>
<line x1="492.28" y1="476.17" x2="492.28" y2="483.42" stroke="#c2c2c2" stroke-width="0.9"/>
<line x1="488.68" y1="476.17" x2="495.88" y2="476.17" stroke="#c2c2c2" stroke-width="0.9"/>
<line x1="488.68" y1="483.42" x2="495.88" y2="483.42" stroke="#c2c2c2" stroke-width="0.9"/>
<circle cx="490.68" cy="476.17" r="1.25" fill="#111"/>
<circle cx="493.88" cy="477.2" r="1.25" fill="#111"/>
<circle cx="492.28" cy="479.28" r="1.25" fill="#111"/>
<circle cx="491.08" cy="481.76" r="1.25" fill="#111"/>
<circle cx="493.48" cy="485.91" r="1.25" fill="#111"/>
<line x1="514.78" y1="461.03" x2="514.78" y2="476.58" stroke="#4a90d4" stroke-width="0.9"/>
<line x1="511.18" y1="461.03" x2="518.38" y2="461.03" stroke="#4a90d4" stroke-width="0.9"/>
<line x1="511.18" y1="476.58" x2="518.38" y2="476.58" stroke="#4a90d4" stroke-width="0.9"/>
<circle cx="513.18" cy="458.54" r="1.25" fill="#3f87d0"/>
<circle cx="516.38" cy="465.8" r="1.25" fill="#3f87d0"/>
<circle cx="514.78" cy="469.32" r="1.25" fill="#3f87d0"/>
<circle cx="513.58" cy="473.06" r="1.25" fill="#3f87d0"/>
<circle cx="515.98" cy="477.62" r="1.25" fill="#3f87d0"/>
<line x1="432.47" y1="447.14" x2="432.47" y2="544.59" stroke="#444" stroke-width="0.8"/>
<line x1="429.27" y1="447.14" x2="432.47" y2="447.14" stroke="#444" stroke-width="0.8"/>
<text x="427.67" y="449.05" font-size="5.3" text-anchor="end">10</text>
<line x1="429.27" y1="466.63" x2="432.47" y2="466.63" stroke="#444" stroke-width="0.8"/>
<text x="427.67" y="468.54" font-size="5.3" text-anchor="end">8</text>
<line x1="429.27" y1="486.12" x2="432.47" y2="486.12" stroke="#444" stroke-width="0.8"/>
<text x="427.67" y="488.03" font-size="5.3" text-anchor="end">6</text>
<line x1="429.27" y1="505.61" x2="432.47" y2="505.61" stroke="#444" stroke-width="0.8"/>
<text x="427.67" y="507.52" font-size="5.3" text-anchor="end">4</text>
<line x1="429.27" y1="525.1" x2="432.47" y2="525.1" stroke="#444" stroke-width="0.8"/>
<text x="427.67" y="527.01" font-size="5.3" text-anchor="end">2</text>
<line x1="429.27" y1="544.59" x2="432.47" y2="544.59" stroke="#444" stroke-width="0.8"/>
<text x="427.67" y="546.5" font-size="5.3" text-anchor="end">0</text>
<line x1="432.47" y1="544.59" x2="529.92" y2="544.59" stroke="#444" stroke-width="0.8"/>
<line x1="445.94" y1="549.77" x2="470.2" y2="549.77" stroke="#111" stroke-width="1.8"/>
<line x1="490.52" y1="549.77" x2="514.78" y2="549.77" stroke="#111" stroke-width="1.8"/>
<text x="458.38" y="558.06" font-size="6.6" text-anchor="middle">Light</text>
<text x="502.34" y="558.06" font-size="6.6" text-anchor="middle">Dark</text>
<text x="514.78" y="453.98" font-size="6.8" text-anchor="middle">0.017</text>
<text transform="translate(416.94 500.01) rotate(-90)" font-size="6.4" text-anchor="middle">Energy Expenditure (kcal/h)</text>
<polyline points="568.9,488.52 593.8,482.31 618.7,491.23 643.6,492.34 668.5,486.29" fill="none" stroke="#222" stroke-width="0.8"/>
<line x1="568.9" y1="482.15" x2="568.9" y2="494.57" stroke="#222" stroke-width="1.1"/>
<line x1="567.3" y1="482.15" x2="570.5" y2="482.15" stroke="#222" stroke-width="1.1"/>
<line x1="567.3" y1="494.57" x2="570.5" y2="494.57" stroke="#222" stroke-width="1.1"/>
<circle cx="568.9" cy="488.52" r="0.8" fill="#222"/>
<line x1="593.8" y1="480.08" x2="593.8" y2="485.02" stroke="#222" stroke-width="1.1"/>
<line x1="592.2" y1="480.08" x2="595.4" y2="480.08" stroke="#222" stroke-width="1.1"/>
<line x1="592.2" y1="485.02" x2="595.4" y2="485.02" stroke="#222" stroke-width="1.1"/>
<circle cx="593.8" cy="482.31" r="0.8" fill="#222"/>
<line x1="618.7" y1="485.5" x2="618.7" y2="496.8" stroke="#222" stroke-width="1.1"/>
<line x1="617.1" y1="485.5" x2="620.3" y2="485.5" stroke="#222" stroke-width="1.1"/>
<line x1="617.1" y1="496.8" x2="620.3" y2="496.8" stroke="#222" stroke-width="1.1"/>
<circle cx="618.7" cy="491.23" r="0.8" fill="#222"/>
<line x1="643.6" y1="488.52" x2="643.6" y2="496" stroke="#222" stroke-width="1.1"/>
<line x1="642" y1="488.52" x2="645.2" y2="488.52" stroke="#222" stroke-width="1.1"/>
<line x1="642" y1="496" x2="645.2" y2="496" stroke="#222" stroke-width="1.1"/>
<circle cx="643.6" cy="492.34" r="0.8" fill="#222"/>
<line x1="668.5" y1="479.13" x2="668.5" y2="493.62" stroke="#222" stroke-width="1.1"/>
<line x1="666.9" y1="479.13" x2="670.1" y2="479.13" stroke="#222" stroke-width="1.1"/>
<line x1="666.9" y1="493.62" x2="670.1" y2="493.62" stroke="#222" stroke-width="1.1"/>
<circle cx="668.5" cy="486.29" r="0.8" fill="#222"/>
<polyline points="568.9,490.27 593.8,490.27 618.7,477.22 643.6,469.89 668.5,466.55" fill="none" stroke="#4a90d4" stroke-width="0.8"/>
<line x1="568.9" y1="479.45" x2="568.9" y2="500.46" stroke="#4a90d4" stroke-width="1.1"/>
<line x1="567.3" y1="479.45" x2="570.5" y2="479.45" stroke="#4a90d4" stroke-width="1.1"/>
<line x1="567.3" y1="500.46" x2="570.5" y2="500.46" stroke="#4a90d4" stroke-width="1.1"/>
<circle cx="568.9" cy="490.27" r="0.8" fill="#4a90d4"/>
<line x1="593.8" y1="486.93" x2="593.8" y2="498.23" stroke="#4a90d4" stroke-width="1.1"/>
<line x1="592.2" y1="486.93" x2="595.4" y2="486.93" stroke="#4a90d4" stroke-width="1.1"/>
<line x1="592.2" y1="498.23" x2="595.4" y2="498.23" stroke="#4a90d4" stroke-width="1.1"/>
<circle cx="593.8" cy="490.27" r="0.8" fill="#4a90d4"/>
<line x1="618.7" y1="469.89" x2="618.7" y2="485.02" stroke="#4a90d4" stroke-width="1.1"/>
<line x1="617.1" y1="469.89" x2="620.3" y2="469.89" stroke="#4a90d4" stroke-width="1.1"/>
<line x1="617.1" y1="485.02" x2="620.3" y2="485.02" stroke="#4a90d4" stroke-width="1.1"/>
<circle cx="618.7" cy="477.22" r="0.8" fill="#4a90d4"/>
<line x1="643.6" y1="463.21" x2="643.6" y2="477.22" stroke="#4a90d4" stroke-width="1.1"/>
<line x1="642" y1="463.21" x2="645.2" y2="463.21" stroke="#4a90d4" stroke-width="1.1"/>
<line x1="642" y1="477.22" x2="645.2" y2="477.22" stroke="#4a90d4" stroke-width="1.1"/>
<circle cx="643.6" cy="469.89" r="0.8" fill="#4a90d4"/>
<line x1="668.5" y1="457.95" x2="668.5" y2="474.83" stroke="#4a90d4" stroke-width="1.1"/>
<line x1="666.9" y1="457.95" x2="670.1" y2="457.95" stroke="#4a90d4" stroke-width="1.1"/>
<line x1="666.9" y1="474.83" x2="670.1" y2="474.83" stroke="#4a90d4" stroke-width="1.1"/>
<circle cx="668.5" cy="466.55" r="0.8" fill="#4a90d4"/>
<line x1="552.6" y1="448.88" x2="552.6" y2="544.4" stroke="#444" stroke-width="0.8"/>
<line x1="550.1" y1="448.88" x2="552.6" y2="448.88" stroke="#444" stroke-width="0.8"/>
<text x="548.5" y="450.61" font-size="4.8" text-anchor="end">40</text>
<line x1="550.1" y1="464.8" x2="552.6" y2="464.8" stroke="#444" stroke-width="0.8"/>
<text x="548.5" y="466.53" font-size="4.8" text-anchor="end">39</text>
<line x1="550.1" y1="480.72" x2="552.6" y2="480.72" stroke="#444" stroke-width="0.8"/>
<text x="548.5" y="482.45" font-size="4.8" text-anchor="end">38</text>
<line x1="550.1" y1="496.64" x2="552.6" y2="496.64" stroke="#444" stroke-width="0.8"/>
<text x="548.5" y="498.37" font-size="4.8" text-anchor="end">37</text>
<line x1="550.1" y1="512.56" x2="552.6" y2="512.56" stroke="#444" stroke-width="0.8"/>
<text x="548.5" y="514.29" font-size="4.8" text-anchor="end">36</text>
<line x1="550.1" y1="528.48" x2="552.6" y2="528.48" stroke="#444" stroke-width="0.8"/>
<text x="548.5" y="530.21" font-size="4.8" text-anchor="end">35</text>
<line x1="550.1" y1="544.4" x2="552.6" y2="544.4" stroke="#444" stroke-width="0.8"/>
<text x="548.5" y="546.13" font-size="4.8" text-anchor="end">34</text>
<line x1="552.6" y1="544.4" x2="683.9" y2="544.4" stroke="#444" stroke-width="0.8"/>
<line x1="568.9" y1="544.4" x2="568.9" y2="547.7" stroke="#444" stroke-width="0.8"/>
<text x="568.9" y="553.36" font-size="4.8" text-anchor="middle">-20</text>
<line x1="593.8" y1="544.4" x2="593.8" y2="547.7" stroke="#444" stroke-width="0.8"/>
<text x="593.8" y="553.36" font-size="4.8" text-anchor="middle">0</text>
<line x1="618.7" y1="544.4" x2="618.7" y2="547.7" stroke="#444" stroke-width="0.8"/>
<text x="618.7" y="553.36" font-size="4.8" text-anchor="middle">20</text>
<line x1="643.6" y1="544.4" x2="643.6" y2="547.7" stroke="#444" stroke-width="0.8"/>
<text x="643.6" y="553.36" font-size="4.8" text-anchor="middle">40</text>
<line x1="668.5" y1="544.4" x2="668.5" y2="547.7" stroke="#444" stroke-width="0.8"/>
<text x="668.5" y="553.36" font-size="4.8" text-anchor="middle">60</text>
<line x1="615.5" y1="450.8" x2="669.2" y2="450.8" stroke="#111" stroke-width="1.8"/>
<text x="642.5" y="446.2" font-size="6.7" text-anchor="middle">&lt;0.05</text>
<text x="622.8" y="564.4" font-size="7.9" text-anchor="middle">Time (minutes)</text>
<text transform="translate(539.16 499.3) rotate(-90)" font-size="6" text-anchor="middle">BAT temperature (°C)</text>
<rect x="43.5" y="675.2" width="18" height="16.7" fill="#fff" stroke="#222" stroke-width="0.9"/>
<rect x="70.3" y="653.9" width="18.2" height="38" fill="#fff" stroke="#4a90d4" stroke-width="0.9"/>
<line x1="52.5" y1="675.2" x2="52.5" y2="671" stroke="#222" stroke-width="0.9"/>
<line x1="48" y1="671" x2="57" y2="671" stroke="#222" stroke-width="0.9"/>
<line x1="79.4" y1="653.9" x2="79.4" y2="646.4" stroke="#4a90d4" stroke-width="0.9"/>
<line x1="74.9" y1="646.4" x2="83.9" y2="646.4" stroke="#4a90d4" stroke-width="0.9"/>
<circle cx="52.3" cy="656.1" r="1.1" fill="#111"/>
<circle cx="52.3" cy="670" r="1.1" fill="#111"/>
<circle cx="50.6" cy="679.4" r="1.1" fill="#111"/>
<circle cx="54.5" cy="679" r="1.1" fill="#111"/>
<circle cx="52.8" cy="681.8" r="1.1" fill="#111"/>
<circle cx="52" cy="684.5" r="1.1" fill="#111"/>
<circle cx="79.4" cy="620.5" r="1.1" fill="#3f87d0"/>
<circle cx="79.4" cy="648.4" r="1.1" fill="#3f87d0"/>
<circle cx="79.4" cy="662.3" r="1.1" fill="#3f87d0"/>
<circle cx="79.4" cy="666.6" r="1.1" fill="#3f87d0"/>
<circle cx="79.4" cy="671" r="1.1" fill="#3f87d0"/>
<line x1="34.5" y1="593.5" x2="34.5" y2="691.9" stroke="#3a3a3a" stroke-width="1.35"/>
<line x1="31.5" y1="593.5" x2="34.5" y2="593.5" stroke="#3a3a3a" stroke-width="1.35"/>
<text x="30.2" y="595.8" font-size="6.4" text-anchor="end">0.08</text>
<line x1="31.5" y1="618.1" x2="34.5" y2="618.1" stroke="#3a3a3a" stroke-width="1.35"/>
<text x="30.2" y="620.4" font-size="6.4" text-anchor="end">0.06</text>
<line x1="31.5" y1="642.7" x2="34.5" y2="642.7" stroke="#3a3a3a" stroke-width="1.35"/>
<text x="30.2" y="645" font-size="6.4" text-anchor="end">0.04</text>
<line x1="31.5" y1="667.3" x2="34.5" y2="667.3" stroke="#3a3a3a" stroke-width="1.35"/>
<text x="30.2" y="669.6" font-size="6.4" text-anchor="end">0.02</text>
<line x1="31.5" y1="691.9" x2="34.5" y2="691.9" stroke="#3a3a3a" stroke-width="1.35"/>
<text x="30.2" y="694.2" font-size="6.4" text-anchor="end">0.00</text>
<line x1="34.5" y1="691.9" x2="97.7" y2="691.9" stroke="#3a3a3a" stroke-width="1.35"/>
<line x1="52.5" y1="691.9" x2="52.5" y2="694.9" stroke="#333" stroke-width="1"/>
<line x1="79.4" y1="691.9" x2="79.4" y2="694.9" stroke="#333" stroke-width="1"/>
<text x="79.5" y="615" font-size="6.8" text-anchor="middle">0.032</text>
<text x="50.5" y="704.4" font-size="7.1" text-anchor="middle">Control</text>
<text x="80" y="704.4" font-size="7.1" text-anchor="middle">CVN 527</text>
<text transform="translate(12.04 642.7) rotate(-90)" font-size="7.9" text-anchor="middle">O2 consumption (ug/min/mg)</text>
<rect x="138" y="667.53" width="7.3" height="24.27" fill="#5e5e5e" stroke="#3a3a3a" stroke-width="0.5"/>
<rect x="145.7" y="671.17" width="7.3" height="20.63" fill="#f7a540" stroke="#c98a2a" stroke-width="0.5"/>
<line x1="141.65" y1="667.53" x2="141.65" y2="662.68" stroke="#555" stroke-width="0.6"/>
<line x1="140.05" y1="662.68" x2="143.25" y2="662.68" stroke="#555" stroke-width="0.6"/>
<line x1="149.35" y1="671.17" x2="149.35" y2="666.56" stroke="#c98a2a" stroke-width="0.6"/>
<line x1="147.75" y1="666.56" x2="150.95" y2="666.56" stroke="#c98a2a" stroke-width="0.6"/>
<circle cx="140.05" cy="653.94" r="1.45" fill="#4d4d4d" stroke="#262626" stroke-width="0.5"/>
<circle cx="143.25" cy="660.01" r="1.45" fill="#4d4d4d" stroke="#262626" stroke-width="0.5"/>
<circle cx="141.65" cy="661.22" r="1.45" fill="#4d4d4d" stroke="#262626" stroke-width="0.5"/>
<circle cx="140.45" cy="679.66" r="1.45" fill="#4d4d4d" stroke="#262626" stroke-width="0.5"/>
<circle cx="142.85" cy="684.76" r="1.45" fill="#4d4d4d" stroke="#262626" stroke-width="0.5"/>
<circle cx="147.75" cy="662.19" r="1.4" fill="#f7a035" stroke="#b86808" stroke-width="0.65"/>
<circle cx="150.95" cy="667.29" r="1.4" fill="#f7a035" stroke="#b86808" stroke-width="0.65"/>
<circle cx="149.35" cy="668.26" r="1.4" fill="#f7a035" stroke="#b86808" stroke-width="0.65"/>
<circle cx="148.15" cy="678.94" r="1.4" fill="#f7a035" stroke="#b86808" stroke-width="0.65"/>
<circle cx="150.55" cy="681.85" r="1.4" fill="#f7a035" stroke="#b86808" stroke-width="0.65"/>
<text transform="translate(147.5 700.5) rotate(-50)" font-size="7.5" text-anchor="end" font-style="italic">Ppargc1a</text>
<rect x="157.24" y="667.53" width="7.3" height="24.27" fill="#5e5e5e" stroke="#3a3a3a" stroke-width="0.5"/>
<rect x="164.94" y="665.59" width="7.3" height="26.21" fill="#f7a540" stroke="#c98a2a" stroke-width="0.5"/>
<line x1="160.89" y1="667.53" x2="160.89" y2="663.89" stroke="#555" stroke-width="0.6"/>
<line x1="159.29" y1="663.89" x2="162.49" y2="663.89" stroke="#555" stroke-width="0.6"/>
<line x1="168.59" y1="665.59" x2="168.59" y2="661.71" stroke="#c98a2a" stroke-width="0.6"/>
<line x1="166.99" y1="661.71" x2="170.19" y2="661.71" stroke="#c98a2a" stroke-width="0.6"/>
<circle cx="159.29" cy="655.64" r="1.45" fill="#4d4d4d" stroke="#262626" stroke-width="0.5"/>
<circle cx="162.49" cy="661.71" r="1.45" fill="#4d4d4d" stroke="#262626" stroke-width="0.5"/>
<circle cx="160.89" cy="667.29" r="1.45" fill="#4d4d4d" stroke="#262626" stroke-width="0.5"/>
<circle cx="159.69" cy="668.74" r="1.45" fill="#4d4d4d" stroke="#262626" stroke-width="0.5"/>
<circle cx="162.09" cy="677.72" r="1.45" fill="#4d4d4d" stroke="#262626" stroke-width="0.5"/>
<circle cx="166.99" cy="649.57" r="1.4" fill="#f7a035" stroke="#b86808" stroke-width="0.65"/>
<circle cx="170.19" cy="662.92" r="1.4" fill="#f7a035" stroke="#b86808" stroke-width="0.65"/>
<circle cx="168.59" cy="665.59" r="1.4" fill="#f7a035" stroke="#b86808" stroke-width="0.65"/>
<circle cx="167.39" cy="666.56" r="1.4" fill="#f7a035" stroke="#b86808" stroke-width="0.65"/>
<circle cx="169.79" cy="672.14" r="1.4" fill="#f7a035" stroke="#b86808" stroke-width="0.65"/>
<text transform="translate(166.74 700.5) rotate(-50)" font-size="7.5" text-anchor="end" font-style="italic">Fabp4</text>
<rect x="176.48" y="667.53" width="7.3" height="24.27" fill="#5e5e5e" stroke="#3a3a3a" stroke-width="0.5"/>
<rect x="184.18" y="670.44" width="7.3" height="21.36" fill="#f7a540" stroke="#c98a2a" stroke-width="0.5"/>
<line x1="180.13" y1="667.53" x2="180.13" y2="664.37" stroke="#555" stroke-width="0.6"/>
<line x1="178.53" y1="664.37" x2="181.73" y2="664.37" stroke="#555" stroke-width="0.6"/>
<line x1="187.83" y1="670.44" x2="187.83" y2="666.56" stroke="#c98a2a" stroke-width="0.6"/>
<line x1="186.23" y1="666.56" x2="189.43" y2="666.56" stroke="#c98a2a" stroke-width="0.6"/>
<circle cx="178.53" cy="660.01" r="1.45" fill="#4d4d4d" stroke="#262626" stroke-width="0.5"/>
<circle cx="181.73" cy="659.04" r="1.45" fill="#4d4d4d" stroke="#262626" stroke-width="0.5"/>
<circle cx="180.13" cy="661.71" r="1.45" fill="#4d4d4d" stroke="#262626" stroke-width="0.5"/>
<circle cx="178.93" cy="674.81" r="1.45" fill="#4d4d4d" stroke="#262626" stroke-width="0.5"/>
<circle cx="181.33" cy="676.02" r="1.45" fill="#4d4d4d" stroke="#262626" stroke-width="0.5"/>
<circle cx="186.23" cy="661.71" r="1.4" fill="#f7a035" stroke="#b86808" stroke-width="0.65"/>
<circle cx="189.43" cy="664.62" r="1.4" fill="#f7a035" stroke="#b86808" stroke-width="0.65"/>
<circle cx="187.83" cy="670.44" r="1.4" fill="#f7a035" stroke="#b86808" stroke-width="0.65"/>
<circle cx="186.63" cy="671.9" r="1.4" fill="#f7a035" stroke="#b86808" stroke-width="0.65"/>
<circle cx="189.03" cy="679.66" r="1.4" fill="#f7a035" stroke="#b86808" stroke-width="0.65"/>
<text transform="translate(185.98 700.5) rotate(-50)" font-size="7.5" text-anchor="end" font-style="italic">Ucp1</text>
<rect x="195.72" y="667.53" width="7.3" height="24.27" fill="#5e5e5e" stroke="#3a3a3a" stroke-width="0.5"/>
<rect x="203.42" y="666.32" width="7.3" height="25.48" fill="#f7a540" stroke="#c98a2a" stroke-width="0.5"/>
<line x1="199.37" y1="667.53" x2="199.37" y2="664.37" stroke="#555" stroke-width="0.6"/>
<line x1="197.77" y1="664.37" x2="200.97" y2="664.37" stroke="#555" stroke-width="0.6"/>
<line x1="207.07" y1="666.32" x2="207.07" y2="660.25" stroke="#c98a2a" stroke-width="0.6"/>
<line x1="205.47" y1="660.25" x2="208.67" y2="660.25" stroke="#c98a2a" stroke-width="0.6"/>
<circle cx="197.77" cy="649.57" r="1.45" fill="#4d4d4d" stroke="#262626" stroke-width="0.5"/>
<circle cx="200.97" cy="662.19" r="1.45" fill="#4d4d4d" stroke="#262626" stroke-width="0.5"/>
<circle cx="199.37" cy="663.4" r="1.45" fill="#4d4d4d" stroke="#262626" stroke-width="0.5"/>
<circle cx="198.17" cy="673.84" r="1.45" fill="#4d4d4d" stroke="#262626" stroke-width="0.5"/>
<circle cx="200.57" cy="679.18" r="1.45" fill="#4d4d4d" stroke="#262626" stroke-width="0.5"/>
<circle cx="205.47" cy="644.47" r="1.4" fill="#f7a035" stroke="#b86808" stroke-width="0.65"/>
<circle cx="208.67" cy="657.82" r="1.4" fill="#f7a035" stroke="#b86808" stroke-width="0.65"/>
<circle cx="207.07" cy="666.07" r="1.4" fill="#f7a035" stroke="#b86808" stroke-width="0.65"/>
<circle cx="205.87" cy="669.96" r="1.4" fill="#f7a035" stroke="#b86808" stroke-width="0.65"/>
<circle cx="208.27" cy="674.08" r="1.4" fill="#f7a035" stroke="#b86808" stroke-width="0.65"/>
<circle cx="207.47" cy="679.91" r="1.4" fill="#f7a035" stroke="#b86808" stroke-width="0.65"/>
<text transform="translate(205.22 700.5) rotate(-50)" font-size="7.5" text-anchor="end" font-style="italic">Elovl3</text>
<rect x="214.96" y="667.53" width="7.3" height="24.27" fill="#5e5e5e" stroke="#3a3a3a" stroke-width="0.5"/>
<rect x="222.66" y="652" width="7.3" height="39.8" fill="#f7a540" stroke="#c98a2a" stroke-width="0.5"/>
<line x1="218.61" y1="667.53" x2="218.61" y2="661.22" stroke="#555" stroke-width="0.6"/>
<line x1="217.01" y1="661.22" x2="220.21" y2="661.22" stroke="#555" stroke-width="0.6"/>
<line x1="226.31" y1="652" x2="226.31" y2="642.29" stroke="#c98a2a" stroke-width="0.6"/>
<line x1="224.71" y1="642.29" x2="227.91" y2="642.29" stroke="#c98a2a" stroke-width="0.6"/>
<circle cx="217.01" cy="638.41" r="1.45" fill="#4d4d4d" stroke="#262626" stroke-width="0.5"/>
<circle cx="220.21" cy="661.22" r="1.45" fill="#4d4d4d" stroke="#262626" stroke-width="0.5"/>
<circle cx="218.61" cy="662.19" r="1.45" fill="#4d4d4d" stroke="#262626" stroke-width="0.5"/>
<circle cx="217.41" cy="674.33" r="1.45" fill="#4d4d4d" stroke="#262626" stroke-width="0.5"/>
<circle cx="219.81" cy="679.91" r="1.45" fill="#4d4d4d" stroke="#262626" stroke-width="0.5"/>
<circle cx="219.01" cy="686.95" r="1.45" fill="#4d4d4d" stroke="#262626" stroke-width="0.5"/>
<circle cx="224.71" cy="610.98" r="1.4" fill="#f7a035" stroke="#b86808" stroke-width="0.65"/>
<circle cx="227.91" cy="638.89" r="1.4" fill="#f7a035" stroke="#b86808" stroke-width="0.65"/>
<circle cx="226.31" cy="652.24" r="1.4" fill="#f7a035" stroke="#b86808" stroke-width="0.65"/>
<circle cx="225.11" cy="671.9" r="1.4" fill="#f7a035" stroke="#b86808" stroke-width="0.65"/>
<circle cx="227.51" cy="672.38" r="1.4" fill="#f7a035" stroke="#b86808" stroke-width="0.65"/>
<circle cx="226.71" cy="673.11" r="1.4" fill="#f7a035" stroke="#b86808" stroke-width="0.65"/>
<text transform="translate(224.46 700.5) rotate(-50)" font-size="7.5" text-anchor="end" font-style="italic">Dio2</text>
<rect x="234.2" y="667.53" width="7.3" height="24.27" fill="#5e5e5e" stroke="#3a3a3a" stroke-width="0.5"/>
<rect x="241.9" y="674.08" width="7.3" height="17.72" fill="#f7a540" stroke="#c98a2a" stroke-width="0.5"/>
<line x1="237.85" y1="667.53" x2="237.85" y2="662.19" stroke="#555" stroke-width="0.6"/>
<line x1="236.25" y1="662.19" x2="239.45" y2="662.19" stroke="#555" stroke-width="0.6"/>
<line x1="245.55" y1="674.08" x2="245.55" y2="671.17" stroke="#c98a2a" stroke-width="0.6"/>
<line x1="243.95" y1="671.17" x2="247.15" y2="671.17" stroke="#c98a2a" stroke-width="0.6"/>
<circle cx="236.25" cy="650.3" r="1.45" fill="#4d4d4d" stroke="#262626" stroke-width="0.5"/>
<circle cx="239.45" cy="653.45" r="1.45" fill="#4d4d4d" stroke="#262626" stroke-width="0.5"/>
<circle cx="237.85" cy="672.63" r="1.45" fill="#4d4d4d" stroke="#262626" stroke-width="0.5"/>
<circle cx="236.65" cy="674.08" r="1.45" fill="#4d4d4d" stroke="#262626" stroke-width="0.5"/>
<circle cx="239.05" cy="675.3" r="1.45" fill="#4d4d4d" stroke="#262626" stroke-width="0.5"/>
<circle cx="243.95" cy="669.96" r="1.4" fill="#f7a035" stroke="#b86808" stroke-width="0.65"/>
<circle cx="247.15" cy="671.9" r="1.4" fill="#f7a035" stroke="#b86808" stroke-width="0.65"/>
<circle cx="245.55" cy="674.08" r="1.4" fill="#f7a035" stroke="#b86808" stroke-width="0.65"/>
<circle cx="244.35" cy="677.24" r="1.4" fill="#f7a035" stroke="#b86808" stroke-width="0.65"/>
<circle cx="246.75" cy="679.66" r="1.4" fill="#f7a035" stroke="#b86808" stroke-width="0.65"/>
<text transform="translate(243.7 700.5) rotate(-50)" font-size="7.5" text-anchor="end" font-style="italic">Cidea</text>
<rect x="253.44" y="667.53" width="7.3" height="24.27" fill="#5e5e5e" stroke="#3a3a3a" stroke-width="0.5"/>
<rect x="261.14" y="665.35" width="7.3" height="26.45" fill="#f7a540" stroke="#c98a2a" stroke-width="0.5"/>
<line x1="257.09" y1="667.53" x2="257.09" y2="662.19" stroke="#555" stroke-width="0.6"/>
<line x1="255.49" y1="662.19" x2="258.69" y2="662.19" stroke="#555" stroke-width="0.6"/>
<line x1="264.79" y1="665.35" x2="264.79" y2="661.71" stroke="#c98a2a" stroke-width="0.6"/>
<line x1="263.19" y1="661.71" x2="266.39" y2="661.71" stroke="#c98a2a" stroke-width="0.6"/>
<circle cx="255.49" cy="647.39" r="1.45" fill="#4d4d4d" stroke="#262626" stroke-width="0.5"/>
<circle cx="258.69" cy="661.71" r="1.45" fill="#4d4d4d" stroke="#262626" stroke-width="0.5"/>
<circle cx="257.09" cy="666.56" r="1.45" fill="#4d4d4d" stroke="#262626" stroke-width="0.5"/>
<circle cx="255.89" cy="677" r="1.45" fill="#4d4d4d" stroke="#262626" stroke-width="0.5"/>
<circle cx="258.29" cy="683.06" r="1.45" fill="#4d4d4d" stroke="#262626" stroke-width="0.5"/>
<circle cx="263.19" cy="648.36" r="1.4" fill="#f7a035" stroke="#b86808" stroke-width="0.65"/>
<circle cx="266.39" cy="662.92" r="1.4" fill="#f7a035" stroke="#b86808" stroke-width="0.65"/>
<circle cx="264.79" cy="663.89" r="1.4" fill="#f7a035" stroke="#b86808" stroke-width="0.65"/>
<circle cx="263.59" cy="671.41" r="1.4" fill="#f7a035" stroke="#b86808" stroke-width="0.65"/>
<circle cx="265.99" cy="671.9" r="1.4" fill="#f7a035" stroke="#b86808" stroke-width="0.65"/>
<text transform="translate(262.94 700.5) rotate(-50)" font-size="7.5" text-anchor="end" font-style="italic">Cpt1b</text>
<rect x="272.68" y="667.53" width="7.3" height="24.27" fill="#5e5e5e" stroke="#3a3a3a" stroke-width="0.5"/>
<rect x="280.38" y="669.96" width="7.3" height="21.84" fill="#f7a540" stroke="#c98a2a" stroke-width="0.5"/>
<line x1="276.33" y1="667.53" x2="276.33" y2="665.59" stroke="#555" stroke-width="0.6"/>
<line x1="274.73" y1="665.59" x2="277.93" y2="665.59" stroke="#555" stroke-width="0.6"/>
<line x1="284.03" y1="669.96" x2="284.03" y2="665.59" stroke="#c98a2a" stroke-width="0.6"/>
<line x1="282.43" y1="665.59" x2="285.63" y2="665.59" stroke="#c98a2a" stroke-width="0.6"/>
<circle cx="274.73" cy="660.01" r="1.45" fill="#4d4d4d" stroke="#262626" stroke-width="0.5"/>
<circle cx="277.93" cy="666.56" r="1.45" fill="#4d4d4d" stroke="#262626" stroke-width="0.5"/>
<circle cx="276.33" cy="667.77" r="1.45" fill="#4d4d4d" stroke="#262626" stroke-width="0.5"/>
<circle cx="275.13" cy="668.74" r="1.45" fill="#4d4d4d" stroke="#262626" stroke-width="0.5"/>
<circle cx="277.53" cy="669.96" r="1.45" fill="#4d4d4d" stroke="#262626" stroke-width="0.5"/>
<circle cx="282.43" cy="665.59" r="1.4" fill="#f7a035" stroke="#b86808" stroke-width="0.65"/>
<circle cx="285.63" cy="666.56" r="1.4" fill="#f7a035" stroke="#b86808" stroke-width="0.65"/>
<circle cx="284.03" cy="669.96" r="1.4" fill="#f7a035" stroke="#b86808" stroke-width="0.65"/>
<circle cx="282.83" cy="674.08" r="1.4" fill="#f7a035" stroke="#b86808" stroke-width="0.65"/>
<circle cx="285.23" cy="677.24" r="1.4" fill="#f7a035" stroke="#b86808" stroke-width="0.65"/>
<text transform="translate(282.18 700.5) rotate(-50)" font-size="7.5" text-anchor="end" font-style="italic">Cox4i1</text>
<rect x="291.92" y="667.53" width="7.3" height="24.27" fill="#5e5e5e" stroke="#3a3a3a" stroke-width="0.5"/>
<rect x="299.62" y="670.44" width="7.3" height="21.36" fill="#f7a540" stroke="#c98a2a" stroke-width="0.5"/>
<line x1="295.57" y1="667.53" x2="295.57" y2="663.89" stroke="#555" stroke-width="0.6"/>
<line x1="293.97" y1="663.89" x2="297.17" y2="663.89" stroke="#555" stroke-width="0.6"/>
<line x1="303.27" y1="670.44" x2="303.27" y2="666.07" stroke="#c98a2a" stroke-width="0.6"/>
<line x1="301.67" y1="666.07" x2="304.87" y2="666.07" stroke="#c98a2a" stroke-width="0.6"/>
<circle cx="293.97" cy="655.64" r="1.45" fill="#4d4d4d" stroke="#262626" stroke-width="0.5"/>
<circle cx="297.17" cy="661.71" r="1.45" fill="#4d4d4d" stroke="#262626" stroke-width="0.5"/>
<circle cx="295.57" cy="669.47" r="1.45" fill="#4d4d4d" stroke="#262626" stroke-width="0.5"/>
<circle cx="294.37" cy="674.33" r="1.45" fill="#4d4d4d" stroke="#262626" stroke-width="0.5"/>
<circle cx="296.77" cy="674.81" r="1.45" fill="#4d4d4d" stroke="#262626" stroke-width="0.5"/>
<circle cx="301.67" cy="666.07" r="1.4" fill="#f7a035" stroke="#b86808" stroke-width="0.65"/>
<circle cx="304.87" cy="667.29" r="1.4" fill="#f7a035" stroke="#b86808" stroke-width="0.65"/>
<circle cx="303.27" cy="669.96" r="1.4" fill="#f7a035" stroke="#b86808" stroke-width="0.65"/>
<circle cx="302.07" cy="673.11" r="1.4" fill="#f7a035" stroke="#b86808" stroke-width="0.65"/>
<circle cx="304.47" cy="679.91" r="1.4" fill="#f7a035" stroke="#b86808" stroke-width="0.65"/>
<text transform="translate(301.42 700.5) rotate(-50)" font-size="7.5" text-anchor="end" font-style="italic">Cox8b</text>
<rect x="311.16" y="667.53" width="7.3" height="24.27" fill="#5e5e5e" stroke="#3a3a3a" stroke-width="0.5"/>
<rect x="318.86" y="667.29" width="7.3" height="24.51" fill="#f7a540" stroke="#c98a2a" stroke-width="0.5"/>
<line x1="314.81" y1="667.53" x2="314.81" y2="660.73" stroke="#555" stroke-width="0.6"/>
<line x1="313.21" y1="660.73" x2="316.41" y2="660.73" stroke="#555" stroke-width="0.6"/>
<line x1="322.51" y1="667.29" x2="322.51" y2="662.92" stroke="#c98a2a" stroke-width="0.6"/>
<line x1="320.91" y1="662.92" x2="324.11" y2="662.92" stroke="#c98a2a" stroke-width="0.6"/>
<circle cx="313.21" cy="636.95" r="1.45" fill="#4d4d4d" stroke="#262626" stroke-width="0.5"/>
<circle cx="316.41" cy="665.59" r="1.45" fill="#4d4d4d" stroke="#262626" stroke-width="0.5"/>
<circle cx="314.81" cy="668.26" r="1.45" fill="#4d4d4d" stroke="#262626" stroke-width="0.5"/>
<circle cx="313.61" cy="674.33" r="1.45" fill="#4d4d4d" stroke="#262626" stroke-width="0.5"/>
<circle cx="316.01" cy="679.66" r="1.45" fill="#4d4d4d" stroke="#262626" stroke-width="0.5"/>
<circle cx="320.91" cy="644.47" r="1.4" fill="#f7a035" stroke="#b86808" stroke-width="0.65"/>
<circle cx="324.11" cy="665.1" r="1.4" fill="#f7a035" stroke="#b86808" stroke-width="0.65"/>
<circle cx="322.51" cy="668.26" r="1.4" fill="#f7a035" stroke="#b86808" stroke-width="0.65"/>
<circle cx="321.31" cy="673.11" r="1.4" fill="#f7a035" stroke="#b86808" stroke-width="0.65"/>
<circle cx="323.71" cy="678.94" r="1.4" fill="#f7a035" stroke="#b86808" stroke-width="0.65"/>
<text transform="translate(320.66 700.5) rotate(-50)" font-size="7.5" text-anchor="end" font-style="italic">Prdm16</text>
<rect x="330.4" y="667.53" width="7.3" height="24.27" fill="#5e5e5e" stroke="#3a3a3a" stroke-width="0.5"/>
<rect x="338.1" y="671.66" width="7.3" height="20.14" fill="#f7a540" stroke="#c98a2a" stroke-width="0.5"/>
<line x1="334.05" y1="667.53" x2="334.05" y2="665.1" stroke="#555" stroke-width="0.6"/>
<line x1="332.45" y1="665.1" x2="335.65" y2="665.1" stroke="#555" stroke-width="0.6"/>
<line x1="341.75" y1="671.66" x2="341.75" y2="667.53" stroke="#c98a2a" stroke-width="0.6"/>
<line x1="340.15" y1="667.53" x2="343.35" y2="667.53" stroke="#c98a2a" stroke-width="0.6"/>
<circle cx="332.45" cy="651.27" r="1.45" fill="#4d4d4d" stroke="#262626" stroke-width="0.5"/>
<circle cx="335.65" cy="663.4" r="1.45" fill="#4d4d4d" stroke="#262626" stroke-width="0.5"/>
<circle cx="334.05" cy="666.56" r="1.45" fill="#4d4d4d" stroke="#262626" stroke-width="0.5"/>
<circle cx="332.85" cy="676.02" r="1.45" fill="#4d4d4d" stroke="#262626" stroke-width="0.5"/>
<circle cx="335.25" cy="680.39" r="1.45" fill="#4d4d4d" stroke="#262626" stroke-width="0.5"/>
<circle cx="340.15" cy="664.37" r="1.4" fill="#f7a035" stroke="#b86808" stroke-width="0.65"/>
<circle cx="343.35" cy="667.29" r="1.4" fill="#f7a035" stroke="#b86808" stroke-width="0.65"/>
<circle cx="341.75" cy="668.26" r="1.4" fill="#f7a035" stroke="#b86808" stroke-width="0.65"/>
<circle cx="340.55" cy="672.14" r="1.4" fill="#f7a035" stroke="#b86808" stroke-width="0.65"/>
<circle cx="342.95" cy="676.02" r="1.4" fill="#f7a035" stroke="#b86808" stroke-width="0.65"/>
<circle cx="342.15" cy="678.45" r="1.4" fill="#f7a035" stroke="#b86808" stroke-width="0.65"/>
<text transform="translate(339.9 700.5) rotate(-50)" font-size="7.5" text-anchor="end" font-style="italic">Esr1</text>
<line x1="134.2" y1="594.72" x2="134.2" y2="691.8" stroke="#333" stroke-width="0.9"/>
<line x1="131.7" y1="594.72" x2="134.2" y2="594.72" stroke="#333" stroke-width="0.9"/>
<text x="130.3" y="597.31" font-size="7.2" text-anchor="end">4</text>
<line x1="131.7" y1="618.99" x2="134.2" y2="618.99" stroke="#333" stroke-width="0.9"/>
<text x="130.3" y="621.58" font-size="7.2" text-anchor="end">3</text>
<line x1="131.7" y1="643.26" x2="134.2" y2="643.26" stroke="#333" stroke-width="0.9"/>
<text x="130.3" y="645.85" font-size="7.2" text-anchor="end">2</text>
<line x1="131.7" y1="667.53" x2="134.2" y2="667.53" stroke="#333" stroke-width="0.9"/>
<text x="130.3" y="670.12" font-size="7.2" text-anchor="end">1</text>
<line x1="131.7" y1="691.8" x2="134.2" y2="691.8" stroke="#333" stroke-width="0.9"/>
<text x="130.3" y="694.39" font-size="7.2" text-anchor="end">0</text>
<line x1="134.2" y1="691.8" x2="349.2" y2="691.8" stroke="#333" stroke-width="0.9"/>
<line x1="145.5" y1="691.8" x2="145.5" y2="694.3" stroke="#333" stroke-width="0.8"/>
<line x1="164.74" y1="691.8" x2="164.74" y2="694.3" stroke="#333" stroke-width="0.8"/>
<line x1="183.98" y1="691.8" x2="183.98" y2="694.3" stroke="#333" stroke-width="0.8"/>
<line x1="203.22" y1="691.8" x2="203.22" y2="694.3" stroke="#333" stroke-width="0.8"/>
<line x1="222.46" y1="691.8" x2="222.46" y2="694.3" stroke="#333" stroke-width="0.8"/>
<line x1="241.7" y1="691.8" x2="241.7" y2="694.3" stroke="#333" stroke-width="0.8"/>
<line x1="260.94" y1="691.8" x2="260.94" y2="694.3" stroke="#333" stroke-width="0.8"/>
<line x1="280.18" y1="691.8" x2="280.18" y2="694.3" stroke="#333" stroke-width="0.8"/>
<line x1="299.42" y1="691.8" x2="299.42" y2="694.3" stroke="#333" stroke-width="0.8"/>
<line x1="318.66" y1="691.8" x2="318.66" y2="694.3" stroke="#333" stroke-width="0.8"/>
<line x1="337.9" y1="691.8" x2="337.9" y2="694.3" stroke="#333" stroke-width="0.8"/>
<circle cx="310.3" cy="601.2" r="1.4" fill="#4a4a4a"/>
<text x="317.6" y="603.5" font-size="7.4">Control</text>
<circle cx="310.3" cy="609.5" r="1.4" fill="#f7a035" stroke="#b86808" stroke-width="0.4"/>
<text x="317.6" y="611.8" font-size="7.4">CVN 527</text>
<text transform="translate(122.07 643) rotate(-90)" font-size="7.7" text-anchor="middle">GOI mRNA / <tspan font-style="italic">Cyclophylin</tspan> (FC)</text>
<rect x="399.7" y="666.97" width="7.3" height="24.33" fill="#5e5e5e" stroke="#3a3a3a" stroke-width="0.5"/>
<rect x="407.7" y="672.57" width="7.3" height="18.73" fill="#f28282" stroke="#c04848" stroke-width="0.5"/>
<line x1="403.35" y1="666.97" x2="403.35" y2="663.56" stroke="#555" stroke-width="0.6"/>
<line x1="401.75" y1="663.56" x2="404.95" y2="663.56" stroke="#555" stroke-width="0.6"/>
<line x1="411.35" y1="672.57" x2="411.35" y2="670.62" stroke="#c04848" stroke-width="0.6"/>
<line x1="409.75" y1="670.62" x2="412.95" y2="670.62" stroke="#c04848" stroke-width="0.6"/>
<circle cx="401.75" cy="656.26" r="1.45" fill="#4d4d4d" stroke="#262626" stroke-width="0.5"/>
<circle cx="404.95" cy="661.37" r="1.45" fill="#4d4d4d" stroke="#262626" stroke-width="0.5"/>
<circle cx="403.35" cy="666.48" r="1.45" fill="#4d4d4d" stroke="#262626" stroke-width="0.5"/>
<circle cx="402.15" cy="672.57" r="1.45" fill="#4d4d4d" stroke="#262626" stroke-width="0.5"/>
<circle cx="404.55" cy="678.65" r="1.45" fill="#4d4d4d" stroke="#262626" stroke-width="0.5"/>
<circle cx="409.75" cy="669.89" r="1.4" fill="#d42a2a" stroke="#a01818" stroke-width="0.65"/>
<circle cx="412.95" cy="671.35" r="1.4" fill="#d42a2a" stroke="#a01818" stroke-width="0.65"/>
<circle cx="411.35" cy="672.57" r="1.4" fill="#d42a2a" stroke="#a01818" stroke-width="0.65"/>
<circle cx="410.15" cy="673.54" r="1.4" fill="#d42a2a" stroke="#a01818" stroke-width="0.65"/>
<circle cx="412.55" cy="674.27" r="1.4" fill="#d42a2a" stroke="#a01818" stroke-width="0.65"/>
<text transform="translate(409.2 700.5) rotate(-50)" font-size="7.5" text-anchor="end" font-style="italic">Ppargc1a</text>
<rect x="419.02" y="666.97" width="7.3" height="24.33" fill="#5e5e5e" stroke="#3a3a3a" stroke-width="0.5"/>
<rect x="427.02" y="660.16" width="7.3" height="31.14" fill="#f28282" stroke="#c04848" stroke-width="0.5"/>
<line x1="422.67" y1="666.97" x2="422.67" y2="664.54" stroke="#555" stroke-width="0.6"/>
<line x1="421.07" y1="664.54" x2="424.27" y2="664.54" stroke="#555" stroke-width="0.6"/>
<line x1="430.67" y1="660.16" x2="430.67" y2="656.51" stroke="#c04848" stroke-width="0.6"/>
<line x1="429.07" y1="656.51" x2="432.27" y2="656.51" stroke="#c04848" stroke-width="0.6"/>
<circle cx="421.07" cy="658.7" r="1.45" fill="#4d4d4d" stroke="#262626" stroke-width="0.5"/>
<circle cx="424.27" cy="666" r="1.45" fill="#4d4d4d" stroke="#262626" stroke-width="0.5"/>
<circle cx="422.67" cy="669.4" r="1.45" fill="#4d4d4d" stroke="#262626" stroke-width="0.5"/>
<circle cx="421.47" cy="671.35" r="1.45" fill="#4d4d4d" stroke="#262626" stroke-width="0.5"/>
<circle cx="429.07" cy="650.67" r="1.4" fill="#d42a2a" stroke="#a01818" stroke-width="0.65"/>
<circle cx="432.27" cy="654.56" r="1.4" fill="#d42a2a" stroke="#a01818" stroke-width="0.65"/>
<circle cx="430.67" cy="660.4" r="1.4" fill="#d42a2a" stroke="#a01818" stroke-width="0.65"/>
<circle cx="429.47" cy="661.37" r="1.4" fill="#d42a2a" stroke="#a01818" stroke-width="0.65"/>
<circle cx="431.87" cy="678.41" r="1.4" fill="#d42a2a" stroke="#a01818" stroke-width="0.65"/>
<text transform="translate(428.52 700.5) rotate(-50)" font-size="7.5" text-anchor="end" font-style="italic">Fabp4</text>
<rect x="438.34" y="666.97" width="7.3" height="24.33" fill="#5e5e5e" stroke="#3a3a3a" stroke-width="0.5"/>
<rect x="446.34" y="646.29" width="7.3" height="45.01" fill="#f28282" stroke="#c04848" stroke-width="0.5"/>
<line x1="441.99" y1="666.97" x2="441.99" y2="664.05" stroke="#555" stroke-width="0.6"/>
<line x1="440.39" y1="664.05" x2="443.59" y2="664.05" stroke="#555" stroke-width="0.6"/>
<line x1="449.99" y1="646.29" x2="449.99" y2="638.26" stroke="#c04848" stroke-width="0.6"/>
<line x1="448.39" y1="638.26" x2="451.59" y2="638.26" stroke="#c04848" stroke-width="0.6"/>
<circle cx="440.39" cy="651.89" r="1.45" fill="#4d4d4d" stroke="#262626" stroke-width="0.5"/>
<circle cx="443.59" cy="666" r="1.45" fill="#4d4d4d" stroke="#262626" stroke-width="0.5"/>
<circle cx="441.99" cy="669.4" r="1.45" fill="#4d4d4d" stroke="#262626" stroke-width="0.5"/>
<circle cx="440.79" cy="672.57" r="1.45" fill="#4d4d4d" stroke="#262626" stroke-width="0.5"/>
<circle cx="443.19" cy="673.78" r="1.45" fill="#4d4d4d" stroke="#262626" stroke-width="0.5"/>
<circle cx="448.39" cy="611.5" r="1.4" fill="#d42a2a" stroke="#a01818" stroke-width="0.65"/>
<circle cx="451.59" cy="641.67" r="1.4" fill="#d42a2a" stroke="#a01818" stroke-width="0.65"/>
<circle cx="449.99" cy="648.97" r="1.4" fill="#d42a2a" stroke="#a01818" stroke-width="0.65"/>
<circle cx="448.79" cy="649.45" r="1.4" fill="#d42a2a" stroke="#a01818" stroke-width="0.65"/>
<circle cx="451.19" cy="656.75" r="1.4" fill="#d42a2a" stroke="#a01818" stroke-width="0.65"/>
<circle cx="450.39" cy="663.32" r="1.4" fill="#d42a2a" stroke="#a01818" stroke-width="0.65"/>
<text transform="translate(447.84 700.5) rotate(-50)" font-size="7.5" text-anchor="end" font-style="italic">Ucp1</text>
<rect x="457.66" y="666.97" width="7.3" height="24.33" fill="#5e5e5e" stroke="#3a3a3a" stroke-width="0.5"/>
<rect x="465.66" y="643.37" width="7.3" height="47.93" fill="#f28282" stroke="#c04848" stroke-width="0.5"/>
<line x1="461.31" y1="666.97" x2="461.31" y2="666.97" stroke="#555" stroke-width="0.6"/>
<line x1="459.71" y1="666.97" x2="462.91" y2="666.97" stroke="#555" stroke-width="0.6"/>
<line x1="469.31" y1="643.37" x2="469.31" y2="635.34" stroke="#c04848" stroke-width="0.6"/>
<line x1="467.71" y1="635.34" x2="470.91" y2="635.34" stroke="#c04848" stroke-width="0.6"/>
<circle cx="459.71" cy="658.45" r="1.45" fill="#4d4d4d" stroke="#262626" stroke-width="0.5"/>
<circle cx="462.91" cy="659.67" r="1.45" fill="#4d4d4d" stroke="#262626" stroke-width="0.5"/>
<circle cx="461.31" cy="666.97" r="1.45" fill="#4d4d4d" stroke="#262626" stroke-width="0.5"/>
<circle cx="460.11" cy="672.57" r="1.45" fill="#4d4d4d" stroke="#262626" stroke-width="0.5"/>
<circle cx="462.51" cy="674.76" r="1.45" fill="#4d4d4d" stroke="#262626" stroke-width="0.5"/>
<circle cx="467.71" cy="607.12" r="1.4" fill="#d42a2a" stroke="#a01818" stroke-width="0.65"/>
<circle cx="470.91" cy="640.69" r="1.4" fill="#d42a2a" stroke="#a01818" stroke-width="0.65"/>
<circle cx="469.31" cy="645.07" r="1.4" fill="#d42a2a" stroke="#a01818" stroke-width="0.65"/>
<circle cx="468.11" cy="654.08" r="1.4" fill="#d42a2a" stroke="#a01818" stroke-width="0.65"/>
<circle cx="470.51" cy="655.05" r="1.4" fill="#d42a2a" stroke="#a01818" stroke-width="0.65"/>
<circle cx="469.71" cy="659.18" r="1.4" fill="#d42a2a" stroke="#a01818" stroke-width="0.65"/>
<text transform="translate(467.16 700.5) rotate(-50)" font-size="7.5" text-anchor="end" font-style="italic">Elovl3</text>
<rect x="476.98" y="666.97" width="7.3" height="24.33" fill="#5e5e5e" stroke="#3a3a3a" stroke-width="0.5"/>
<rect x="484.98" y="646.78" width="7.3" height="44.52" fill="#f28282" stroke="#c04848" stroke-width="0.5"/>
<line x1="480.63" y1="666.97" x2="480.63" y2="664.54" stroke="#555" stroke-width="0.6"/>
<line x1="479.03" y1="664.54" x2="482.23" y2="664.54" stroke="#555" stroke-width="0.6"/>
<line x1="488.63" y1="646.78" x2="488.63" y2="639.23" stroke="#c04848" stroke-width="0.6"/>
<line x1="487.03" y1="639.23" x2="490.23" y2="639.23" stroke="#c04848" stroke-width="0.6"/>
<circle cx="479.03" cy="648.72" r="1.45" fill="#4d4d4d" stroke="#262626" stroke-width="0.5"/>
<circle cx="482.23" cy="661.86" r="1.45" fill="#4d4d4d" stroke="#262626" stroke-width="0.5"/>
<circle cx="480.63" cy="664.05" r="1.45" fill="#4d4d4d" stroke="#262626" stroke-width="0.5"/>
<circle cx="479.43" cy="666.97" r="1.45" fill="#4d4d4d" stroke="#262626" stroke-width="0.5"/>
<circle cx="481.83" cy="678.16" r="1.45" fill="#4d4d4d" stroke="#262626" stroke-width="0.5"/>
<circle cx="481.03" cy="679.62" r="1.45" fill="#4d4d4d" stroke="#262626" stroke-width="0.5"/>
<circle cx="487.03" cy="623.18" r="1.4" fill="#d42a2a" stroke="#a01818" stroke-width="0.65"/>
<circle cx="490.23" cy="623.18" r="1.4" fill="#d42a2a" stroke="#a01818" stroke-width="0.65"/>
<circle cx="488.63" cy="653.1" r="1.4" fill="#d42a2a" stroke="#a01818" stroke-width="0.65"/>
<circle cx="487.43" cy="656.26" r="1.4" fill="#d42a2a" stroke="#a01818" stroke-width="0.65"/>
<circle cx="489.83" cy="661.37" r="1.4" fill="#d42a2a" stroke="#a01818" stroke-width="0.65"/>
<circle cx="489.03" cy="661.86" r="1.4" fill="#d42a2a" stroke="#a01818" stroke-width="0.65"/>
<text transform="translate(486.48 700.5) rotate(-50)" font-size="7.5" text-anchor="end" font-style="italic">Dio2</text>
<rect x="496.3" y="666.97" width="7.3" height="24.33" fill="#5e5e5e" stroke="#3a3a3a" stroke-width="0.5"/>
<rect x="504.3" y="666.48" width="7.3" height="24.82" fill="#f28282" stroke="#c04848" stroke-width="0.5"/>
<line x1="499.95" y1="666.97" x2="499.95" y2="665.75" stroke="#555" stroke-width="0.6"/>
<line x1="498.35" y1="665.75" x2="501.55" y2="665.75" stroke="#555" stroke-width="0.6"/>
<line x1="507.95" y1="666.48" x2="507.95" y2="663.32" stroke="#c04848" stroke-width="0.6"/>
<line x1="506.35" y1="663.32" x2="509.55" y2="663.32" stroke="#c04848" stroke-width="0.6"/>
<circle cx="498.35" cy="658.45" r="1.45" fill="#4d4d4d" stroke="#262626" stroke-width="0.5"/>
<circle cx="501.55" cy="666" r="1.45" fill="#4d4d4d" stroke="#262626" stroke-width="0.5"/>
<circle cx="499.95" cy="666.97" r="1.45" fill="#4d4d4d" stroke="#262626" stroke-width="0.5"/>
<circle cx="498.75" cy="667.46" r="1.45" fill="#4d4d4d" stroke="#262626" stroke-width="0.5"/>
<circle cx="501.15" cy="672.57" r="1.45" fill="#4d4d4d" stroke="#262626" stroke-width="0.5"/>
<circle cx="506.35" cy="656.75" r="1.4" fill="#d42a2a" stroke="#a01818" stroke-width="0.65"/>
<circle cx="509.55" cy="659.67" r="1.4" fill="#d42a2a" stroke="#a01818" stroke-width="0.65"/>
<circle cx="507.95" cy="666.97" r="1.4" fill="#d42a2a" stroke="#a01818" stroke-width="0.65"/>
<circle cx="506.75" cy="669.4" r="1.4" fill="#d42a2a" stroke="#a01818" stroke-width="0.65"/>
<circle cx="509.15" cy="670.62" r="1.4" fill="#d42a2a" stroke="#a01818" stroke-width="0.65"/>
<text transform="translate(505.8 700.5) rotate(-50)" font-size="7.5" text-anchor="end" font-style="italic">Cidea</text>
<rect x="515.62" y="667.21" width="7.3" height="24.09" fill="#5e5e5e" stroke="#3a3a3a" stroke-width="0.5"/>
<rect x="523.62" y="665.02" width="7.3" height="26.28" fill="#f28282" stroke="#c04848" stroke-width="0.5"/>
<line x1="519.27" y1="667.21" x2="519.27" y2="665.75" stroke="#555" stroke-width="0.6"/>
<line x1="517.67" y1="665.75" x2="520.87" y2="665.75" stroke="#555" stroke-width="0.6"/>
<line x1="527.27" y1="665.02" x2="527.27" y2="661.62" stroke="#c04848" stroke-width="0.6"/>
<line x1="525.67" y1="661.62" x2="528.87" y2="661.62" stroke="#c04848" stroke-width="0.6"/>
<circle cx="517.67" cy="654.56" r="1.45" fill="#4d4d4d" stroke="#262626" stroke-width="0.5"/>
<circle cx="520.87" cy="663.81" r="1.45" fill="#4d4d4d" stroke="#262626" stroke-width="0.5"/>
<circle cx="519.27" cy="665.51" r="1.45" fill="#4d4d4d" stroke="#262626" stroke-width="0.5"/>
<circle cx="518.07" cy="668.19" r="1.45" fill="#4d4d4d" stroke="#262626" stroke-width="0.5"/>
<circle cx="520.47" cy="678.65" r="1.45" fill="#4d4d4d" stroke="#262626" stroke-width="0.5"/>
<circle cx="525.67" cy="655.53" r="1.4" fill="#d42a2a" stroke="#a01818" stroke-width="0.65"/>
<circle cx="528.87" cy="656.26" r="1.4" fill="#d42a2a" stroke="#a01818" stroke-width="0.65"/>
<circle cx="527.27" cy="661.62" r="1.4" fill="#d42a2a" stroke="#a01818" stroke-width="0.65"/>
<circle cx="526.07" cy="666" r="1.4" fill="#d42a2a" stroke="#a01818" stroke-width="0.65"/>
<circle cx="528.47" cy="671.59" r="1.4" fill="#d42a2a" stroke="#a01818" stroke-width="0.65"/>
<circle cx="527.67" cy="676.46" r="1.4" fill="#d42a2a" stroke="#a01818" stroke-width="0.65"/>
<text transform="translate(525.12 700.5) rotate(-50)" font-size="7.5" text-anchor="end" font-style="italic">Cpt1b</text>
<rect x="534.94" y="666.97" width="7.3" height="24.33" fill="#5e5e5e" stroke="#3a3a3a" stroke-width="0.5"/>
<rect x="542.94" y="664.29" width="7.3" height="27.01" fill="#f28282" stroke="#c04848" stroke-width="0.5"/>
<line x1="538.59" y1="666.97" x2="538.59" y2="665.75" stroke="#555" stroke-width="0.6"/>
<line x1="536.99" y1="665.75" x2="540.19" y2="665.75" stroke="#555" stroke-width="0.6"/>
<line x1="546.59" y1="664.29" x2="546.59" y2="662.1" stroke="#c04848" stroke-width="0.6"/>
<line x1="544.99" y1="662.1" x2="548.19" y2="662.1" stroke="#c04848" stroke-width="0.6"/>
<circle cx="536.99" cy="663.32" r="1.45" fill="#4d4d4d" stroke="#262626" stroke-width="0.5"/>
<circle cx="540.19" cy="661.62" r="1.45" fill="#4d4d4d" stroke="#262626" stroke-width="0.5"/>
<circle cx="538.59" cy="666.48" r="1.45" fill="#4d4d4d" stroke="#262626" stroke-width="0.5"/>
<circle cx="537.39" cy="668.67" r="1.45" fill="#4d4d4d" stroke="#262626" stroke-width="0.5"/>
<circle cx="539.79" cy="670.38" r="1.45" fill="#4d4d4d" stroke="#262626" stroke-width="0.5"/>
<circle cx="544.99" cy="654.08" r="1.4" fill="#d42a2a" stroke="#a01818" stroke-width="0.65"/>
<circle cx="548.19" cy="660.64" r="1.4" fill="#d42a2a" stroke="#a01818" stroke-width="0.65"/>
<circle cx="546.59" cy="660.64" r="1.4" fill="#d42a2a" stroke="#a01818" stroke-width="0.65"/>
<circle cx="545.39" cy="666" r="1.4" fill="#d42a2a" stroke="#a01818" stroke-width="0.65"/>
<circle cx="547.79" cy="669.4" r="1.4" fill="#d42a2a" stroke="#a01818" stroke-width="0.65"/>
<circle cx="546.99" cy="671.59" r="1.4" fill="#d42a2a" stroke="#a01818" stroke-width="0.65"/>
<text transform="translate(544.44 700.5) rotate(-50)" font-size="7.5" text-anchor="end" font-style="italic">Cox4i1</text>
<rect x="554.26" y="666.97" width="7.3" height="24.33" fill="#5e5e5e" stroke="#3a3a3a" stroke-width="0.5"/>
<rect x="562.26" y="665.51" width="7.3" height="25.79" fill="#f28282" stroke="#c04848" stroke-width="0.5"/>
<line x1="557.91" y1="666.97" x2="557.91" y2="665.27" stroke="#555" stroke-width="0.6"/>
<line x1="556.31" y1="665.27" x2="559.51" y2="665.27" stroke="#555" stroke-width="0.6"/>
<line x1="565.91" y1="665.51" x2="565.91" y2="663.56" stroke="#c04848" stroke-width="0.6"/>
<line x1="564.31" y1="663.56" x2="567.51" y2="663.56" stroke="#c04848" stroke-width="0.6"/>
<circle cx="556.31" cy="662.83" r="1.45" fill="#4d4d4d" stroke="#262626" stroke-width="0.5"/>
<circle cx="559.51" cy="663.81" r="1.45" fill="#4d4d4d" stroke="#262626" stroke-width="0.5"/>
<circle cx="557.91" cy="666" r="1.45" fill="#4d4d4d" stroke="#262626" stroke-width="0.5"/>
<circle cx="556.71" cy="669.89" r="1.45" fill="#4d4d4d" stroke="#262626" stroke-width="0.5"/>
<circle cx="559.11" cy="675.24" r="1.45" fill="#4d4d4d" stroke="#262626" stroke-width="0.5"/>
<circle cx="564.31" cy="657.24" r="1.4" fill="#d42a2a" stroke="#a01818" stroke-width="0.65"/>
<circle cx="567.51" cy="661.62" r="1.4" fill="#d42a2a" stroke="#a01818" stroke-width="0.65"/>
<circle cx="565.91" cy="665.51" r="1.4" fill="#d42a2a" stroke="#a01818" stroke-width="0.65"/>
<circle cx="564.71" cy="666.48" r="1.4" fill="#d42a2a" stroke="#a01818" stroke-width="0.65"/>
<circle cx="567.11" cy="668.19" r="1.4" fill="#d42a2a" stroke="#a01818" stroke-width="0.65"/>
<circle cx="566.31" cy="670.38" r="1.4" fill="#d42a2a" stroke="#a01818" stroke-width="0.65"/>
<text transform="translate(563.76 700.5) rotate(-50)" font-size="7.5" text-anchor="end" font-style="italic">Cox8b</text>
<rect x="573.58" y="666.97" width="7.3" height="24.33" fill="#5e5e5e" stroke="#3a3a3a" stroke-width="0.5"/>
<rect x="581.58" y="665.02" width="7.3" height="26.28" fill="#f28282" stroke="#c04848" stroke-width="0.5"/>
<line x1="577.23" y1="666.97" x2="577.23" y2="665.27" stroke="#555" stroke-width="0.6"/>
<line x1="575.63" y1="665.27" x2="578.83" y2="665.27" stroke="#555" stroke-width="0.6"/>
<line x1="585.23" y1="665.02" x2="585.23" y2="662.35" stroke="#c04848" stroke-width="0.6"/>
<line x1="583.63" y1="662.35" x2="586.83" y2="662.35" stroke="#c04848" stroke-width="0.6"/>
<circle cx="575.63" cy="656.26" r="1.45" fill="#4d4d4d" stroke="#262626" stroke-width="0.5"/>
<circle cx="578.83" cy="665.02" r="1.45" fill="#4d4d4d" stroke="#262626" stroke-width="0.5"/>
<circle cx="577.23" cy="666.48" r="1.45" fill="#4d4d4d" stroke="#262626" stroke-width="0.5"/>
<circle cx="576.03" cy="668.19" r="1.45" fill="#4d4d4d" stroke="#262626" stroke-width="0.5"/>
<circle cx="578.43" cy="678.16" r="1.45" fill="#4d4d4d" stroke="#262626" stroke-width="0.5"/>
<circle cx="583.63" cy="649.7" r="1.4" fill="#d42a2a" stroke="#a01818" stroke-width="0.65"/>
<circle cx="586.83" cy="665.02" r="1.4" fill="#d42a2a" stroke="#a01818" stroke-width="0.65"/>
<circle cx="585.23" cy="666" r="1.4" fill="#d42a2a" stroke="#a01818" stroke-width="0.65"/>
<circle cx="584.03" cy="671.59" r="1.4" fill="#d42a2a" stroke="#a01818" stroke-width="0.65"/>
<circle cx="586.43" cy="671.59" r="1.4" fill="#d42a2a" stroke="#a01818" stroke-width="0.65"/>
<circle cx="585.63" cy="675.97" r="1.4" fill="#d42a2a" stroke="#a01818" stroke-width="0.65"/>
<text transform="translate(583.08 700.5) rotate(-50)" font-size="7.5" text-anchor="end" font-style="italic">Prdm16</text>
<rect x="592.9" y="666.97" width="7.3" height="24.33" fill="#5e5e5e" stroke="#3a3a3a" stroke-width="0.5"/>
<rect x="600.9" y="664.29" width="7.3" height="27.01" fill="#f28282" stroke="#c04848" stroke-width="0.5"/>
<line x1="596.55" y1="666.97" x2="596.55" y2="665.75" stroke="#555" stroke-width="0.6"/>
<line x1="594.95" y1="665.75" x2="598.15" y2="665.75" stroke="#555" stroke-width="0.6"/>
<line x1="604.55" y1="664.29" x2="604.55" y2="662.1" stroke="#c04848" stroke-width="0.6"/>
<line x1="602.95" y1="662.1" x2="606.15" y2="662.1" stroke="#c04848" stroke-width="0.6"/>
<circle cx="594.95" cy="664.29" r="1.45" fill="#4d4d4d" stroke="#262626" stroke-width="0.5"/>
<circle cx="598.15" cy="665.51" r="1.45" fill="#4d4d4d" stroke="#262626" stroke-width="0.5"/>
<circle cx="596.55" cy="667.7" r="1.45" fill="#4d4d4d" stroke="#262626" stroke-width="0.5"/>
<circle cx="595.35" cy="670.86" r="1.45" fill="#4d4d4d" stroke="#262626" stroke-width="0.5"/>
<circle cx="602.95" cy="654.56" r="1.4" fill="#d42a2a" stroke="#a01818" stroke-width="0.65"/>
<circle cx="606.15" cy="659.91" r="1.4" fill="#d42a2a" stroke="#a01818" stroke-width="0.65"/>
<circle cx="604.55" cy="661.62" r="1.4" fill="#d42a2a" stroke="#a01818" stroke-width="0.65"/>
<circle cx="603.35" cy="667.21" r="1.4" fill="#d42a2a" stroke="#a01818" stroke-width="0.65"/>
<circle cx="605.75" cy="669.4" r="1.4" fill="#d42a2a" stroke="#a01818" stroke-width="0.65"/>
<circle cx="604.95" cy="673.78" r="1.4" fill="#d42a2a" stroke="#a01818" stroke-width="0.65"/>
<text transform="translate(602.4 700.5) rotate(-50)" font-size="7.5" text-anchor="end" font-style="italic">Esr1</text>
<line x1="396.4" y1="593.98" x2="396.4" y2="691.3" stroke="#333" stroke-width="0.9"/>
<line x1="393.9" y1="593.98" x2="396.4" y2="593.98" stroke="#333" stroke-width="0.9"/>
<text x="392.5" y="596.57" font-size="7.2" text-anchor="end">4</text>
<line x1="393.9" y1="618.31" x2="396.4" y2="618.31" stroke="#333" stroke-width="0.9"/>
<text x="392.5" y="620.9" font-size="7.2" text-anchor="end">3</text>
<line x1="393.9" y1="642.64" x2="396.4" y2="642.64" stroke="#333" stroke-width="0.9"/>
<text x="392.5" y="645.23" font-size="7.2" text-anchor="end">2</text>
<line x1="393.9" y1="666.97" x2="396.4" y2="666.97" stroke="#333" stroke-width="0.9"/>
<text x="392.5" y="669.56" font-size="7.2" text-anchor="end">1</text>
<line x1="393.9" y1="691.3" x2="396.4" y2="691.3" stroke="#333" stroke-width="0.9"/>
<text x="392.5" y="693.89" font-size="7.2" text-anchor="end">0</text>
<line x1="396.4" y1="691.3" x2="611.4" y2="691.3" stroke="#333" stroke-width="0.9"/>
<line x1="407.2" y1="691.3" x2="407.2" y2="693.8" stroke="#333" stroke-width="0.8"/>
<line x1="426.52" y1="691.3" x2="426.52" y2="693.8" stroke="#333" stroke-width="0.8"/>
<line x1="445.84" y1="691.3" x2="445.84" y2="693.8" stroke="#333" stroke-width="0.8"/>
<line x1="465.16" y1="691.3" x2="465.16" y2="693.8" stroke="#333" stroke-width="0.8"/>
<line x1="484.48" y1="691.3" x2="484.48" y2="693.8" stroke="#333" stroke-width="0.8"/>
<line x1="503.8" y1="691.3" x2="503.8" y2="693.8" stroke="#333" stroke-width="0.8"/>
<line x1="523.12" y1="691.3" x2="523.12" y2="693.8" stroke="#333" stroke-width="0.8"/>
<line x1="542.44" y1="691.3" x2="542.44" y2="693.8" stroke="#333" stroke-width="0.8"/>
<line x1="561.76" y1="691.3" x2="561.76" y2="693.8" stroke="#333" stroke-width="0.8"/>
<line x1="581.08" y1="691.3" x2="581.08" y2="693.8" stroke="#333" stroke-width="0.8"/>
<line x1="600.4" y1="691.3" x2="600.4" y2="693.8" stroke="#333" stroke-width="0.8"/>
<circle cx="573.6" cy="591.7" r="1.4" fill="#4a4a4a"/>
<text x="580.9" y="594" font-size="7.4">Control</text>
<circle cx="573.6" cy="600.4" r="1.4" fill="#d42a2a" stroke="#a01818" stroke-width="0.4"/>
<text x="580.9" y="602.7" font-size="7.4">CVN 527</text>
<line x1="437.6" y1="599.5" x2="490.8" y2="599.5" stroke="#111" stroke-width="1.8"/>
<text x="463.3" y="595.1" font-size="6.7" text-anchor="middle">&lt;0.01</text>
<text transform="translate(383.77 643) rotate(-90)" font-size="7.7" text-anchor="middle">GOI mRNA / <tspan font-style="italic">Cyclophylin</tspan> (FC)</text>
<text x="1" y="9.6" font-size="13.8" font-weight="bold">A</text>
<text x="247.5" y="11.4" font-size="13.8" font-weight="bold">B</text>
<text x="430" y="11.4" font-size="13.8" font-weight="bold">C</text>
<text x="1.2" y="146.3" font-size="13.8" font-weight="bold">D</text>
<text x="139.2" y="146.2" font-size="13.8" font-weight="bold">E</text>
<text x="276.4" y="146.2" font-size="13.8" font-weight="bold">F</text>
<text x="415.8" y="146" font-size="13.8" font-weight="bold">G</text>
<text x="535.3" y="146" font-size="13.8" font-weight="bold">H</text>
<text x="2.7" y="285.6" font-size="13.8" font-weight="bold">I</text>
<text x="159" y="284.3" font-size="13.8" font-weight="bold">J</text>
<text x="365.4" y="284.3" font-size="13.8" font-weight="bold">K</text>
<text x="1.5" y="432.1" font-size="13.8" font-weight="bold">L</text>
<text x="137.7" y="432.1" font-size="13.8" font-weight="bold">M</text>
<text x="277.7" y="430.2" font-size="13.8" font-weight="bold">N</text>
<text x="410.3" y="431" font-size="13.8" font-weight="bold">O</text>
<text x="533.6" y="431" font-size="13.8" font-weight="bold">P</text>
<text x="4.9" y="580.5" font-size="13.8" font-weight="bold">Q</text>
<text x="114.2" y="580.4" font-size="13.8" font-weight="bold">R</text>
<text x="377.5" y="580.4" font-size="13.8" font-weight="bold">S</text>
</svg>
</body></html>
